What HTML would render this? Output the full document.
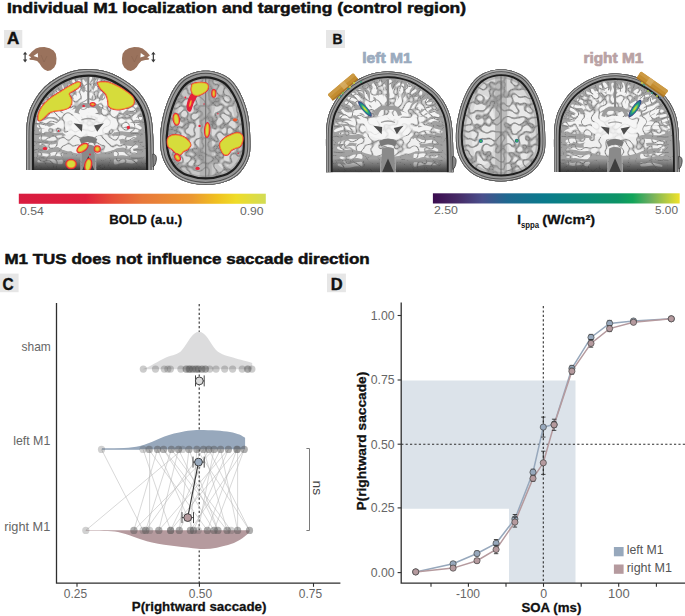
<!DOCTYPE html><html><head><meta charset="utf-8"><title>M1 TUS figure</title>
<style>html,body{margin:0;padding:0;background:#fff;}svg{display:block;}text{font-family:"Liberation Sans",sans-serif;}</style></head><body>
<svg width="685" height="616" viewBox="0 0 685 616">
<defs>
<linearGradient id="gBold" x1="0" x2="1" y1="0" y2="0">
<stop offset="0" stop-color="#d81c40"/><stop offset="0.27" stop-color="#e01f3c"/><stop offset="0.38" stop-color="#e6503a"/>
<stop offset="0.5" stop-color="#e8783a"/><stop offset="0.7" stop-color="#eb9832"/><stop offset="0.8" stop-color="#f0c020"/>
<stop offset="0.88" stop-color="#efdc28"/><stop offset="1" stop-color="#d2dc55"/></linearGradient>
<linearGradient id="gVir" x1="0" x2="1" y1="0" y2="0">
<stop offset="0" stop-color="#3b0c4f"/><stop offset="0.1" stop-color="#462a66"/><stop offset="0.2" stop-color="#4a4f8c"/>
<stop offset="0.3" stop-color="#1f6890"/><stop offset="0.45" stop-color="#0a7a8c"/><stop offset="0.6" stop-color="#0a877a"/>
<stop offset="0.75" stop-color="#0d9466"/><stop offset="0.81" stop-color="#12a45a"/><stop offset="0.88" stop-color="#6aae60"/>
<stop offset="1" stop-color="#f0e22a"/></linearGradient>
<radialGradient id="gHot" cx="0.5" cy="0.5" r="0.5">
<stop offset="0" stop-color="#e8e030"/><stop offset="0.3" stop-color="#8cc84a"/><stop offset="0.55" stop-color="#1fa080"/>
<stop offset="0.8" stop-color="#2a6a8e"/><stop offset="1" stop-color="#3a2a70"/></radialGradient>
<filter id="warp" x="-15%" y="-15%" width="130%" height="130%"><feTurbulence type="fractalNoise" baseFrequency="0.13" numOctaves="2" seed="4"/><feDisplacementMap in="SourceGraphic" scale="6" xChannelSelector="R" yChannelSelector="G"/></filter>
<filter id="soft" x="-5%" y="-5%" width="110%" height="110%"><feGaussianBlur stdDeviation="0.45"/></filter>
<filter id="cAt" x="0" y="0" width="100%" height="100%" color-interpolation-filters="sRGB"><feTurbulence type="turbulence" baseFrequency="0.13" numOctaves="1" seed="7" result="n"/><feColorMatrix in="n" type="matrix" values="0 0 0 0 0.62  0 0 0 0 0.62  0 0 0 0 0.62  0 0 0 -7 1.1" result="g"/><feColorMatrix in="n" type="matrix" values="0 0 0 0 0.45  0 0 0 0 0.45  0 0 0 0 0.45  0 0 0 -22 0.6" result="d"/><feMerge><feMergeNode in="g"/><feMergeNode in="d"/></feMerge><feComposite in2="SourceGraphic" operator="in"/></filter>
<filter id="aAt" x="0" y="0" width="100%" height="100%" color-interpolation-filters="sRGB"><feTurbulence type="turbulence" baseFrequency="0.14" numOctaves="1" seed="11" result="n"/><feColorMatrix in="n" type="matrix" values="0 0 0 0 0.6  0 0 0 0 0.6  0 0 0 0 0.6  0 0 0 -7 1.5" result="g"/><feColorMatrix in="n" type="matrix" values="0 0 0 0 0.45  0 0 0 0 0.45  0 0 0 0 0.45  0 0 0 -22 0.8" result="d"/><feMerge><feMergeNode in="g"/><feMergeNode in="d"/></feMerge><feComposite in2="SourceGraphic" operator="in"/></filter>
<filter id="cB1t" x="0" y="0" width="100%" height="100%" color-interpolation-filters="sRGB"><feTurbulence type="turbulence" baseFrequency="0.13" numOctaves="1" seed="8" result="n"/><feColorMatrix in="n" type="matrix" values="0 0 0 0 0.62  0 0 0 0 0.62  0 0 0 0 0.62  0 0 0 -7 1.1" result="g"/><feColorMatrix in="n" type="matrix" values="0 0 0 0 0.45  0 0 0 0 0.45  0 0 0 0 0.45  0 0 0 -22 0.6" result="d"/><feMerge><feMergeNode in="g"/><feMergeNode in="d"/></feMerge><feComposite in2="SourceGraphic" operator="in"/></filter>
<filter id="aBt" x="0" y="0" width="100%" height="100%" color-interpolation-filters="sRGB"><feTurbulence type="turbulence" baseFrequency="0.14" numOctaves="1" seed="12" result="n"/><feColorMatrix in="n" type="matrix" values="0 0 0 0 0.6  0 0 0 0 0.6  0 0 0 0 0.6  0 0 0 -7 1.5" result="g"/><feColorMatrix in="n" type="matrix" values="0 0 0 0 0.45  0 0 0 0 0.45  0 0 0 0 0.45  0 0 0 -22 0.8" result="d"/><feMerge><feMergeNode in="g"/><feMergeNode in="d"/></feMerge><feComposite in2="SourceGraphic" operator="in"/></filter>
<filter id="cB2t" x="0" y="0" width="100%" height="100%" color-interpolation-filters="sRGB"><feTurbulence type="turbulence" baseFrequency="0.13" numOctaves="1" seed="9" result="n"/><feColorMatrix in="n" type="matrix" values="0 0 0 0 0.62  0 0 0 0 0.62  0 0 0 0 0.62  0 0 0 -7 1.1" result="g"/><feColorMatrix in="n" type="matrix" values="0 0 0 0 0.45  0 0 0 0 0.45  0 0 0 0 0.45  0 0 0 -22 0.6" result="d"/><feMerge><feMergeNode in="g"/><feMergeNode in="d"/></feMerge><feComposite in2="SourceGraphic" operator="in"/></filter>
<clipPath id="cAclip"><path transform="translate(26.3,69)" d="M0.00,101.00 C0.00,97.50 0.00,86.00 0.00,80.00 C0.00,74.00 -0.08,69.32 0.00,65.00 C0.08,60.68 0.03,57.82 0.50,54.10 C0.97,50.38 1.75,46.12 2.80,42.70 C3.85,39.28 5.18,36.63 6.80,33.60 C8.42,30.57 10.23,27.43 12.50,24.50 C14.77,21.57 17.18,18.73 20.40,16.00 C23.62,13.27 28.00,10.27 31.80,8.10 C35.60,5.93 39.80,4.23 43.20,3.00 C46.60,1.77 48.78,1.20 52.20,0.70 C55.62,0.20 59.88,-0.10 63.70,0.00 C67.52,0.10 71.32,0.52 75.10,1.30 C78.88,2.08 82.62,3.10 86.40,4.70 C90.18,6.30 94.00,8.45 97.80,10.90 C101.60,13.35 105.98,16.37 109.20,19.40 C112.42,22.43 114.83,25.58 117.10,29.10 C119.37,32.62 121.38,36.72 122.80,40.50 C124.22,44.28 124.93,47.72 125.60,51.80 C126.27,55.88 126.52,60.30 126.80,65.00 C127.08,69.70 127.18,74.00 127.30,80.00 C127.42,86.00 127.47,97.50 127.50,101.00 Z"/></clipPath>
</defs>
<text x="7" y="12.8" font-size="15.5" font-weight="bold" fill="#111" stroke="#111" stroke-width="0.5" textLength="459" lengthAdjust="spacingAndGlyphs">Individual M1 localization and targeting (control region)</text>
<rect x="4" y="30" width="18.3" height="18" fill="#e6e6e6"/>
<text x="7" y="43.8" font-size="16" font-weight="bold" fill="#111" stroke="#111" stroke-width="0.4" textLength="12.3" lengthAdjust="spacingAndGlyphs">A</text>
<rect x="326" y="30" width="19" height="18" fill="#e6e6e6"/>
<text x="332.4" y="43.6" font-size="15" font-weight="bold" fill="#111" stroke="#111" stroke-width="0.4" textLength="10" lengthAdjust="spacingAndGlyphs">B</text>
<g transform="translate(26.3,69)"><clipPath id="cAc"><path d="M0.00,101.00 C0.00,97.50 0.00,86.00 0.00,80.00 C0.00,74.00 -0.08,69.32 0.00,65.00 C0.08,60.68 0.03,57.82 0.50,54.10 C0.97,50.38 1.75,46.12 2.80,42.70 C3.85,39.28 5.18,36.63 6.80,33.60 C8.42,30.57 10.23,27.43 12.50,24.50 C14.77,21.57 17.18,18.73 20.40,16.00 C23.62,13.27 28.00,10.27 31.80,8.10 C35.60,5.93 39.80,4.23 43.20,3.00 C46.60,1.77 48.78,1.20 52.20,0.70 C55.62,0.20 59.88,-0.10 63.70,0.00 C67.52,0.10 71.32,0.52 75.10,1.30 C78.88,2.08 82.62,3.10 86.40,4.70 C90.18,6.30 94.00,8.45 97.80,10.90 C101.60,13.35 105.98,16.37 109.20,19.40 C112.42,22.43 114.83,25.58 117.10,29.10 C119.37,32.62 121.38,36.72 122.80,40.50 C124.22,44.28 124.93,47.72 125.60,51.80 C126.27,55.88 126.52,60.30 126.80,65.00 C127.08,69.70 127.18,74.00 127.30,80.00 C127.42,86.00 127.47,97.50 127.50,101.00 Z"/></clipPath>
<g clip-path="url(#cAc)"><g filter="url(#soft)">
<rect x="-3" y="-3" width="134" height="108" fill="#a2a2a2"/>
<g>
<ellipse cx="62" cy="55" rx="30" ry="17" fill="#f4f4f4"/>
<ellipse cx="62" cy="74" rx="32" ry="11" fill="#efefef"/>
<path d="M37.14,54.43 C36.27,53.58 33.78,54.30 32.11,54.54 C30.44,54.78 28.78,55.34 27.13,55.88 C25.47,56.42 23.85,57.81 22.16,57.77 C20.48,57.73 18.73,56.02 17.04,55.65 C15.34,55.29 13.06,55.31 11.99,55.56 C10.92,55.82 10.57,56.67 10.59,57.19 C10.62,57.71 11.02,58.36 12.12,58.69 C13.22,59.03 15.48,58.70 17.18,59.21 C18.89,59.71 20.64,61.56 22.33,61.74 C24.02,61.92 25.65,60.67 27.31,60.27 C28.97,59.87 30.64,59.45 32.31,59.35 C33.99,59.24 36.56,60.47 37.36,59.65 C38.17,58.83 38.02,55.28 37.14,54.43 Z" fill="#f4f4f4"/><path d="M20.02,56.60 C19.41,56.70 19.83,58.71 19.29,59.42 C18.75,60.14 17.42,60.26 16.77,60.90 C16.13,61.54 15.60,62.61 15.42,63.25 C15.23,63.89 15.38,64.51 15.67,64.73 C15.96,64.95 16.62,64.94 17.16,64.58 C17.70,64.21 18.14,63.06 18.91,62.52 C19.69,61.98 21.14,61.96 21.81,61.34 C22.48,60.72 23.23,59.60 22.93,58.81 C22.63,58.02 20.62,56.49 20.02,56.60 Z" fill="#f4f4f4"/>
<path d="M37.81,51.38 C37.01,50.73 34.26,52.72 32.55,52.51 C30.85,52.30 29.28,50.62 27.60,50.13 C25.92,49.65 24.22,49.37 22.48,49.61 C20.74,49.86 18.90,51.31 17.15,51.60 C15.41,51.89 13.12,51.17 12.01,51.36 C10.90,51.55 10.51,52.25 10.47,52.75 C10.43,53.26 10.69,54.01 11.75,54.39 C12.82,54.76 15.12,55.19 16.86,55.03 C18.59,54.87 20.42,53.55 22.15,53.44 C23.88,53.33 25.57,53.75 27.23,54.37 C28.90,54.99 30.46,56.81 32.16,57.15 C33.85,57.49 36.44,57.38 37.38,56.42 C38.32,55.46 38.62,52.03 37.81,51.38 Z" fill="#f4f4f4"/>
<path d="M39.22,47.47 C38.59,46.49 35.81,47.05 34.20,46.48 C32.58,45.92 31.22,44.40 29.55,44.05 C27.88,43.71 25.95,44.37 24.18,44.40 C22.42,44.44 20.64,44.50 18.94,44.27 C17.24,44.04 15.11,43.05 13.99,43.03 C12.87,43.01 12.37,43.65 12.24,44.14 C12.11,44.63 12.25,45.38 13.23,45.96 C14.20,46.54 16.41,47.24 18.08,47.60 C19.74,47.95 21.48,48.02 23.22,48.11 C24.95,48.21 26.85,47.68 28.48,48.16 C30.12,48.63 31.45,50.28 33.03,50.98 C34.60,51.68 36.91,52.94 37.95,52.35 C38.98,51.77 39.84,48.45 39.22,47.47 Z" fill="#f4f4f4"/><path d="M24.08,44.86 C24.51,44.18 24.10,43.10 23.57,42.54 C23.04,41.98 21.56,41.96 20.90,41.47 C20.23,40.98 20.03,39.98 19.57,39.62 C19.11,39.26 18.46,39.12 18.16,39.30 C17.85,39.47 17.65,40.11 17.73,40.68 C17.82,41.26 18.12,42.20 18.65,42.77 C19.19,43.33 20.52,43.43 20.92,44.07 C21.31,44.72 20.50,46.50 21.03,46.63 C21.55,46.76 23.66,45.54 24.08,44.86 Z" fill="#f4f4f4"/>
<path d="M40.57,45.08 C40.05,44.04 37.07,44.66 35.53,43.89 C33.99,43.11 32.92,41.10 31.34,40.44 C29.76,39.77 27.86,39.96 26.04,39.92 C24.23,39.88 22.03,40.86 20.45,40.20 C18.87,39.55 17.52,36.54 16.54,36.00 C15.56,35.46 14.75,36.48 14.56,36.99 C14.37,37.49 14.63,37.92 15.40,39.03 C16.17,40.14 17.63,42.85 19.16,43.64 C20.69,44.43 22.84,43.58 24.60,43.76 C26.37,43.93 28.21,43.88 29.75,44.68 C31.28,45.48 32.30,47.63 33.79,48.54 C35.27,49.44 37.54,50.71 38.68,50.13 C39.81,49.56 41.09,46.12 40.57,45.08 Z" fill="#f4f4f4"/>
<path d="M42.70,42.33 C42.34,41.28 39.73,40.77 38.36,39.79 C36.98,38.81 35.97,37.21 34.47,36.46 C32.97,35.71 31.05,35.68 29.34,35.28 C27.64,34.88 25.75,34.79 24.24,34.05 C22.73,33.32 21.22,31.31 20.27,30.86 C19.33,30.41 18.79,31.00 18.57,31.38 C18.35,31.76 18.27,32.24 18.97,33.12 C19.67,33.99 21.31,35.77 22.76,36.61 C24.21,37.45 26.04,37.63 27.69,38.13 C29.34,38.63 31.20,38.76 32.64,39.62 C34.09,40.47 35.04,42.17 36.36,43.25 C37.67,44.32 39.47,46.24 40.52,46.09 C41.58,45.94 43.06,43.38 42.70,42.33 Z" fill="#f4f4f4"/><path d="M29.36,35.78 C28.95,35.46 28.10,36.81 27.39,36.87 C26.67,36.94 25.77,35.90 25.09,36.15 C24.41,36.41 23.72,37.85 23.31,38.40 C22.90,38.95 22.58,39.15 22.63,39.45 C22.69,39.75 23.15,40.38 23.63,40.20 C24.10,40.01 24.77,38.47 25.47,38.35 C26.18,38.22 27.10,39.40 27.84,39.47 C28.58,39.54 29.63,39.39 29.89,38.77 C30.14,38.16 29.78,36.10 29.36,35.78 Z" fill="#f4f4f4"/>
<path d="M44.95,39.97 C44.74,38.96 42.31,38.28 40.99,37.43 C39.67,36.58 38.15,36.00 37.03,34.89 C35.92,33.78 35.47,31.81 34.29,30.78 C33.11,29.75 31.55,29.22 29.96,28.73 C28.36,28.24 25.88,27.95 24.71,27.86 C23.53,27.76 23.18,27.80 22.90,28.15 C22.63,28.50 22.20,29.47 23.07,29.97 C23.94,30.47 26.57,30.55 28.10,31.13 C29.62,31.71 31.11,32.34 32.22,33.46 C33.33,34.58 33.70,36.65 34.74,37.85 C35.78,39.05 37.23,39.73 38.48,40.67 C39.73,41.61 41.14,43.61 42.22,43.49 C43.30,43.37 45.15,40.98 44.95,39.97 Z" fill="#f4f4f4"/><path d="M30.62,30.16 C30.19,29.73 28.99,30.47 28.18,30.69 C27.37,30.91 26.57,31.51 25.76,31.47 C24.94,31.43 23.82,30.45 23.26,30.43 C22.71,30.42 22.41,31.09 22.42,31.40 C22.44,31.71 22.76,31.91 23.33,32.30 C23.90,32.70 25.01,33.57 25.83,33.76 C26.66,33.94 27.46,33.47 28.28,33.39 C29.09,33.31 30.34,33.82 30.73,33.28 C31.12,32.74 31.04,30.60 30.62,30.16 Z" fill="#f4f4f4"/>
<path d="M48.15,37.50 C48.16,36.41 45.49,35.66 44.43,34.48 C43.36,33.31 42.64,31.81 41.78,30.45 C40.92,29.08 40.34,27.46 39.27,26.29 C38.20,25.12 36.77,24.30 35.37,23.43 C33.97,22.57 31.99,21.51 30.89,21.13 C29.79,20.74 29.14,20.78 28.77,21.13 C28.39,21.49 27.96,22.47 28.63,23.25 C29.30,24.04 31.51,24.89 32.81,25.85 C34.10,26.80 35.44,27.72 36.40,28.98 C37.37,30.25 37.86,31.96 38.62,33.43 C39.37,34.89 40.00,36.47 40.96,37.74 C41.92,39.01 43.18,41.09 44.38,41.05 C45.58,41.01 48.14,38.59 48.15,37.50 Z" fill="#f4f4f4"/><path d="M35.46,25.57 C35.07,25.08 33.23,26.31 32.25,26.12 C31.27,25.93 30.50,24.87 29.59,24.42 C28.67,23.98 27.43,23.47 26.75,23.44 C26.07,23.41 25.59,23.90 25.51,24.25 C25.42,24.60 25.66,25.09 26.24,25.55 C26.81,26.01 28.08,26.40 28.96,27.01 C29.84,27.61 30.56,28.82 31.51,29.17 C32.45,29.52 33.94,29.69 34.60,29.09 C35.26,28.49 35.85,26.07 35.46,25.57 Z" fill="#f4f4f4"/>
<path d="M50.99,36.04 C51.25,34.90 50.09,32.83 49.00,31.67 C47.90,30.50 45.64,30.13 44.40,29.07 C43.15,28.01 42.26,26.71 41.53,25.30 C40.80,23.88 40.57,22.13 40.00,20.60 C39.43,19.08 38.72,16.94 38.11,16.16 C37.51,15.37 36.71,15.64 36.35,15.89 C35.99,16.13 35.76,16.57 35.96,17.63 C36.16,18.70 37.08,20.69 37.56,22.28 C38.03,23.86 38.16,25.69 38.80,27.17 C39.44,28.64 40.23,30.01 41.38,31.14 C42.53,32.27 44.69,32.70 45.69,33.93 C46.69,35.16 46.51,38.15 47.39,38.50 C48.27,38.86 50.72,37.18 50.99,36.04 Z" fill="#f4f4f4"/>
<path d="M53.37,35.02 C53.71,34.00 52.00,32.36 51.47,30.95 C50.94,29.54 51.18,27.72 50.19,26.55 C49.20,25.38 46.60,25.07 45.53,23.94 C44.46,22.82 44.17,21.27 43.75,19.80 C43.32,18.34 43.40,15.99 42.98,15.13 C42.56,14.27 41.61,14.44 41.21,14.65 C40.82,14.86 40.64,15.29 40.62,16.39 C40.59,17.48 40.75,19.71 41.07,21.23 C41.39,22.76 41.56,24.36 42.53,25.54 C43.50,26.72 45.99,27.09 46.87,28.31 C47.76,29.54 47.42,31.41 47.84,32.88 C48.27,34.35 48.51,36.76 49.43,37.12 C50.35,37.48 53.03,36.05 53.37,35.02 Z" fill="#f4f4f4"/>
<path d="M57.08,33.92 C57.40,32.97 55.07,31.24 54.57,29.72 C54.07,28.21 54.34,26.44 54.10,24.84 C53.85,23.24 53.60,21.65 53.12,20.13 C52.64,18.61 52.00,17.14 51.23,15.72 C50.46,14.30 49.24,12.41 48.50,11.59 C47.75,10.77 47.19,10.64 46.74,10.79 C46.30,10.94 45.58,11.50 45.82,12.49 C46.07,13.48 47.55,15.27 48.20,16.73 C48.85,18.20 49.38,19.70 49.73,21.26 C50.09,22.82 50.23,24.45 50.36,26.09 C50.48,27.73 50.10,29.54 50.47,31.10 C50.85,32.65 51.52,34.94 52.62,35.42 C53.72,35.89 56.75,34.87 57.08,33.92 Z" fill="#f4f4f4"/><path d="M50.28,17.52 C50.08,16.82 48.60,16.70 47.74,16.35 C46.87,16.00 46.05,15.55 45.08,15.43 C44.11,15.31 42.65,15.53 41.92,15.65 C41.18,15.77 40.81,15.87 40.67,16.17 C40.54,16.47 40.53,17.20 41.10,17.45 C41.67,17.69 43.18,17.38 44.09,17.63 C45.00,17.88 45.76,18.47 46.56,18.95 C47.37,19.43 48.30,20.75 48.92,20.51 C49.54,20.27 50.48,18.21 50.28,17.52 Z" fill="#f4f4f4"/>
<path d="M59.62,33.47 C60.53,32.51 60.09,30.34 59.91,28.87 C59.74,27.39 59.46,25.94 58.59,24.63 C57.71,23.31 55.49,22.30 54.64,20.97 C53.79,19.65 53.53,18.20 53.49,16.69 C53.44,15.19 54.55,12.92 54.39,11.95 C54.22,10.98 53.03,10.74 52.51,10.85 C52.00,10.97 51.71,11.54 51.29,12.65 C50.87,13.75 50.07,15.95 49.98,17.49 C49.88,19.02 50.01,20.51 50.72,21.86 C51.43,23.21 53.51,24.26 54.25,25.60 C54.99,26.95 55.13,28.43 55.17,29.94 C55.20,31.45 53.72,34.05 54.46,34.64 C55.21,35.23 58.71,34.44 59.62,33.47 Z" fill="#f4f4f4"/><path d="M55.43,20.46 C55.54,19.67 54.41,19.17 53.80,18.65 C53.19,18.14 52.59,17.61 51.79,17.35 C50.98,17.08 49.68,17.09 48.96,17.08 C48.24,17.08 47.69,17.04 47.46,17.33 C47.24,17.62 47.16,18.48 47.61,18.84 C48.05,19.20 49.42,19.10 50.13,19.50 C50.83,19.89 51.34,20.55 51.84,21.20 C52.35,21.85 52.57,23.52 53.17,23.40 C53.77,23.27 55.33,21.25 55.43,20.46 Z" fill="#f4f4f4"/>
<path d="M63.12,33.45 C63.80,32.68 62.15,30.62 61.81,29.19 C61.46,27.76 60.77,26.35 61.07,24.88 C61.38,23.40 63.56,21.80 63.62,20.34 C63.69,18.88 62.32,17.53 61.46,16.13 C60.61,14.74 59.28,12.91 58.49,11.98 C57.71,11.06 57.30,10.54 56.76,10.58 C56.22,10.62 55.07,11.25 55.24,12.22 C55.41,13.18 57.07,14.99 57.78,16.40 C58.49,17.80 59.71,19.16 59.50,20.63 C59.29,22.10 56.97,23.72 56.52,25.20 C56.07,26.69 56.62,28.10 56.82,29.54 C57.02,30.98 56.65,33.19 57.70,33.84 C58.75,34.49 62.44,34.23 63.12,33.45 Z" fill="#f4f4f4"/><path d="M60.96,23.12 C61.66,23.37 62.10,22.57 62.37,22.02 C62.65,21.48 62.33,20.37 62.62,19.84 C62.92,19.32 63.92,19.29 64.16,18.86 C64.40,18.44 64.33,17.57 64.05,17.31 C63.77,17.05 63.07,17.20 62.49,17.31 C61.91,17.41 61.01,17.53 60.59,17.94 C60.17,18.35 60.37,19.34 59.96,19.77 C59.56,20.20 58.01,19.96 58.18,20.52 C58.35,21.08 60.26,22.87 60.96,23.12 Z" fill="#f4f4f4"/>
<path d="M65.52,33.71 C66.33,32.93 64.88,30.42 65.16,28.79 C65.44,27.17 67.11,25.60 67.18,23.97 C67.25,22.34 66.18,20.66 65.57,19.00 C64.97,17.34 63.51,15.64 63.57,14.01 C63.62,12.38 65.77,10.25 65.90,9.20 C66.04,8.14 64.92,7.69 64.40,7.67 C63.88,7.65 63.50,8.04 62.77,9.07 C62.04,10.10 60.21,12.24 60.02,13.86 C59.82,15.49 61.14,17.18 61.61,18.84 C62.07,20.49 63.00,22.16 62.79,23.79 C62.58,25.42 60.77,26.98 60.36,28.60 C59.94,30.22 59.44,32.65 60.30,33.50 C61.16,34.36 64.71,34.50 65.52,33.71 Z" fill="#f4f4f4"/><path d="M64.91,18.31 C65.65,18.35 66.08,16.77 66.70,16.03 C67.32,15.29 67.99,14.60 68.63,13.88 C69.26,13.16 70.21,12.30 70.51,11.69 C70.81,11.07 70.69,10.44 70.42,10.19 C70.16,9.94 69.54,9.87 68.92,10.18 C68.30,10.49 67.43,11.42 66.68,12.04 C65.93,12.65 65.14,13.23 64.40,13.85 C63.66,14.48 62.17,15.05 62.25,15.80 C62.34,16.54 64.16,18.27 64.91,18.31 Z" fill="#f4f4f4"/>
<path d="M69.26,34.60 C70.29,34.00 70.98,31.67 71.12,30.03 C71.25,28.40 70.06,26.46 70.09,24.80 C70.12,23.15 70.72,21.62 71.30,20.09 C71.89,18.56 73.03,17.17 73.59,15.63 C74.15,14.10 74.65,11.93 74.66,10.89 C74.67,9.85 74.08,9.48 73.65,9.38 C73.21,9.27 72.56,9.36 72.06,10.29 C71.57,11.21 71.32,13.44 70.65,14.95 C69.97,16.46 68.71,17.83 68.01,19.33 C67.31,20.83 66.60,22.33 66.45,23.96 C66.30,25.59 67.39,27.50 67.13,29.11 C66.88,30.71 64.58,32.67 64.93,33.59 C65.29,34.50 68.23,35.19 69.26,34.60 Z" fill="#f4f4f4"/>
<path d="M71.72,35.44 C72.68,35.01 72.15,32.55 72.46,31.14 C72.78,29.72 72.93,28.25 73.59,26.96 C74.25,25.66 75.99,24.73 76.41,23.35 C76.82,21.97 76.22,20.25 76.09,18.68 C75.97,17.12 75.90,15.08 75.66,13.98 C75.42,12.88 75.13,12.24 74.63,12.07 C74.13,11.91 72.98,12.06 72.66,12.97 C72.34,13.88 72.71,16.02 72.70,17.54 C72.69,19.05 73.16,20.73 72.61,22.07 C72.06,23.40 70.18,24.29 69.39,25.54 C68.60,26.79 68.31,28.21 67.87,29.58 C67.42,30.95 66.08,32.78 66.73,33.76 C67.37,34.73 70.77,35.88 71.72,35.44 Z" fill="#f4f4f4"/><path d="M74.47,23.56 C74.80,23.03 73.23,22.39 73.01,21.66 C72.79,20.93 73.53,19.84 73.14,19.17 C72.75,18.50 71.31,18.00 70.66,17.64 C70.02,17.29 69.61,16.93 69.27,17.05 C68.92,17.18 68.36,17.90 68.58,18.41 C68.81,18.91 70.36,19.38 70.60,20.10 C70.84,20.83 69.94,21.97 70.01,22.76 C70.07,23.55 70.26,24.70 71.00,24.83 C71.75,24.97 74.13,24.09 74.47,23.56 Z" fill="#f4f4f4"/>
<path d="M75.63,37.52 C76.99,37.37 77.98,35.15 78.96,33.86 C79.94,32.57 81.12,31.39 81.52,29.77 C81.92,28.15 81.20,25.89 81.37,24.14 C81.54,22.38 81.76,20.66 82.53,19.25 C83.31,17.84 85.56,16.64 86.02,15.68 C86.49,14.72 85.82,13.78 85.34,13.50 C84.85,13.23 84.13,13.39 83.12,14.04 C82.10,14.69 80.14,16.05 79.24,17.39 C78.33,18.73 77.98,20.38 77.68,22.06 C77.39,23.74 77.98,25.92 77.45,27.47 C76.92,29.02 75.61,30.12 74.50,31.34 C73.39,32.56 70.60,33.76 70.78,34.79 C70.97,35.82 74.27,37.68 75.63,37.52 Z" fill="#f4f4f4"/><path d="M81.94,24.00 C82.46,23.60 81.26,22.60 81.17,21.89 C81.07,21.17 81.51,20.42 81.37,19.71 C81.23,18.99 80.71,18.13 80.33,17.61 C79.95,17.10 79.48,16.58 79.09,16.61 C78.70,16.64 78.10,17.23 78.00,17.78 C77.91,18.33 78.55,19.18 78.52,19.91 C78.49,20.63 77.88,21.40 77.80,22.12 C77.72,22.85 77.36,23.96 78.05,24.27 C78.74,24.58 81.42,24.39 81.94,24.00 Z" fill="#f4f4f4"/>
<path d="M77.24,38.69 C78.50,38.61 79.82,36.66 80.40,35.16 C80.97,33.65 79.94,31.04 80.70,29.65 C81.46,28.27 83.55,27.82 84.93,26.87 C86.32,25.92 88.35,25.42 89.00,23.97 C89.65,22.51 88.95,19.47 88.84,18.15 C88.74,16.82 88.81,16.30 88.37,15.99 C87.93,15.69 86.59,15.33 86.19,16.31 C85.79,17.30 86.76,20.52 86.00,21.89 C85.23,23.26 83.08,23.68 81.58,24.55 C80.08,25.41 77.86,25.79 76.99,27.09 C76.12,28.39 77.03,30.92 76.33,32.35 C75.64,33.77 72.67,34.58 72.82,35.63 C72.97,36.69 75.98,38.77 77.24,38.69 Z" fill="#f4f4f4"/><path d="M84.99,25.09 C85.45,24.71 84.08,24.08 84.02,23.49 C83.96,22.91 84.89,22.15 84.65,21.60 C84.40,21.05 83.11,20.58 82.55,20.21 C81.98,19.84 81.62,19.31 81.25,19.38 C80.88,19.45 80.22,20.17 80.33,20.62 C80.45,21.08 81.86,21.53 81.94,22.10 C82.02,22.68 80.93,23.48 80.82,24.09 C80.71,24.70 80.60,25.61 81.30,25.78 C81.99,25.94 84.54,25.47 84.99,25.09 Z" fill="#f4f4f4"/>
<path d="M79.67,40.68 C80.91,40.65 81.79,37.97 83.12,36.85 C84.44,35.73 86.57,35.35 87.62,33.98 C88.67,32.60 88.74,30.35 89.39,28.61 C90.05,26.88 90.55,25.01 91.53,23.58 C92.50,22.14 94.66,20.96 95.25,19.99 C95.84,19.02 95.47,18.13 95.07,17.77 C94.67,17.40 93.88,17.24 92.84,17.79 C91.79,18.34 89.88,19.74 88.80,21.08 C87.72,22.42 87.10,24.19 86.35,25.83 C85.59,27.46 85.40,29.63 84.25,30.90 C83.10,32.18 80.86,32.46 79.43,33.48 C78.00,34.50 75.62,35.82 75.66,37.02 C75.70,38.22 78.42,40.71 79.67,40.68 Z" fill="#f4f4f4"/>
<path d="M82.46,43.37 C83.57,43.50 85.15,41.55 86.42,40.56 C87.70,39.56 89.02,38.61 90.13,37.39 C91.24,36.17 91.92,34.39 93.08,33.23 C94.23,32.07 95.59,31.18 97.06,30.43 C98.52,29.67 101.03,29.31 101.86,28.72 C102.69,28.13 102.32,27.25 102.05,26.90 C101.78,26.54 101.38,26.40 100.25,26.58 C99.11,26.76 96.76,27.34 95.22,28.00 C93.69,28.65 92.26,29.45 91.03,30.51 C89.81,31.58 89.05,33.26 87.86,34.39 C86.68,35.52 85.30,36.37 83.95,37.27 C82.60,38.17 80.01,38.78 79.77,39.80 C79.52,40.82 81.35,43.25 82.46,43.37 Z" fill="#f4f4f4"/>
<path d="M84.24,45.85 C85.37,46.03 87.23,43.88 88.86,43.13 C90.49,42.38 92.41,42.14 94.03,41.37 C95.65,40.60 97.15,39.62 98.58,38.52 C100.01,37.41 101.35,36.15 102.62,34.77 C103.89,33.38 105.53,31.26 106.20,30.21 C106.86,29.16 106.83,28.84 106.61,28.46 C106.40,28.08 105.81,27.31 104.90,27.93 C103.99,28.55 102.47,30.90 101.15,32.18 C99.82,33.46 98.42,34.63 96.93,35.63 C95.45,36.63 93.89,37.51 92.21,38.18 C90.54,38.84 88.56,38.99 86.87,39.63 C85.18,40.28 82.51,41.01 82.07,42.05 C81.63,43.09 83.10,45.67 84.24,45.85 Z" fill="#f4f4f4"/><path d="M100.00,35.48 C100.52,35.01 100.06,33.22 100.11,32.10 C100.16,30.97 100.03,29.81 100.31,28.72 C100.58,27.64 101.63,26.27 101.75,25.58 C101.86,24.88 101.30,24.62 100.99,24.57 C100.69,24.51 100.42,24.62 99.94,25.25 C99.45,25.88 98.50,27.26 98.09,28.33 C97.69,29.39 97.68,30.52 97.49,31.63 C97.31,32.73 96.57,34.30 96.98,34.94 C97.40,35.58 99.48,35.96 100.00,35.48 Z" fill="#f4f4f4"/>
<path d="M85.74,48.77 C86.85,49.12 88.99,47.24 90.66,46.59 C92.34,45.95 94.20,45.77 95.77,44.87 C97.34,43.97 98.44,41.91 100.08,41.20 C101.73,40.49 103.92,41.11 105.66,40.62 C107.40,40.13 109.59,38.95 110.51,38.26 C111.43,37.57 111.37,36.90 111.19,36.47 C111.01,36.04 110.57,35.47 109.45,35.68 C108.33,35.88 106.25,37.31 104.46,37.69 C102.67,38.06 100.44,37.33 98.74,37.93 C97.04,38.52 95.90,40.47 94.29,41.25 C92.67,42.04 90.76,42.10 89.04,42.63 C87.32,43.17 84.52,43.44 83.97,44.46 C83.42,45.48 84.62,48.41 85.74,48.77 Z" fill="#f4f4f4"/><path d="M101.62,41.00 C101.85,41.67 103.27,41.82 104.18,42.01 C105.09,42.21 106.19,41.93 107.09,42.16 C107.98,42.39 108.95,43.28 109.56,43.39 C110.18,43.50 110.65,43.12 110.77,42.81 C110.89,42.51 110.75,42.05 110.28,41.57 C109.81,41.09 108.80,40.30 107.96,39.93 C107.11,39.57 106.07,39.71 105.21,39.38 C104.35,39.06 103.41,37.69 102.81,37.96 C102.21,38.23 101.39,40.32 101.62,41.00 Z" fill="#f4f4f4"/>
<path d="M87.03,52.58 C88.10,53.11 90.71,52.06 92.47,51.44 C94.23,50.81 95.80,49.36 97.58,48.82 C99.36,48.29 101.26,48.31 103.15,48.24 C105.03,48.17 107.14,49.07 108.89,48.41 C110.64,47.75 112.70,45.23 113.64,44.27 C114.59,43.32 114.66,43.13 114.56,42.69 C114.47,42.26 114.11,41.20 113.05,41.66 C111.99,42.12 109.99,44.90 108.21,45.45 C106.44,46.00 104.30,44.98 102.39,44.94 C100.48,44.89 98.55,44.76 96.74,45.17 C94.94,45.59 93.34,46.93 91.56,47.44 C89.77,47.95 86.79,47.37 86.04,48.23 C85.28,49.09 85.96,52.04 87.03,52.58 Z" fill="#f4f4f4"/>
<path d="M87.55,55.92 C88.54,56.54 91.01,54.10 92.83,53.97 C94.65,53.84 96.65,55.21 98.47,55.14 C100.30,55.07 102.05,54.28 103.80,53.57 C105.55,52.86 107.21,51.32 109.00,50.88 C110.78,50.45 113.36,51.26 114.51,50.96 C115.66,50.65 115.97,49.64 115.90,49.07 C115.84,48.50 115.34,47.89 114.12,47.55 C112.89,47.21 110.35,46.74 108.55,47.03 C106.75,47.31 105.07,48.70 103.30,49.26 C101.53,49.82 99.77,50.46 97.92,50.38 C96.08,50.29 94.07,48.77 92.23,48.75 C90.39,48.73 87.67,49.06 86.89,50.25 C86.11,51.45 86.56,55.30 87.55,55.92 Z" fill="#f4f4f4"/>
<path d="M87.65,59.32 C88.50,60.23 91.14,59.44 92.89,59.21 C94.64,58.97 96.41,58.17 98.16,57.90 C99.91,57.64 101.66,57.56 103.40,57.62 C105.15,57.68 106.89,57.81 108.63,58.29 C110.37,58.76 112.69,60.38 113.82,60.48 C114.95,60.57 115.41,59.39 115.42,58.84 C115.43,58.28 115.01,57.86 113.89,57.13 C112.77,56.41 110.44,55.12 108.71,54.50 C106.97,53.87 105.23,53.60 103.49,53.38 C101.75,53.17 100.00,53.11 98.26,53.22 C96.51,53.34 94.75,53.99 93.00,54.08 C91.25,54.17 88.66,52.88 87.77,53.75 C86.87,54.62 86.80,58.41 87.65,59.32 Z" fill="#f4f4f4"/><path d="M108.38,58.51 C109.07,58.88 109.79,58.20 110.20,57.63 C110.60,57.07 110.33,55.60 110.79,55.12 C111.25,54.63 112.58,55.06 112.97,54.73 C113.36,54.40 113.38,53.45 113.15,53.14 C112.91,52.82 112.25,52.90 111.57,52.85 C110.90,52.79 109.65,52.47 109.09,52.82 C108.52,53.16 108.68,54.49 108.18,54.92 C107.67,55.34 106.02,54.78 106.06,55.38 C106.09,55.97 107.69,58.13 108.38,58.51 Z" fill="#f4f4f4"/>
<path d="M35.91,58.69 C35.15,58.06 32.99,59.34 31.53,59.55 C30.07,59.77 28.61,60.00 27.14,60.00 C25.67,59.99 24.18,59.61 22.71,59.54 C21.23,59.48 19.76,59.53 18.30,59.61 C16.83,59.69 14.84,59.71 13.90,60.01 C12.96,60.32 12.64,60.99 12.66,61.45 C12.68,61.91 13.05,62.57 14.01,62.79 C14.97,63.01 16.95,62.71 18.42,62.76 C19.89,62.80 21.37,62.87 22.84,63.06 C24.32,63.24 25.81,63.76 27.29,63.88 C28.76,64.01 30.23,63.90 31.70,63.81 C33.16,63.72 35.39,64.17 36.09,63.31 C36.79,62.46 36.67,59.31 35.91,58.69 Z" fill="#f0f0f0"/>
<path d="M35.90,66.72 C35.13,65.93 32.93,66.37 31.47,66.55 C30.00,66.74 28.55,67.56 27.09,67.84 C25.62,68.11 24.15,68.24 22.67,68.20 C21.19,68.17 19.70,67.71 18.22,67.62 C16.73,67.54 14.73,67.44 13.79,67.69 C12.85,67.94 12.55,68.66 12.57,69.11 C12.59,69.57 12.94,70.16 13.90,70.43 C14.87,70.70 16.86,70.51 18.35,70.72 C19.83,70.93 21.33,71.51 22.82,71.67 C24.30,71.82 25.78,71.82 27.25,71.66 C28.72,71.51 30.17,70.81 31.64,70.75 C33.12,70.68 35.39,71.95 36.10,71.28 C36.81,70.61 36.68,67.51 35.90,66.72 Z" fill="#f0f0f0"/>
<path d="M36.09,75.11 C35.40,74.37 33.20,74.42 31.73,74.45 C30.27,74.47 28.77,75.08 27.30,75.28 C25.82,75.47 24.34,75.70 22.88,75.61 C21.42,75.53 19.98,75.04 18.53,74.75 C17.08,74.47 15.09,73.85 14.18,73.89 C13.27,73.92 13.09,74.59 13.07,74.97 C13.05,75.34 13.18,75.76 14.07,76.15 C14.96,76.54 16.96,76.93 18.41,77.32 C19.85,77.71 21.29,78.30 22.74,78.48 C24.20,78.67 25.67,78.54 27.14,78.45 C28.61,78.35 30.10,77.85 31.56,77.92 C33.02,77.99 35.15,79.36 35.91,78.89 C36.66,78.42 36.79,75.85 36.09,75.11 Z" fill="#f0f0f0"/><path d="M24.12,75.49 C23.57,75.44 23.12,76.58 22.62,77.10 C22.11,77.63 21.51,78.06 21.06,78.66 C20.62,79.26 20.14,80.18 19.95,80.70 C19.77,81.22 19.77,81.59 19.95,81.78 C20.13,81.98 20.63,82.14 21.04,81.86 C21.44,81.57 21.86,80.59 22.39,80.08 C22.91,79.57 23.59,79.23 24.18,78.78 C24.77,78.34 25.93,77.98 25.92,77.43 C25.91,76.88 24.67,75.54 24.12,75.49 Z" fill="#f0f0f0"/>
<path d="M35.92,83.02 C35.12,82.41 32.83,83.26 31.28,83.28 C29.74,83.30 28.17,82.91 26.63,83.14 C25.09,83.37 23.59,84.49 22.04,84.67 C20.50,84.85 18.93,84.33 17.38,84.20 C15.82,84.08 13.67,83.77 12.72,83.93 C11.77,84.09 11.64,84.77 11.66,85.16 C11.67,85.56 11.84,86.02 12.81,86.30 C13.78,86.59 15.92,86.66 17.48,86.89 C19.04,87.12 20.62,87.74 22.16,87.67 C23.71,87.60 25.22,86.59 26.76,86.46 C28.31,86.34 29.88,86.83 31.43,86.91 C32.98,87.00 35.33,87.62 36.08,86.98 C36.83,86.33 36.72,83.64 35.92,83.02 Z" fill="#f0f0f0"/>
<path d="M36.12,91.00 C35.36,90.39 32.91,91.44 31.33,91.33 C29.74,91.23 28.19,90.55 26.62,90.36 C25.04,90.17 23.45,90.13 21.86,90.20 C20.26,90.26 18.65,90.63 17.05,90.78 C15.45,90.92 13.26,90.81 12.26,91.05 C11.27,91.28 11.10,91.78 11.07,92.18 C11.05,92.58 11.15,93.23 12.12,93.44 C13.09,93.66 15.30,93.53 16.89,93.49 C18.48,93.46 20.09,93.20 21.68,93.23 C23.26,93.27 24.84,93.42 26.42,93.72 C27.99,94.02 29.53,94.80 31.11,95.01 C32.69,95.22 35.05,95.67 35.88,95.00 C36.72,94.33 36.88,91.61 36.12,91.00 Z" fill="#f0f0f0"/>
<path d="M87.99,63.11 C88.76,63.69 91.08,62.50 92.62,62.38 C94.16,62.26 95.71,62.29 97.25,62.39 C98.79,62.48 100.33,62.85 101.87,62.93 C103.41,63.02 104.95,62.91 106.50,62.90 C108.04,62.90 110.15,63.13 111.12,62.92 C112.09,62.71 112.30,62.08 112.31,61.66 C112.31,61.24 112.10,60.66 111.13,60.39 C110.16,60.12 108.05,60.15 106.50,60.04 C104.96,59.93 103.42,59.93 101.88,59.73 C100.34,59.53 98.80,59.05 97.26,58.85 C95.72,58.64 94.17,58.50 92.63,58.50 C91.09,58.51 88.78,58.13 88.01,58.89 C87.23,59.66 87.22,62.53 87.99,63.11 Z" fill="#f0f0f0"/>
<path d="M88.02,71.01 C88.73,71.64 90.83,71.02 92.24,70.80 C93.64,70.58 95.04,69.64 96.45,69.68 C97.85,69.72 99.27,70.87 100.68,71.05 C102.09,71.22 103.49,71.07 104.89,70.72 C106.30,70.38 108.21,69.47 109.10,68.97 C109.98,68.48 110.21,68.16 110.21,67.76 C110.21,67.35 109.96,66.52 109.07,66.56 C108.18,66.60 106.27,67.75 104.87,67.99 C103.46,68.23 102.06,68.27 100.65,67.99 C99.24,67.71 97.82,66.45 96.41,66.31 C95.01,66.16 93.61,66.99 92.20,67.10 C90.80,67.21 88.68,66.34 87.98,66.99 C87.28,67.64 87.31,70.37 88.02,71.01 Z" fill="#f0f0f0"/>
<path d="M87.85,79.22 C88.55,79.92 90.87,79.07 92.38,78.95 C93.90,78.82 95.44,78.28 96.93,78.49 C98.42,78.70 99.84,79.98 101.33,80.23 C102.81,80.48 104.34,80.20 105.86,79.99 C107.38,79.77 109.46,79.34 110.45,78.96 C111.43,78.58 111.75,78.15 111.78,77.71 C111.81,77.26 111.58,76.41 110.63,76.29 C109.68,76.17 107.58,76.87 106.07,76.97 C104.55,77.06 103.04,77.22 101.56,76.86 C100.08,76.49 98.67,75.09 97.19,74.76 C95.70,74.42 94.17,74.86 92.66,74.86 C91.16,74.86 88.96,74.05 88.15,74.78 C87.35,75.51 87.14,78.53 87.85,79.22 Z" fill="#f0f0f0"/><path d="M100.65,79.20 C100.67,79.77 101.98,79.70 102.57,80.04 C103.17,80.38 103.67,80.85 104.24,81.24 C104.81,81.62 105.48,82.19 105.98,82.33 C106.48,82.47 107.05,82.33 107.23,82.07 C107.41,81.82 107.34,81.25 107.06,80.80 C106.78,80.35 106.05,79.87 105.56,79.37 C105.08,78.88 104.66,78.29 104.14,77.84 C103.62,77.39 103.04,76.43 102.46,76.66 C101.88,76.89 100.63,78.64 100.65,79.20 Z" fill="#f0f0f0"/>
<path d="M88.09,86.91 C88.84,87.45 90.98,86.48 92.43,86.38 C93.88,86.28 95.33,86.23 96.79,86.31 C98.25,86.39 99.73,87.09 101.18,86.86 C102.62,86.63 104.02,85.37 105.46,84.95 C106.89,84.53 108.90,84.64 109.80,84.34 C110.69,84.04 110.83,83.53 110.81,83.15 C110.79,82.77 110.60,82.19 109.69,82.06 C108.78,81.92 106.78,82.04 105.34,82.36 C103.90,82.68 102.50,83.84 101.05,83.96 C99.60,84.09 98.11,83.29 96.64,83.11 C95.18,82.93 93.72,82.88 92.27,82.88 C90.81,82.87 88.61,82.42 87.91,83.09 C87.22,83.77 87.33,86.36 88.09,86.91 Z" fill="#f0f0f0"/>
<path d="M88.15,95.36 C88.93,96.03 91.08,94.96 92.54,94.69 C94.01,94.42 95.45,93.86 96.92,93.75 C98.39,93.63 99.89,93.86 101.37,93.97 C102.86,94.09 104.37,94.59 105.84,94.43 C107.31,94.27 109.26,93.49 110.18,93.01 C111.11,92.52 111.44,91.98 111.41,91.51 C111.38,91.04 110.97,90.23 110.01,90.18 C109.04,90.13 107.11,91.19 105.63,91.23 C104.16,91.26 102.64,90.63 101.14,90.39 C99.65,90.15 98.15,89.79 96.67,89.79 C95.19,89.78 93.74,90.21 92.27,90.35 C90.80,90.50 88.54,89.81 87.85,90.64 C87.16,91.48 87.37,94.68 88.15,95.36 Z" fill="#f0f0f0"/>
<path d="M8.44,54.82 C8.93,54.78 10.39,54.59 11.37,54.53 C12.34,54.47 13.32,54.28 14.29,54.45 C15.26,54.62 16.71,55.36 17.19,55.54" stroke="#767676" stroke-width="0.9" fill="none" stroke-linecap="round"/>
<path d="M9.88,47.05 C10.32,47.14 11.61,47.56 12.50,47.64 C13.40,47.72 14.37,47.33 15.25,47.53 C16.12,47.73 17.33,48.63 17.74,48.85" stroke="#767676" stroke-width="0.9" fill="none" stroke-linecap="round"/>
<path d="M12.29,40.26 C12.71,40.48 13.93,41.29 14.82,41.58 C15.71,41.87 16.69,41.87 17.63,42.01 C18.57,42.16 19.97,42.36 20.44,42.43" stroke="#767676" stroke-width="0.9" fill="none" stroke-linecap="round"/>
<path d="M15.66,34.09 C16.08,34.24 17.37,34.66 18.20,35.00 C19.03,35.34 19.87,35.66 20.65,36.13 C21.42,36.59 22.47,37.52 22.83,37.80" stroke="#767676" stroke-width="0.9" fill="none" stroke-linecap="round"/>
<path d="M20.05,27.80 C20.49,28.07 21.79,28.90 22.68,29.43 C23.56,29.96 24.51,30.40 25.35,30.99 C26.20,31.57 27.35,32.63 27.75,32.95" stroke="#767676" stroke-width="0.9" fill="none" stroke-linecap="round"/>
<path d="M25.09,22.46 C25.53,22.76 26.96,23.50 27.71,24.22 C28.46,24.94 28.82,26.09 29.59,26.78 C30.36,27.47 31.89,28.10 32.35,28.37" stroke="#767676" stroke-width="0.9" fill="none" stroke-linecap="round"/>
<path d="M31.28,17.81 C31.53,18.22 32.18,19.51 32.77,20.25 C33.35,21.00 34.14,21.57 34.79,22.27 C35.43,22.96 36.34,24.05 36.65,24.40" stroke="#767676" stroke-width="0.9" fill="none" stroke-linecap="round"/>
<path d="M36.84,14.45 C37.02,14.84 37.45,16.08 37.90,16.80 C38.35,17.52 39.09,18.07 39.56,18.78 C40.04,19.48 40.56,20.66 40.76,21.04" stroke="#767676" stroke-width="0.9" fill="none" stroke-linecap="round"/>
<path d="M42.93,11.66 C43.15,12.01 43.94,12.98 44.24,13.72 C44.55,14.46 44.48,15.36 44.77,16.11 C45.06,16.86 45.78,17.86 45.98,18.21" stroke="#767676" stroke-width="0.9" fill="none" stroke-linecap="round"/>
<path d="M48.99,9.51 C49.05,9.95 49.05,11.31 49.34,12.13 C49.63,12.95 50.36,13.65 50.75,14.45 C51.13,15.25 51.51,16.50 51.66,16.91" stroke="#767676" stroke-width="0.9" fill="none" stroke-linecap="round"/>
<path d="M54.97,8.40 C55.08,8.97 55.50,10.65 55.62,11.80 C55.73,12.94 55.49,14.14 55.69,15.28 C55.89,16.41 56.64,18.04 56.83,18.60" stroke="#767676" stroke-width="0.9" fill="none" stroke-linecap="round"/>
<path d="M61.27,7.99 C61.22,8.40 60.99,9.63 61.00,10.45 C61.02,11.26 61.30,12.08 61.35,12.89 C61.39,13.71 61.30,14.94 61.29,15.34" stroke="#767676" stroke-width="0.9" fill="none" stroke-linecap="round"/>
<path d="M68.45,8.34 C68.36,8.76 68.00,10.02 67.88,10.88 C67.76,11.74 67.86,12.63 67.72,13.48 C67.58,14.34 67.17,15.60 67.06,16.02" stroke="#767676" stroke-width="0.9" fill="none" stroke-linecap="round"/>
<path d="M75.22,9.51 C75.14,10.08 75.15,11.85 74.76,12.93 C74.37,14.00 73.26,14.87 72.90,15.95 C72.53,17.03 72.61,18.82 72.55,19.40" stroke="#767676" stroke-width="0.9" fill="none" stroke-linecap="round"/>
<path d="M81.87,11.49 C81.67,11.96 81.07,13.38 80.69,14.33 C80.30,15.28 80.05,16.30 79.57,17.20 C79.08,18.11 78.06,19.34 77.76,19.76" stroke="#767676" stroke-width="0.9" fill="none" stroke-linecap="round"/>
<path d="M88.07,14.39 C87.81,14.94 87.16,16.66 86.53,17.69 C85.90,18.71 85.06,19.60 84.31,20.56 C83.56,21.51 82.42,22.93 82.05,23.40" stroke="#767676" stroke-width="0.9" fill="none" stroke-linecap="round"/>
<path d="M92.90,17.21 C92.48,17.59 91.07,18.60 90.38,19.47 C89.69,20.35 89.30,21.46 88.75,22.44 C88.19,23.43 87.34,24.88 87.06,25.37" stroke="#767676" stroke-width="0.9" fill="none" stroke-linecap="round"/>
<path d="M99.66,21.72 C99.17,22.06 97.57,22.94 96.69,23.73 C95.81,24.52 95.20,25.61 94.39,26.48 C93.58,27.34 92.24,28.51 91.81,28.92" stroke="#767676" stroke-width="0.9" fill="none" stroke-linecap="round"/>
<path d="M105.77,27.20 C105.36,27.41 104.02,27.88 103.29,28.43 C102.55,28.98 102.06,29.89 101.36,30.50 C100.66,31.11 99.49,31.82 99.11,32.08" stroke="#767676" stroke-width="0.9" fill="none" stroke-linecap="round"/>
<path d="M109.92,32.63 C109.41,32.96 107.99,34.16 106.87,34.63 C105.76,35.10 104.38,35.03 103.24,35.45 C102.11,35.87 100.59,36.88 100.06,37.17" stroke="#767676" stroke-width="0.9" fill="none" stroke-linecap="round"/>
<path d="M113.80,39.58 C113.23,39.67 111.46,39.73 110.40,40.15 C109.34,40.58 108.52,41.75 107.45,42.11 C106.37,42.48 104.53,42.31 103.94,42.35" stroke="#767676" stroke-width="0.9" fill="none" stroke-linecap="round"/>
<path d="M116.42,46.68 C116.10,46.81 115.18,47.36 114.52,47.46 C113.86,47.56 113.11,47.14 112.45,47.27 C111.80,47.40 110.90,48.08 110.59,48.24" stroke="#767676" stroke-width="0.9" fill="none" stroke-linecap="round"/>
<path d="M117.79,53.37 C117.25,53.30 115.64,52.94 114.57,52.97 C113.51,52.99 112.46,53.38 111.40,53.52 C110.35,53.66 108.75,53.74 108.22,53.79" stroke="#767676" stroke-width="0.9" fill="none" stroke-linecap="round"/>
<path d="M18.62,65.00 C18.03,64.95 16.26,64.60 15.08,64.68 C13.90,64.76 12.72,65.39 11.54,65.48 C10.36,65.57 8.59,65.28 8.00,65.24" stroke="#767676" stroke-width="0.9" fill="none" stroke-linecap="round"/>
<path d="M21.66,73.00 C20.90,73.06 18.63,73.32 17.11,73.37 C15.59,73.42 14.07,73.41 12.55,73.29 C11.04,73.17 8.76,72.76 8.00,72.65" stroke="#767676" stroke-width="0.9" fill="none" stroke-linecap="round"/>
<path d="M16.01,81.00 C15.56,80.99 14.23,81.05 13.34,80.96 C12.45,80.86 11.56,80.35 10.67,80.40 C9.78,80.46 8.44,81.12 8.00,81.27" stroke="#767676" stroke-width="0.9" fill="none" stroke-linecap="round"/>
<path d="M17.90,89.00 C17.35,88.93 15.70,88.54 14.60,88.59 C13.50,88.64 12.40,89.25 11.30,89.31 C10.20,89.37 8.55,89.03 8.00,88.97" stroke="#767676" stroke-width="0.9" fill="none" stroke-linecap="round"/>
<path d="M104.72,65.00 C105.34,64.91 107.23,64.45 108.48,64.44 C109.73,64.42 110.99,64.77 112.24,64.89 C113.49,65.02 115.37,65.13 116.00,65.18" stroke="#767676" stroke-width="0.9" fill="none" stroke-linecap="round"/>
<path d="M107.67,73.00 C108.13,72.94 109.52,72.56 110.45,72.63 C111.37,72.71 112.30,73.37 113.22,73.46 C114.15,73.55 115.54,73.22 116.00,73.18" stroke="#767676" stroke-width="0.9" fill="none" stroke-linecap="round"/>
<path d="M107.51,81.00 C107.98,80.95 109.40,80.69 110.34,80.67 C111.29,80.66 112.23,80.88 113.17,80.91 C114.11,80.94 115.53,80.86 116.00,80.84" stroke="#767676" stroke-width="0.9" fill="none" stroke-linecap="round"/>
<path d="M105.04,89.00 C105.65,89.04 107.48,89.19 108.69,89.23 C109.91,89.28 111.13,89.33 112.35,89.26 C113.56,89.20 115.39,88.91 116.00,88.83" stroke="#767676" stroke-width="0.9" fill="none" stroke-linecap="round"/>
</g>
<rect x="-5" y="-5" width="140" height="112" fill="#000" filter="url(#cAt)"/>
<ellipse cx="62" cy="56" rx="24" ry="12" fill="#f6f6f6" opacity="0.8"/>
<path d="M62,8 L62,38" stroke="#999" stroke-width="2.2"/>
<path d="M62,8 L62,36" stroke="#707070" stroke-width="0.8"/>
<path d="M50,44 Q53,33 62,37 Q71,33 74,44" stroke="#9c9c9c" stroke-width="4" fill="none"/>
<path d="M50,48.5 Q62,41 74,48.5" stroke="#f4f4f4" stroke-width="2.6" fill="none"/>
<path d="M55,51 Q62,48 69,51" stroke="#9a9a9a" stroke-width="1.3" fill="none"/>
<path d="M47.3,54.3 L56.2,55.6 L55.6,62.8 Q51,58 47.3,54.3 Z" fill="#4e4e4e"/>
<path d="M77.5,54.3 L67.7,56.5 L70.9,62.8 Q74,58 77.5,54.3 Z" fill="#4e4e4e"/>
<path d="M53,70 Q62,64 71,70 L69,75 Q62,71 55,75 Z" fill="#7a7a7a"/>
<path d="M56,77 Q62,74 68,77 L69,101 L55,101 Z" fill="#8a8a8a"/>
<path d="M62,87 L56,101 L68,101 Z" fill="#3c3c3c"/>
<linearGradient id="cAbg" x1="0" y1="0" x2="0" y2="1"><stop offset="0" stop-color="#202020" stop-opacity="0"/><stop offset="1" stop-color="#202020" stop-opacity="0.8"/></linearGradient>
<rect x="0" y="87" width="54" height="14" fill="url(#cAbg)"/>
<rect x="70" y="87" width="57" height="14" fill="url(#cAbg)"/>
</g></g>
<g clip-path="url(#cAc)"><path d="M0.00,101.00 C0.00,97.50 0.00,86.00 0.00,80.00 C0.00,74.00 -0.08,69.32 0.00,65.00 C0.08,60.68 0.03,57.82 0.50,54.10 C0.97,50.38 1.75,46.12 2.80,42.70 C3.85,39.28 5.18,36.63 6.80,33.60 C8.42,30.57 10.23,27.43 12.50,24.50 C14.77,21.57 17.18,18.73 20.40,16.00 C23.62,13.27 28.00,10.27 31.80,8.10 C35.60,5.93 39.80,4.23 43.20,3.00 C46.60,1.77 48.78,1.20 52.20,0.70 C55.62,0.20 59.88,-0.10 63.70,0.00 C67.52,0.10 71.32,0.52 75.10,1.30 C78.88,2.08 82.62,3.10 86.40,4.70 C90.18,6.30 94.00,8.45 97.80,10.90 C101.60,13.35 105.98,16.37 109.20,19.40 C112.42,22.43 114.83,25.58 117.10,29.10 C119.37,32.62 121.38,36.72 122.80,40.50 C124.22,44.28 124.93,47.72 125.60,51.80 C126.27,55.88 126.52,60.30 126.80,65.00 C127.08,69.70 127.18,74.00 127.30,80.00 C127.42,86.00 127.47,97.50 127.50,101.00" fill="none" stroke="#1e1e1e" stroke-width="15.6"/>
<path d="M0.00,101.00 C0.00,97.50 0.00,86.00 0.00,80.00 C0.00,74.00 -0.08,69.32 0.00,65.00 C0.08,60.68 0.03,57.82 0.50,54.10 C0.97,50.38 1.75,46.12 2.80,42.70 C3.85,39.28 5.18,36.63 6.80,33.60 C8.42,30.57 10.23,27.43 12.50,24.50 C14.77,21.57 17.18,18.73 20.40,16.00 C23.62,13.27 28.00,10.27 31.80,8.10 C35.60,5.93 39.80,4.23 43.20,3.00 C46.60,1.77 48.78,1.20 52.20,0.70 C55.62,0.20 59.88,-0.10 63.70,0.00 C67.52,0.10 71.32,0.52 75.10,1.30 C78.88,2.08 82.62,3.10 86.40,4.70 C90.18,6.30 94.00,8.45 97.80,10.90 C101.60,13.35 105.98,16.37 109.20,19.40 C112.42,22.43 114.83,25.58 117.10,29.10 C119.37,32.62 121.38,36.72 122.80,40.50 C124.22,44.28 124.93,47.72 125.60,51.80 C126.27,55.88 126.52,60.30 126.80,65.00 C127.08,69.70 127.18,74.00 127.30,80.00 C127.42,86.00 127.47,97.50 127.50,101.00" fill="none" stroke="#959595" stroke-width="11.2"/>
<path d="M0.00,101.00 C0.00,97.50 0.00,86.00 0.00,80.00 C0.00,74.00 -0.08,69.32 0.00,65.00 C0.08,60.68 0.03,57.82 0.50,54.10 C0.97,50.38 1.75,46.12 2.80,42.70 C3.85,39.28 5.18,36.63 6.80,33.60 C8.42,30.57 10.23,27.43 12.50,24.50 C14.77,21.57 17.18,18.73 20.40,16.00 C23.62,13.27 28.00,10.27 31.80,8.10 C35.60,5.93 39.80,4.23 43.20,3.00 C46.60,1.77 48.78,1.20 52.20,0.70 C55.62,0.20 59.88,-0.10 63.70,0.00 C67.52,0.10 71.32,0.52 75.10,1.30 C78.88,2.08 82.62,3.10 86.40,4.70 C90.18,6.30 94.00,8.45 97.80,10.90 C101.60,13.35 105.98,16.37 109.20,19.40 C112.42,22.43 114.83,25.58 117.10,29.10 C119.37,32.62 121.38,36.72 122.80,40.50 C124.22,44.28 124.93,47.72 125.60,51.80 C126.27,55.88 126.52,60.30 126.80,65.00 C127.08,69.70 127.18,74.00 127.30,80.00 C127.42,86.00 127.47,97.50 127.50,101.00" fill="none" stroke="#505050" stroke-width="6.4"/>
<path d="M0.00,101.00 C0.00,97.50 0.00,86.00 0.00,80.00 C0.00,74.00 -0.08,69.32 0.00,65.00 C0.08,60.68 0.03,57.82 0.50,54.10 C0.97,50.38 1.75,46.12 2.80,42.70 C3.85,39.28 5.18,36.63 6.80,33.60 C8.42,30.57 10.23,27.43 12.50,24.50 C14.77,21.57 17.18,18.73 20.40,16.00 C23.62,13.27 28.00,10.27 31.80,8.10 C35.60,5.93 39.80,4.23 43.20,3.00 C46.60,1.77 48.78,1.20 52.20,0.70 C55.62,0.20 59.88,-0.10 63.70,0.00 C67.52,0.10 71.32,0.52 75.10,1.30 C78.88,2.08 82.62,3.10 86.40,4.70 C90.18,6.30 94.00,8.45 97.80,10.90 C101.60,13.35 105.98,16.37 109.20,19.40 C112.42,22.43 114.83,25.58 117.10,29.10 C119.37,32.62 121.38,36.72 122.80,40.50 C124.22,44.28 124.93,47.72 125.60,51.80 C126.27,55.88 126.52,60.30 126.80,65.00 C127.08,69.70 127.18,74.00 127.30,80.00 C127.42,86.00 127.47,97.50 127.50,101.00" fill="none" stroke="#acacac" stroke-width="4.4"/>
<path d="M0.00,101.00 C0.00,97.50 0.00,86.00 0.00,80.00 C0.00,74.00 -0.08,69.32 0.00,65.00 C0.08,60.68 0.03,57.82 0.50,54.10 C0.97,50.38 1.75,46.12 2.80,42.70 C3.85,39.28 5.18,36.63 6.80,33.60 C8.42,30.57 10.23,27.43 12.50,24.50 C14.77,21.57 17.18,18.73 20.40,16.00 C23.62,13.27 28.00,10.27 31.80,8.10 C35.60,5.93 39.80,4.23 43.20,3.00 C46.60,1.77 48.78,1.20 52.20,0.70 C55.62,0.20 59.88,-0.10 63.70,0.00 C67.52,0.10 71.32,0.52 75.10,1.30 C78.88,2.08 82.62,3.10 86.40,4.70 C90.18,6.30 94.00,8.45 97.80,10.90 C101.60,13.35 105.98,16.37 109.20,19.40 C112.42,22.43 114.83,25.58 117.10,29.10 C119.37,32.62 121.38,36.72 122.80,40.50 C124.22,44.28 124.93,47.72 125.60,51.80 C126.27,55.88 126.52,60.30 126.80,65.00 C127.08,69.70 127.18,74.00 127.30,80.00 C127.42,86.00 127.47,97.50 127.50,101.00" fill="none" stroke="#4a4a4a" stroke-width="1.5"/></g>
<path d="M126.5,85 C129.5,85 130.5,88 130,91 C129.6,94 128.5,97 126.8,98 Z" fill="#8a8a8a" stroke="#333" stroke-width="0.8"/></g>
<g clip-path="url(#cAclip)"><g filter="url(#soft)">
<path d="M38.40,119.30 C38.23,117.93 38.38,114.67 39.40,112.10 C40.42,109.53 42.28,106.45 44.50,103.90 C46.72,101.35 49.97,98.83 52.70,96.80 C55.43,94.77 58.18,93.40 60.90,91.70 C63.62,90.00 66.28,88.13 69.00,86.60 C71.72,85.07 75.32,83.02 77.20,82.50 C79.08,81.98 80.13,82.65 80.30,83.50 C80.47,84.35 79.40,86.40 78.20,87.60 C77.00,88.80 74.63,89.68 73.10,90.70 C71.57,91.72 69.33,92.35 69.00,93.70 C68.67,95.05 70.75,97.10 71.10,98.80 C71.45,100.50 71.62,102.37 71.10,103.90 C70.58,105.43 69.70,106.97 68.00,108.00 C66.30,109.03 63.28,109.58 60.90,110.10 C58.52,110.62 55.75,110.60 53.70,111.10 C51.65,111.60 50.13,112.08 48.60,113.10 C47.07,114.12 45.87,116.00 44.50,117.20 C43.13,118.40 41.42,119.95 40.40,120.30 C39.38,120.65 38.57,120.67 38.40,119.30 Z" fill="#e4203a" stroke="#e4203a" stroke-width="2.0" stroke-linejoin="round"/><path d="M38.40,119.30 C38.23,117.93 38.38,114.67 39.40,112.10 C40.42,109.53 42.28,106.45 44.50,103.90 C46.72,101.35 49.97,98.83 52.70,96.80 C55.43,94.77 58.18,93.40 60.90,91.70 C63.62,90.00 66.28,88.13 69.00,86.60 C71.72,85.07 75.32,83.02 77.20,82.50 C79.08,81.98 80.13,82.65 80.30,83.50 C80.47,84.35 79.40,86.40 78.20,87.60 C77.00,88.80 74.63,89.68 73.10,90.70 C71.57,91.72 69.33,92.35 69.00,93.70 C68.67,95.05 70.75,97.10 71.10,98.80 C71.45,100.50 71.62,102.37 71.10,103.90 C70.58,105.43 69.70,106.97 68.00,108.00 C66.30,109.03 63.28,109.58 60.90,110.10 C58.52,110.62 55.75,110.60 53.70,111.10 C51.65,111.60 50.13,112.08 48.60,113.10 C47.07,114.12 45.87,116.00 44.50,117.20 C43.13,118.40 41.42,119.95 40.40,120.30 C39.38,120.65 38.57,120.67 38.40,119.30 Z" fill="#d6dc3a" stroke="#f2902c" stroke-width="1.0" stroke-linejoin="round"/>
<path d="M98.70,82.50 C100.30,82.17 104.67,81.82 107.90,82.50 C111.13,83.18 115.03,85.07 118.10,86.60 C121.17,88.13 123.92,90.00 126.30,91.70 C128.68,93.40 131.12,95.10 132.40,96.80 C133.68,98.50 134.17,100.37 134.00,101.90 C133.83,103.43 133.37,104.82 131.40,106.00 C129.43,107.18 125.10,108.50 122.20,109.00 C119.30,109.50 116.22,109.50 114.00,109.00 C111.78,108.50 109.92,107.52 108.90,106.00 C107.88,104.48 108.42,101.95 107.90,99.90 C107.38,97.85 107.00,95.58 105.80,93.70 C104.60,91.82 101.95,90.13 100.70,88.60 C99.45,87.07 98.63,85.52 98.30,84.50 C97.97,83.48 97.10,82.83 98.70,82.50 Z" fill="#e4203a" stroke="#e4203a" stroke-width="2.0" stroke-linejoin="round"/><path d="M98.70,82.50 C100.30,82.17 104.67,81.82 107.90,82.50 C111.13,83.18 115.03,85.07 118.10,86.60 C121.17,88.13 123.92,90.00 126.30,91.70 C128.68,93.40 131.12,95.10 132.40,96.80 C133.68,98.50 134.17,100.37 134.00,101.90 C133.83,103.43 133.37,104.82 131.40,106.00 C129.43,107.18 125.10,108.50 122.20,109.00 C119.30,109.50 116.22,109.50 114.00,109.00 C111.78,108.50 109.92,107.52 108.90,106.00 C107.88,104.48 108.42,101.95 107.90,99.90 C107.38,97.85 107.00,95.58 105.80,93.70 C104.60,91.82 101.95,90.13 100.70,88.60 C99.45,87.07 98.63,85.52 98.30,84.50 C97.97,83.48 97.10,82.83 98.70,82.50 Z" fill="#d6dc3a" stroke="#f2902c" stroke-width="1.0" stroke-linejoin="round"/>
<g transform="rotate(0 92.7 104.3)"><ellipse cx="92.7" cy="104.3" rx="3.0" ry="2.4" fill="#e8263a"/><ellipse cx="92.7" cy="104.3" rx="2.0" ry="1.4" fill="#f08a2a"/><ellipse cx="92.7" cy="104.3" rx="1.0" ry="0.3999999999999999" fill="#d6dc3a"/></g>
<ellipse cx="83.6" cy="105.9" rx="1.3" ry="1.2" fill="#e8263a"/>
<ellipse cx="128.4" cy="127.5" rx="1.6" ry="1.8" fill="#e8263a"/>
<ellipse cx="58.6" cy="130.9" rx="0.9" ry="0.9" fill="#e8263a"/>
<ellipse cx="45" cy="148.6" rx="2.4" ry="1.5" fill="#e8263a"/>
<g transform="rotate(55 82.5 148)"><ellipse cx="82.5" cy="148" rx="4.0" ry="7.0" fill="#e8263a"/><ellipse cx="82.5" cy="148" rx="3.0" ry="6.0" fill="#f08a2a"/><ellipse cx="82.5" cy="148" rx="2.0" ry="5.0" fill="#d6dc3a"/></g>
<g transform="rotate(0 97.3 149)"><ellipse cx="97.3" cy="149" rx="3.6" ry="3.8" fill="#e8263a"/><ellipse cx="97.3" cy="149" rx="2.6" ry="2.8" fill="#f08a2a"/><ellipse cx="97.3" cy="149" rx="1.6" ry="1.7999999999999998" fill="#d6dc3a"/></g>
<g transform="rotate(0 71.1 164)"><ellipse cx="71.1" cy="164" rx="5.8" ry="5.2" fill="#e8263a"/><ellipse cx="71.1" cy="164" rx="4.8" ry="4.2" fill="#f08a2a"/><ellipse cx="71.1" cy="164" rx="3.8" ry="3.2" fill="#d6dc3a"/></g>
<g transform="rotate(10 88.2 165)"><ellipse cx="88.2" cy="165" rx="4.0" ry="7.0" fill="#e8263a"/><ellipse cx="88.2" cy="165" rx="3.0" ry="6.0" fill="#f08a2a"/><ellipse cx="88.2" cy="165" rx="2.0" ry="5.0" fill="#d6dc3a"/></g>
<ellipse cx="90" cy="154.5" rx="1.0" ry="1.0" fill="#e8263a"/>
</g></g>
<g transform="translate(159.7,70.6) scale(1.0,1.0)"><clipPath id="aAc"><path d="M46.00,0.00 C52.77,0.00 60.88,2.48 66.30,5.60 C71.72,8.72 74.95,12.78 78.50,18.70 C82.05,24.62 85.58,33.32 87.60,41.10 C89.62,48.88 90.27,57.97 90.60,65.40 C90.93,72.83 91.28,79.62 89.60,85.70 C87.92,91.78 84.38,97.68 80.50,101.90 C76.62,106.12 72.05,108.90 66.30,111.00 C60.55,113.10 52.77,114.50 46.00,114.50 C39.23,114.50 31.45,113.10 25.70,111.00 C19.95,108.90 15.38,106.12 11.50,101.90 C7.62,97.68 4.25,91.78 2.40,85.70 C0.55,79.62 0.07,72.83 0.40,65.40 C0.73,57.97 2.20,48.88 4.40,41.10 C6.60,33.32 10.05,24.62 13.60,18.70 C17.15,12.78 20.30,8.72 25.70,5.60 C31.10,2.48 39.23,0.00 46.00,0.00 Z"/></clipPath>
<g clip-path="url(#aAc)"><g filter="url(#soft)">
<rect x="-3" y="-3" width="98" height="122" fill="#c6c6c6"/>
<ellipse cx="28" cy="62" rx="12" ry="36" fill="#dcdcdc"/>
<ellipse cx="64" cy="62" rx="12" ry="36" fill="#dcdcdc"/>
<rect x="-5" y="-5" width="102" height="126" fill="#000" filter="url(#aAt)"/>
<rect x="40" y="6" width="12" height="104" fill="#9a9a9a" opacity="0.45"/>
<path d="M46.00,0.00 C52.77,0.00 60.88,2.48 66.30,5.60 C71.72,8.72 74.95,12.78 78.50,18.70 C82.05,24.62 85.58,33.32 87.60,41.10 C89.62,48.88 90.27,57.97 90.60,65.40 C90.93,72.83 91.28,79.62 89.60,85.70 C87.92,91.78 84.38,97.68 80.50,101.90 C76.62,106.12 72.05,108.90 66.30,111.00 C60.55,113.10 52.77,114.50 46.00,114.50 C39.23,114.50 31.45,113.10 25.70,111.00 C19.95,108.90 15.38,106.12 11.50,101.90 C7.62,97.68 4.25,91.78 2.40,85.70 C0.55,79.62 0.07,72.83 0.40,65.40 C0.73,57.97 2.20,48.88 4.40,41.10 C6.60,33.32 10.05,24.62 13.60,18.70 C17.15,12.78 20.30,8.72 25.70,5.60 C31.10,2.48 39.23,0.00 46.00,0.00 Z" fill="none" stroke="#8e8e8e" stroke-width="19" opacity="0.45"/>
<path d="M46,6 L46,110" stroke="#666" stroke-width="0.9"/>
</g></g>
<g clip-path="url(#aAc)"><path d="M46.00,0.00 C52.77,0.00 60.88,2.48 66.30,5.60 C71.72,8.72 74.95,12.78 78.50,18.70 C82.05,24.62 85.58,33.32 87.60,41.10 C89.62,48.88 90.27,57.97 90.60,65.40 C90.93,72.83 91.28,79.62 89.60,85.70 C87.92,91.78 84.38,97.68 80.50,101.90 C76.62,106.12 72.05,108.90 66.30,111.00 C60.55,113.10 52.77,114.50 46.00,114.50 C39.23,114.50 31.45,113.10 25.70,111.00 C19.95,108.90 15.38,106.12 11.50,101.90 C7.62,97.68 4.25,91.78 2.40,85.70 C0.55,79.62 0.07,72.83 0.40,65.40 C0.73,57.97 2.20,48.88 4.40,41.10 C6.60,33.32 10.05,24.62 13.60,18.70 C17.15,12.78 20.30,8.72 25.70,5.60 C31.10,2.48 39.23,0.00 46.00,0.00 Z" fill="none" stroke="#1e1e1e" stroke-width="15.6"/>
<path d="M46.00,0.00 C52.77,0.00 60.88,2.48 66.30,5.60 C71.72,8.72 74.95,12.78 78.50,18.70 C82.05,24.62 85.58,33.32 87.60,41.10 C89.62,48.88 90.27,57.97 90.60,65.40 C90.93,72.83 91.28,79.62 89.60,85.70 C87.92,91.78 84.38,97.68 80.50,101.90 C76.62,106.12 72.05,108.90 66.30,111.00 C60.55,113.10 52.77,114.50 46.00,114.50 C39.23,114.50 31.45,113.10 25.70,111.00 C19.95,108.90 15.38,106.12 11.50,101.90 C7.62,97.68 4.25,91.78 2.40,85.70 C0.55,79.62 0.07,72.83 0.40,65.40 C0.73,57.97 2.20,48.88 4.40,41.10 C6.60,33.32 10.05,24.62 13.60,18.70 C17.15,12.78 20.30,8.72 25.70,5.60 C31.10,2.48 39.23,0.00 46.00,0.00 Z" fill="none" stroke="#959595" stroke-width="11.2"/>
<path d="M46.00,0.00 C52.77,0.00 60.88,2.48 66.30,5.60 C71.72,8.72 74.95,12.78 78.50,18.70 C82.05,24.62 85.58,33.32 87.60,41.10 C89.62,48.88 90.27,57.97 90.60,65.40 C90.93,72.83 91.28,79.62 89.60,85.70 C87.92,91.78 84.38,97.68 80.50,101.90 C76.62,106.12 72.05,108.90 66.30,111.00 C60.55,113.10 52.77,114.50 46.00,114.50 C39.23,114.50 31.45,113.10 25.70,111.00 C19.95,108.90 15.38,106.12 11.50,101.90 C7.62,97.68 4.25,91.78 2.40,85.70 C0.55,79.62 0.07,72.83 0.40,65.40 C0.73,57.97 2.20,48.88 4.40,41.10 C6.60,33.32 10.05,24.62 13.60,18.70 C17.15,12.78 20.30,8.72 25.70,5.60 C31.10,2.48 39.23,0.00 46.00,0.00 Z" fill="none" stroke="#505050" stroke-width="6.4"/>
<path d="M46.00,0.00 C52.77,0.00 60.88,2.48 66.30,5.60 C71.72,8.72 74.95,12.78 78.50,18.70 C82.05,24.62 85.58,33.32 87.60,41.10 C89.62,48.88 90.27,57.97 90.60,65.40 C90.93,72.83 91.28,79.62 89.60,85.70 C87.92,91.78 84.38,97.68 80.50,101.90 C76.62,106.12 72.05,108.90 66.30,111.00 C60.55,113.10 52.77,114.50 46.00,114.50 C39.23,114.50 31.45,113.10 25.70,111.00 C19.95,108.90 15.38,106.12 11.50,101.90 C7.62,97.68 4.25,91.78 2.40,85.70 C0.55,79.62 0.07,72.83 0.40,65.40 C0.73,57.97 2.20,48.88 4.40,41.10 C6.60,33.32 10.05,24.62 13.60,18.70 C17.15,12.78 20.30,8.72 25.70,5.60 C31.10,2.48 39.23,0.00 46.00,0.00 Z" fill="none" stroke="#acacac" stroke-width="4.4"/>
<path d="M46.00,0.00 C52.77,0.00 60.88,2.48 66.30,5.60 C71.72,8.72 74.95,12.78 78.50,18.70 C82.05,24.62 85.58,33.32 87.60,41.10 C89.62,48.88 90.27,57.97 90.60,65.40 C90.93,72.83 91.28,79.62 89.60,85.70 C87.92,91.78 84.38,97.68 80.50,101.90 C76.62,106.12 72.05,108.90 66.30,111.00 C60.55,113.10 52.77,114.50 46.00,114.50 C39.23,114.50 31.45,113.10 25.70,111.00 C19.95,108.90 15.38,106.12 11.50,101.90 C7.62,97.68 4.25,91.78 2.40,85.70 C0.55,79.62 0.07,72.83 0.40,65.40 C0.73,57.97 2.20,48.88 4.40,41.10 C6.60,33.32 10.05,24.62 13.60,18.70 C17.15,12.78 20.30,8.72 25.70,5.60 C31.10,2.48 39.23,0.00 46.00,0.00 Z" fill="none" stroke="#4a4a4a" stroke-width="1.5"/></g></g>
<g filter="url(#soft)">
<path d="M192.50,93.40 C191.12,94.25 189.17,97.97 188.30,100.50 C187.43,103.03 186.97,106.88 187.30,108.60 C187.63,110.32 189.30,111.82 190.30,110.80 C191.30,109.78 192.25,105.07 193.30,102.50 C194.35,99.93 196.73,96.92 196.60,95.40 C196.47,93.88 193.88,92.55 192.50,93.40 Z" fill="#e4203a" stroke="#e4203a" stroke-width="1.2" stroke-linejoin="round"/>
<g transform="rotate(15 190.4 103.5)"><ellipse cx="190.4" cy="103.5" rx="2.0" ry="4.5" fill="#e8263a"/><ellipse cx="190.4" cy="103.5" rx="1.0" ry="3.5" fill="#f08a2a"/><ellipse cx="190.4" cy="103.5" rx="0.3" ry="2.5" fill="#d6dc3a"/></g>
<path d="M192.50,84.30 C193.62,83.72 196.40,82.97 198.60,82.80 C200.80,82.63 204.12,82.72 205.70,83.30 C207.28,83.88 207.93,85.12 208.10,86.30 C208.27,87.48 207.60,89.22 206.70,90.40 C205.80,91.58 204.22,92.57 202.70,93.40 C201.18,94.23 199.13,95.23 197.60,95.40 C196.07,95.57 194.52,95.23 193.50,94.40 C192.48,93.57 191.77,91.75 191.50,90.40 C191.23,89.05 191.73,87.32 191.90,86.30 C192.07,85.28 191.38,84.88 192.50,84.30 Z" fill="#e4203a" stroke="#e4203a" stroke-width="2.0" stroke-linejoin="round"/><path d="M192.50,84.30 C193.62,83.72 196.40,82.97 198.60,82.80 C200.80,82.63 204.12,82.72 205.70,83.30 C207.28,83.88 207.93,85.12 208.10,86.30 C208.27,87.48 207.60,89.22 206.70,90.40 C205.80,91.58 204.22,92.57 202.70,93.40 C201.18,94.23 199.13,95.23 197.60,95.40 C196.07,95.57 194.52,95.23 193.50,94.40 C192.48,93.57 191.77,91.75 191.50,90.40 C191.23,89.05 191.73,87.32 191.90,86.30 C192.07,85.28 191.38,84.88 192.50,84.30 Z" fill="#d6dc3a" stroke="#f2902c" stroke-width="1.0" stroke-linejoin="round"/>
<g transform="rotate(0 213.8 93.4)"><ellipse cx="213.8" cy="93.4" rx="2.6" ry="4.4" fill="#e8263a"/><ellipse cx="213.8" cy="93.4" rx="1.6" ry="3.4" fill="#f08a2a"/><ellipse cx="213.8" cy="93.4" rx="0.6000000000000001" ry="2.4" fill="#d6dc3a"/></g>
<g transform="rotate(-8 176.3 119.3)"><ellipse cx="176.3" cy="119.3" rx="3.8" ry="6.6" fill="#e8263a"/><ellipse cx="176.3" cy="119.3" rx="2.8" ry="5.6" fill="#f08a2a"/><ellipse cx="176.3" cy="119.3" rx="1.7999999999999998" ry="4.6" fill="#d6dc3a"/></g>
<g transform="rotate(3 207.2 130)"><ellipse cx="207.2" cy="130" rx="3.2" ry="8.0" fill="#e8263a"/><ellipse cx="207.2" cy="130" rx="2.2" ry="7.0" fill="#f08a2a"/><ellipse cx="207.2" cy="130" rx="1.2000000000000002" ry="6.0" fill="#d6dc3a"/></g>
<path d="M168.20,138.00 C169.38,136.15 172.77,135.17 175.30,135.00 C177.83,134.83 181.20,135.98 183.40,137.00 C185.60,138.02 187.32,139.75 188.50,141.10 C189.68,142.45 190.67,143.75 190.50,145.10 C190.33,146.45 188.68,148.18 187.50,149.20 C186.32,150.22 184.58,150.35 183.40,151.20 C182.22,152.05 181.58,153.97 180.40,154.30 C179.22,154.63 177.67,154.05 176.30,153.20 C174.93,152.35 173.55,150.38 172.20,149.20 C170.85,148.02 168.87,147.97 168.20,146.10 C167.53,144.23 167.02,139.85 168.20,138.00 Z" fill="#e4203a" stroke="#e4203a" stroke-width="2.0" stroke-linejoin="round"/><path d="M168.20,138.00 C169.38,136.15 172.77,135.17 175.30,135.00 C177.83,134.83 181.20,135.98 183.40,137.00 C185.60,138.02 187.32,139.75 188.50,141.10 C189.68,142.45 190.67,143.75 190.50,145.10 C190.33,146.45 188.68,148.18 187.50,149.20 C186.32,150.22 184.58,150.35 183.40,151.20 C182.22,152.05 181.58,153.97 180.40,154.30 C179.22,154.63 177.67,154.05 176.30,153.20 C174.93,152.35 173.55,150.38 172.20,149.20 C170.85,148.02 168.87,147.97 168.20,146.10 C167.53,144.23 167.02,139.85 168.20,138.00 Z" fill="#d6dc3a" stroke="#f2902c" stroke-width="1.0" stroke-linejoin="round"/>
<g transform="rotate(-30 177.5 157.5)"><ellipse cx="177.5" cy="157.5" rx="3.2" ry="4.2" fill="#e8263a"/><ellipse cx="177.5" cy="157.5" rx="2.2" ry="3.2" fill="#f08a2a"/><ellipse cx="177.5" cy="157.5" rx="1.2000000000000002" ry="2.2" fill="#d6dc3a"/></g>
<path d="M220.90,142.10 C221.75,140.92 223.30,139.18 225.00,138.00 C226.70,136.82 229.08,135.83 231.10,135.00 C233.12,134.17 235.32,133.00 237.10,133.00 C238.88,133.00 240.88,133.82 241.80,135.00 C242.72,136.18 242.87,138.25 242.60,140.10 C242.33,141.95 241.45,144.75 240.20,146.10 C238.95,147.45 236.62,147.52 235.10,148.20 C233.58,148.88 232.28,149.18 231.10,150.20 C229.92,151.22 229.18,153.62 228.00,154.30 C226.82,154.98 225.18,155.15 224.00,154.30 C222.82,153.45 221.58,150.73 220.90,149.20 C220.22,147.67 219.90,146.28 219.90,145.10 C219.90,143.92 220.05,143.28 220.90,142.10 Z" fill="#e4203a" stroke="#e4203a" stroke-width="2.0" stroke-linejoin="round"/><path d="M220.90,142.10 C221.75,140.92 223.30,139.18 225.00,138.00 C226.70,136.82 229.08,135.83 231.10,135.00 C233.12,134.17 235.32,133.00 237.10,133.00 C238.88,133.00 240.88,133.82 241.80,135.00 C242.72,136.18 242.87,138.25 242.60,140.10 C242.33,141.95 241.45,144.75 240.20,146.10 C238.95,147.45 236.62,147.52 235.10,148.20 C233.58,148.88 232.28,149.18 231.10,150.20 C229.92,151.22 229.18,153.62 228.00,154.30 C226.82,154.98 225.18,155.15 224.00,154.30 C222.82,153.45 221.58,150.73 220.90,149.20 C220.22,147.67 219.90,146.28 219.90,145.10 C219.90,143.92 220.05,143.28 220.90,142.10 Z" fill="#d6dc3a" stroke="#f2902c" stroke-width="1.0" stroke-linejoin="round"/>
<ellipse cx="235.1" cy="119.8" rx="2.2" ry="1.6" fill="#ee5a30"/>
<ellipse cx="197.6" cy="168.4" rx="2.2" ry="1.6" fill="#e8263a"/>
<ellipse cx="199.6" cy="125.9" rx="1.2" ry="1.2" fill="#e8263a"/>
<ellipse cx="185.4" cy="97.5" rx="0.9" ry="0.9" fill="#e8263a"/>
<ellipse cx="217.9" cy="113.7" rx="0.7" ry="0.7" fill="#e8263a"/>
<ellipse cx="238.2" cy="153.2" rx="0.8" ry="0.8" fill="#e8263a"/>
<ellipse cx="204" cy="104" rx="0.7" ry="0.7" fill="#e8263a"/>
</g>
<g><path d="M28.5,55.4 L31.8,51.8 L35.8,48.5 L39.7,47.2 L44.3,46.9 L49.6,48.2 L53.5,50.5 L55.8,53.8 L56.5,58.4 L56.1,63.7 L54.2,67.6 L50.9,70.2 L47.6,70.9 L44.3,69.6 L41.7,66.9 L39.7,63.7 L37.1,61.0 L33.1,60.0 L29.9,59.7 L29.2,58.4 L31.2,57.4 L30.0,56.4 Z" fill="#9a725c"/><path d="M33.5,56.1 L37.7,53.1 L38.1,57.4 Z" fill="#fff"/><path d="M41,55 L44,62 L47,56" stroke="#8a6450" stroke-width="0.6" fill="none"/><path d="M25.1,53 L25.1,61" stroke="#3a3a3a" stroke-width="1.2"/><path d="M22.9,54.6 L25.1,51.8 L27.3,54.6 Z M22.9,59.6 L25.1,62.4 L27.3,59.6 Z" fill="#3a3a3a"/></g>
<g transform="translate(178.45,0) scale(-1,1)"><path d="M28.5,55.4 L31.8,51.8 L35.8,48.5 L39.7,47.2 L44.3,46.9 L49.6,48.2 L53.5,50.5 L55.8,53.8 L56.5,58.4 L56.1,63.7 L54.2,67.6 L50.9,70.2 L47.6,70.9 L44.3,69.6 L41.7,66.9 L39.7,63.7 L37.1,61.0 L33.1,60.0 L29.9,59.7 L29.2,58.4 L31.2,57.4 L30.0,56.4 Z" fill="#9a725c"/><path d="M33.5,56.1 L37.7,53.1 L38.1,57.4 Z" fill="#fff"/><path d="M41,55 L44,62 L47,56" stroke="#8a6450" stroke-width="0.6" fill="none"/><path d="M25.1,53 L25.1,61" stroke="#3a3a3a" stroke-width="1.2"/><path d="M22.9,54.6 L25.1,51.8 L27.3,54.6 Z M22.9,59.6 L25.1,62.4 L27.3,59.6 Z" fill="#3a3a3a"/></g>
<rect x="18.8" y="193.7" width="247" height="10.1" fill="url(#gBold)"/>
<text x="20" y="215.2" font-size="11.6" fill="#666" textLength="23.9" lengthAdjust="spacingAndGlyphs">0.54</text>
<text x="240" y="215.2" font-size="11.6" fill="#666" textLength="23.6" lengthAdjust="spacingAndGlyphs">0.90</text>
<text x="109.3" y="224.3" font-size="13.4" font-weight="bold" fill="#111" stroke="#111" stroke-width="0.3" textLength="72.8" lengthAdjust="spacingAndGlyphs">BOLD (a.u.)</text>
<g transform="translate(326,71.5)"><clipPath id="cB1c"><path d="M0.00,101.00 C0.00,97.50 0.00,86.00 0.00,80.00 C0.00,74.00 -0.08,69.32 0.00,65.00 C0.08,60.68 0.03,57.82 0.50,54.10 C0.97,50.38 1.75,46.12 2.80,42.70 C3.85,39.28 5.18,36.63 6.80,33.60 C8.42,30.57 10.23,27.43 12.50,24.50 C14.77,21.57 17.18,18.73 20.40,16.00 C23.62,13.27 28.00,10.27 31.80,8.10 C35.60,5.93 39.80,4.23 43.20,3.00 C46.60,1.77 48.78,1.20 52.20,0.70 C55.62,0.20 59.88,-0.10 63.70,0.00 C67.52,0.10 71.32,0.52 75.10,1.30 C78.88,2.08 82.62,3.10 86.40,4.70 C90.18,6.30 94.00,8.45 97.80,10.90 C101.60,13.35 105.98,16.37 109.20,19.40 C112.42,22.43 114.83,25.58 117.10,29.10 C119.37,32.62 121.38,36.72 122.80,40.50 C124.22,44.28 124.93,47.72 125.60,51.80 C126.27,55.88 126.52,60.30 126.80,65.00 C127.08,69.70 127.18,74.00 127.30,80.00 C127.42,86.00 127.47,97.50 127.50,101.00 Z"/></clipPath>
<g clip-path="url(#cB1c)"><g filter="url(#soft)">
<rect x="-3" y="-3" width="134" height="108" fill="#a2a2a2"/>
<g>
<ellipse cx="62" cy="55" rx="30" ry="17" fill="#f4f4f4"/>
<ellipse cx="62" cy="74" rx="32" ry="11" fill="#efefef"/>
<path d="M37.14,54.97 C36.18,54.31 33.42,55.31 31.55,55.44 C29.69,55.57 27.83,55.87 25.95,55.72 C24.07,55.57 22.15,54.52 20.28,54.54 C18.41,54.56 16.57,55.28 14.73,55.85 C12.88,56.42 10.33,57.37 9.22,57.95 C8.10,58.54 8.02,58.90 8.04,59.34 C8.06,59.79 8.20,60.69 9.34,60.61 C10.48,60.54 13.02,59.32 14.87,58.87 C16.72,58.42 18.57,57.82 20.44,57.91 C22.32,58.01 24.24,59.18 26.13,59.45 C28.01,59.71 29.88,59.53 31.75,59.52 C33.62,59.51 36.46,60.16 37.35,59.40 C38.25,58.64 38.11,55.63 37.14,54.97 Z" fill="#f4f4f4"/><path d="M22.36,56.56 C22.30,55.81 21.36,55.03 20.55,54.84 C19.74,54.64 18.34,55.58 17.52,55.40 C16.71,55.23 16.17,54.00 15.65,53.80 C15.14,53.60 14.59,53.94 14.45,54.21 C14.30,54.49 14.44,54.91 14.78,55.44 C15.11,55.98 15.70,57.12 16.46,57.42 C17.21,57.71 18.55,56.90 19.29,57.21 C20.03,57.53 20.39,59.41 20.90,59.30 C21.41,59.19 22.42,57.30 22.36,56.56 Z" fill="#f4f4f4"/>
<path d="M37.83,51.55 C36.96,50.94 34.03,52.48 32.20,52.22 C30.37,51.97 28.65,50.58 26.85,50.03 C25.04,49.49 23.24,48.97 21.38,48.96 C19.53,48.96 17.61,49.68 15.73,50.00 C13.84,50.32 11.24,50.55 10.08,50.89 C8.92,51.24 8.79,51.64 8.75,52.08 C8.71,52.51 8.72,53.34 9.84,53.49 C10.95,53.63 13.58,53.14 15.45,52.94 C17.32,52.73 19.23,52.13 21.08,52.25 C22.92,52.37 24.71,53.01 26.51,53.67 C28.30,54.33 30.01,55.83 31.83,56.20 C33.65,56.57 36.42,56.65 37.42,55.88 C38.42,55.10 38.70,52.16 37.83,51.55 Z" fill="#f4f4f4"/>
<path d="M38.99,47.81 C38.38,46.87 35.68,47.84 34.07,47.69 C32.45,47.55 30.81,47.53 29.29,46.94 C27.78,46.35 26.48,44.81 24.98,44.17 C23.48,43.53 21.89,43.25 20.28,43.08 C18.67,42.91 16.47,42.92 15.32,43.15 C14.17,43.37 13.52,43.90 13.39,44.45 C13.26,45.00 13.55,46.06 14.56,46.46 C15.56,46.86 17.84,46.52 19.42,46.84 C21.00,47.16 22.55,47.58 24.02,48.37 C25.48,49.16 26.75,50.85 28.23,51.58 C29.71,52.32 31.32,52.49 32.90,52.78 C34.48,53.07 36.71,54.16 37.72,53.33 C38.74,52.50 39.60,48.75 38.99,47.81 Z" fill="#f4f4f4"/>
<path d="M40.47,45.43 C39.92,44.43 37.17,44.35 35.62,43.54 C34.08,42.73 32.88,41.02 31.20,40.56 C29.52,40.10 27.40,40.78 25.55,40.78 C23.69,40.78 21.65,41.27 20.06,40.56 C18.48,39.84 17.00,37.02 16.06,36.47 C15.12,35.93 14.59,36.86 14.44,37.27 C14.28,37.68 14.36,37.92 15.12,38.94 C15.88,39.95 17.46,42.52 19.00,43.35 C20.54,44.18 22.54,43.79 24.35,43.90 C26.17,44.01 28.24,43.44 29.88,44.01 C31.52,44.58 32.68,46.40 34.18,47.32 C35.69,48.24 37.85,49.85 38.90,49.54 C39.95,49.22 41.02,46.43 40.47,45.43 Z" fill="#f4f4f4"/><path d="M26.60,41.17 C26.00,40.96 24.78,42.48 23.80,42.90 C22.82,43.31 21.80,43.56 20.73,43.65 C19.65,43.74 18.03,43.28 17.38,43.43 C16.72,43.58 16.71,44.25 16.80,44.55 C16.88,44.85 17.12,44.99 17.87,45.21 C18.63,45.42 20.23,45.78 21.33,45.82 C22.44,45.87 23.50,45.75 24.52,45.47 C25.54,45.18 27.09,44.85 27.43,44.13 C27.78,43.41 27.21,41.37 26.60,41.17 Z" fill="#f4f4f4"/>
<path d="M42.67,42.36 C42.42,41.10 40.53,39.34 38.99,38.66 C37.45,37.97 35.20,38.53 33.43,38.25 C31.66,37.97 29.66,38.08 28.35,36.99 C27.05,35.90 26.86,32.86 25.59,31.70 C24.32,30.54 21.85,30.21 20.76,30.02 C19.66,29.83 19.24,30.18 19.02,30.56 C18.80,30.94 18.59,31.70 19.44,32.33 C20.28,32.95 22.89,33.05 24.09,34.31 C25.30,35.58 25.43,38.71 26.68,39.91 C27.93,41.10 29.87,41.09 31.58,41.47 C33.29,41.85 35.48,41.40 36.97,42.19 C38.45,42.98 39.51,46.17 40.46,46.19 C41.41,46.22 42.91,43.61 42.67,42.36 Z" fill="#f4f4f4"/>
<path d="M45.13,39.81 C44.75,38.91 41.42,39.00 40.08,37.93 C38.75,36.87 38.26,34.75 37.14,33.41 C36.02,32.08 34.74,30.95 33.38,29.92 C32.02,28.89 30.58,27.95 28.99,27.22 C27.39,26.49 24.96,25.77 23.80,25.53 C22.63,25.29 22.27,25.45 21.99,25.80 C21.71,26.15 21.29,27.00 22.14,27.63 C22.99,28.26 25.58,28.77 27.10,29.60 C28.63,30.42 29.99,31.45 31.27,32.58 C32.56,33.70 33.77,34.92 34.81,36.35 C35.86,37.78 36.28,39.99 37.54,41.15 C38.80,42.31 41.10,43.53 42.36,43.30 C43.63,43.08 45.51,40.70 45.13,39.81 Z" fill="#f4f4f4"/><path d="M34.34,32.70 C34.86,32.10 34.63,30.51 34.36,29.46 C34.10,28.42 33.09,27.46 32.72,26.42 C32.36,25.39 32.44,23.90 32.18,23.25 C31.91,22.60 31.45,22.46 31.14,22.49 C30.83,22.53 30.43,22.77 30.32,23.47 C30.20,24.17 30.23,25.64 30.45,26.69 C30.68,27.74 31.55,28.72 31.68,29.78 C31.81,30.85 30.79,32.58 31.24,33.07 C31.68,33.56 33.81,33.30 34.34,32.70 Z" fill="#f4f4f4"/>
<path d="M47.41,38.07 C47.26,37.04 44.40,36.28 43.43,34.86 C42.47,33.44 42.65,30.89 41.61,29.54 C40.57,28.18 38.73,27.62 37.20,26.75 C35.67,25.88 33.96,25.18 32.43,24.31 C30.90,23.43 29.05,21.97 28.02,21.51 C27.00,21.06 26.58,21.26 26.28,21.56 C25.97,21.85 25.52,22.50 26.20,23.30 C26.88,24.10 28.92,25.38 30.36,26.33 C31.81,27.28 33.44,28.06 34.89,29.01 C36.34,29.96 38.10,30.60 39.06,32.04 C40.02,33.47 39.75,36.10 40.64,37.60 C41.52,39.10 43.25,40.97 44.37,41.05 C45.50,41.13 47.57,39.10 47.41,38.07 Z" fill="#f4f4f4"/><path d="M33.29,24.88 C33.52,24.46 31.93,23.73 31.79,23.03 C31.64,22.34 32.60,21.39 32.42,20.70 C32.24,20.01 31.18,19.30 30.72,18.90 C30.26,18.50 29.95,18.22 29.66,18.29 C29.37,18.36 28.87,18.82 28.97,19.30 C29.08,19.79 30.24,20.47 30.29,21.19 C30.34,21.91 29.26,22.89 29.27,23.61 C29.29,24.34 29.72,25.34 30.38,25.55 C31.05,25.76 33.05,25.30 33.29,24.88 Z" fill="#f4f4f4"/>
<path d="M50.88,36.03 C51.21,34.82 49.93,32.77 48.72,31.66 C47.52,30.54 44.85,30.48 43.67,29.34 C42.50,28.21 42.33,26.35 41.68,24.85 C41.03,23.34 40.92,21.45 39.76,20.30 C38.60,19.15 35.92,18.40 34.74,17.96 C33.56,17.52 33.11,17.40 32.70,17.69 C32.29,17.98 31.57,18.94 32.28,19.71 C33.00,20.47 35.93,21.05 36.98,22.28 C38.02,23.51 38.03,25.47 38.57,27.06 C39.11,28.64 39.17,30.57 40.23,31.79 C41.30,33.00 43.87,33.14 44.96,34.34 C46.05,35.53 45.80,38.66 46.79,38.94 C47.78,39.23 50.56,37.25 50.88,36.03 Z" fill="#f4f4f4"/><path d="M42.17,25.92 C41.82,25.24 40.36,25.36 39.41,25.29 C38.46,25.21 37.42,25.63 36.49,25.50 C35.55,25.36 34.45,24.49 33.80,24.46 C33.16,24.43 32.70,24.96 32.64,25.31 C32.57,25.65 32.84,26.08 33.40,26.53 C33.96,26.98 35.09,27.74 36.00,28.03 C36.90,28.32 37.92,28.05 38.84,28.28 C39.75,28.50 40.95,29.77 41.51,29.37 C42.06,28.98 42.52,26.60 42.17,25.92 Z" fill="#f4f4f4"/>
<path d="M53.56,34.93 C53.72,34.00 51.20,32.79 50.23,31.61 C49.25,30.42 48.20,29.29 47.71,27.85 C47.23,26.41 47.54,24.54 47.31,22.97 C47.07,21.40 47.13,19.67 46.29,18.42 C45.45,17.17 43.26,16.04 42.27,15.46 C41.29,14.88 40.79,14.72 40.36,14.94 C39.94,15.17 39.21,15.98 39.72,16.82 C40.22,17.65 42.67,18.65 43.39,19.96 C44.12,21.27 43.94,23.06 44.07,24.69 C44.19,26.32 43.76,28.25 44.13,29.75 C44.51,31.25 45.45,32.44 46.31,33.69 C47.17,34.93 48.09,36.98 49.30,37.19 C50.50,37.40 53.40,35.86 53.56,34.93 Z" fill="#f4f4f4"/>
<path d="M56.29,34.08 C56.85,33.05 55.02,31.33 54.65,29.84 C54.29,28.36 54.98,26.46 54.10,25.18 C53.22,23.90 50.31,23.41 49.39,22.15 C48.48,20.88 48.75,19.15 48.61,17.57 C48.48,16.00 48.94,13.65 48.60,12.70 C48.25,11.75 47.05,11.69 46.55,11.89 C46.05,12.09 45.82,12.71 45.60,13.88 C45.38,15.05 45.22,17.28 45.22,18.90 C45.22,20.53 44.81,22.32 45.59,23.64 C46.37,24.96 49.16,25.49 49.90,26.82 C50.65,28.16 49.82,30.11 50.05,31.64 C50.29,33.18 50.25,35.63 51.29,36.04 C52.33,36.44 55.73,35.11 56.29,34.08 Z" fill="#f4f4f4"/><path d="M50.08,22.32 C50.75,22.18 50.41,20.45 50.79,19.64 C51.17,18.82 51.81,18.15 52.37,17.44 C52.94,16.73 53.97,15.96 54.19,15.37 C54.42,14.78 54.05,14.09 53.72,13.90 C53.39,13.72 52.85,13.91 52.22,14.27 C51.60,14.64 50.68,15.47 49.97,16.09 C49.26,16.72 48.47,17.31 47.95,18.05 C47.42,18.78 46.45,19.78 46.80,20.49 C47.16,21.20 49.42,22.47 50.08,22.32 Z" fill="#f4f4f4"/>
<path d="M60.17,33.45 C60.74,32.52 59.11,30.38 58.56,28.86 C58.01,27.33 57.16,25.86 56.89,24.27 C56.62,22.69 56.96,20.98 56.92,19.36 C56.88,17.73 56.99,16.07 56.63,14.50 C56.26,12.94 55.35,10.91 54.74,9.96 C54.13,9.02 53.45,8.75 52.94,8.85 C52.44,8.95 51.66,9.51 51.70,10.57 C51.74,11.62 52.96,13.59 53.19,15.18 C53.41,16.78 53.17,18.46 53.08,20.12 C52.98,21.77 52.50,23.50 52.64,25.11 C52.78,26.72 53.49,28.22 53.91,29.78 C54.32,31.33 54.06,33.84 55.11,34.45 C56.15,35.06 59.59,34.38 60.17,33.45 Z" fill="#f4f4f4"/><path d="M55.77,17.69 C55.77,16.89 54.51,16.21 53.67,15.78 C52.82,15.34 51.54,15.50 50.69,15.08 C49.83,14.65 49.14,13.48 48.54,13.22 C47.94,12.96 47.29,13.22 47.08,13.51 C46.87,13.80 46.93,14.36 47.27,14.98 C47.61,15.60 48.37,16.67 49.14,17.22 C49.90,17.78 51.08,17.75 51.83,18.31 C52.59,18.88 53.00,20.72 53.65,20.62 C54.31,20.52 55.77,18.50 55.77,17.69 Z" fill="#f4f4f4"/>
<path d="M62.40,33.47 C62.98,32.69 61.51,30.60 61.29,29.15 C61.06,27.70 60.93,26.24 61.03,24.76 C61.12,23.28 61.91,21.75 61.87,20.28 C61.83,18.81 61.47,17.37 60.78,15.96 C60.09,14.55 58.47,12.69 57.71,11.81 C56.95,10.92 56.68,10.60 56.22,10.64 C55.76,10.68 54.71,11.11 54.95,12.04 C55.19,12.97 57.08,14.80 57.65,16.23 C58.22,17.65 58.45,19.10 58.37,20.58 C58.29,22.05 57.38,23.60 57.16,25.09 C56.94,26.58 56.94,28.05 57.05,29.51 C57.15,30.98 56.90,33.20 57.79,33.86 C58.69,34.52 61.82,34.26 62.40,33.47 Z" fill="#f4f4f4"/><path d="M60.13,20.90 C60.14,20.14 58.99,19.36 58.17,18.90 C57.35,18.44 56.02,18.63 55.23,18.13 C54.45,17.63 53.97,16.24 53.46,15.90 C52.94,15.56 52.34,15.84 52.14,16.10 C51.94,16.35 51.98,16.77 52.24,17.42 C52.51,18.07 53.06,19.37 53.75,19.98 C54.45,20.59 55.69,20.52 56.42,21.09 C57.15,21.66 57.49,23.46 58.11,23.43 C58.73,23.39 60.12,21.65 60.13,20.90 Z" fill="#f4f4f4"/>
<path d="M66.31,33.82 C67.43,33.09 67.11,30.65 67.44,29.06 C67.77,27.47 68.38,25.89 68.28,24.27 C68.19,22.65 67.43,20.98 66.89,19.33 C66.34,17.68 65.18,15.99 65.01,14.36 C64.83,12.74 65.95,10.65 65.83,9.57 C65.71,8.50 64.82,7.93 64.26,7.89 C63.70,7.86 62.98,8.31 62.47,9.35 C61.96,10.38 61.17,12.49 61.20,14.11 C61.23,15.72 62.24,17.40 62.63,19.05 C63.03,20.69 63.64,22.34 63.58,23.95 C63.53,25.56 62.77,27.13 62.29,28.71 C61.81,30.29 60.04,32.59 60.71,33.45 C61.38,34.30 65.19,34.56 66.31,33.82 Z" fill="#f4f4f4"/>
<path d="M69.55,34.64 C70.62,34.11 70.18,31.71 70.59,30.26 C70.99,28.81 72.00,27.50 71.98,25.96 C71.95,24.42 70.50,22.56 70.44,21.00 C70.37,19.45 70.87,18.03 71.60,16.65 C72.33,15.28 74.51,13.72 74.84,12.76 C75.17,11.80 74.10,11.02 73.56,10.90 C73.03,10.78 72.56,11.22 71.62,12.04 C70.69,12.87 68.83,14.50 67.95,15.84 C67.08,17.19 66.44,18.58 66.36,20.10 C66.28,21.62 67.59,23.45 67.48,24.96 C67.36,26.47 66.20,27.75 65.65,29.17 C65.10,30.58 63.54,32.54 64.19,33.45 C64.84,34.37 68.48,35.17 69.55,34.64 Z" fill="#f4f4f4"/><path d="M71.57,19.80 C72.23,20.13 72.72,19.27 73.14,18.82 C73.56,18.37 73.84,17.73 74.10,17.09 C74.37,16.44 74.62,15.57 74.74,14.95 C74.87,14.33 75.10,13.68 74.86,13.38 C74.62,13.08 73.72,12.90 73.30,13.16 C72.88,13.41 72.71,14.38 72.33,14.89 C71.96,15.40 71.58,15.91 71.05,16.23 C70.52,16.55 69.07,16.21 69.15,16.81 C69.24,17.40 70.90,19.46 71.57,19.80 Z" fill="#f4f4f4"/>
<path d="M72.39,35.75 C73.37,35.33 73.40,32.91 74.07,31.55 C74.75,30.19 75.86,29.00 76.42,27.60 C76.98,26.20 77.34,24.72 77.45,23.14 C77.55,21.56 76.95,19.70 77.05,18.12 C77.15,16.54 78.03,14.68 78.06,13.65 C78.09,12.63 77.68,12.13 77.25,11.97 C76.83,11.80 76.03,11.82 75.52,12.66 C75.00,13.49 74.39,15.45 74.17,16.99 C73.96,18.53 74.45,20.34 74.23,21.88 C74.01,23.41 73.54,24.85 72.86,26.21 C72.19,27.56 70.96,28.71 70.18,30.02 C69.39,31.33 67.78,33.13 68.15,34.09 C68.52,35.04 71.40,36.17 72.39,35.75 Z" fill="#f4f4f4"/><path d="M76.06,22.88 C76.23,22.24 74.95,21.37 74.35,20.65 C73.75,19.92 72.89,19.35 72.46,18.53 C72.02,17.71 72.06,16.25 71.72,15.73 C71.39,15.22 70.72,15.28 70.45,15.44 C70.17,15.60 70.07,15.98 70.07,16.69 C70.07,17.40 70.12,18.81 70.44,19.70 C70.75,20.59 71.49,21.23 71.96,22.03 C72.44,22.83 72.62,24.33 73.30,24.48 C73.98,24.62 75.88,23.52 76.06,22.88 Z" fill="#f4f4f4"/>
<path d="M75.40,37.39 C76.44,37.07 76.31,34.27 77.15,32.93 C77.99,31.59 79.44,30.58 80.44,29.34 C81.45,28.09 82.71,26.98 83.19,25.43 C83.68,23.89 82.92,21.66 83.35,20.08 C83.78,18.51 85.47,17.01 85.76,16.00 C86.06,14.98 85.57,14.23 85.12,13.97 C84.67,13.72 83.86,13.75 83.06,14.48 C82.25,15.21 80.83,16.86 80.28,18.36 C79.73,19.87 80.37,22.04 79.76,23.51 C79.16,24.99 77.78,26.03 76.66,27.21 C75.53,28.39 73.96,29.33 73.00,30.61 C72.04,31.88 70.49,33.73 70.89,34.86 C71.28,35.99 74.35,37.71 75.40,37.39 Z" fill="#f4f4f4"/><path d="M83.68,20.33 C84.06,19.85 82.43,18.73 82.36,17.86 C82.30,17.00 83.23,16.02 83.28,15.14 C83.33,14.26 82.96,13.16 82.66,12.59 C82.35,12.02 81.82,11.67 81.46,11.71 C81.10,11.75 80.64,12.21 80.50,12.84 C80.36,13.46 80.85,14.54 80.65,15.44 C80.44,16.33 79.34,17.33 79.25,18.21 C79.15,19.10 79.34,20.38 80.08,20.74 C80.82,21.09 83.30,20.81 83.68,20.33 Z" fill="#f4f4f4"/>
<path d="M77.79,39.13 C78.74,38.89 78.94,36.15 79.88,34.94 C80.81,33.72 82.29,32.92 83.40,31.84 C84.51,30.75 85.96,29.94 86.54,28.45 C87.12,26.96 86.21,24.34 86.86,22.90 C87.51,21.47 89.89,20.66 90.43,19.84 C90.98,19.02 90.49,18.27 90.12,17.99 C89.76,17.71 89.21,17.67 88.25,18.17 C87.30,18.68 85.14,19.65 84.39,21.01 C83.64,22.37 84.45,24.92 83.78,26.33 C83.10,27.75 81.55,28.49 80.35,29.50 C79.14,30.51 77.57,31.24 76.54,32.38 C75.50,33.52 73.95,35.22 74.16,36.35 C74.36,37.47 76.84,39.37 77.79,39.13 Z" fill="#f4f4f4"/>
<path d="M79.87,40.86 C81.06,40.83 82.28,38.57 83.21,37.16 C84.13,35.76 84.45,33.78 85.42,32.41 C86.38,31.04 87.47,29.79 88.99,28.94 C90.50,28.09 93.32,28.47 94.52,27.32 C95.71,26.17 95.93,23.28 96.18,22.05 C96.44,20.82 96.43,20.28 96.05,19.93 C95.67,19.57 94.61,19.09 93.92,19.91 C93.24,20.74 93.25,23.84 91.95,24.90 C90.65,25.95 87.74,25.48 86.12,26.23 C84.51,26.99 83.32,28.14 82.25,29.42 C81.19,30.69 80.77,32.58 79.74,33.89 C78.72,35.20 76.09,36.14 76.11,37.30 C76.13,38.46 78.69,40.88 79.87,40.86 Z" fill="#f4f4f4"/>
<path d="M82.98,44.05 C84.31,44.52 86.43,43.37 87.59,42.27 C88.75,41.17 88.97,38.79 89.95,37.45 C90.94,36.11 92.13,35.05 93.51,34.24 C94.89,33.44 96.78,33.31 98.24,32.62 C99.70,31.93 101.57,30.89 102.29,30.08 C103.01,29.27 102.90,28.20 102.56,27.74 C102.22,27.27 101.35,27.02 100.24,27.31 C99.13,27.60 97.47,28.91 95.91,29.48 C94.36,30.05 92.38,30.05 90.91,30.73 C89.44,31.41 88.16,32.35 87.08,33.57 C86.00,34.78 85.70,37.04 84.44,38.02 C83.19,38.99 79.80,38.42 79.56,39.43 C79.31,40.43 81.64,43.57 82.98,44.05 Z" fill="#f4f4f4"/><path d="M92.01,35.65 C92.43,36.43 93.91,36.34 94.89,36.35 C95.87,36.37 96.90,35.88 97.90,35.73 C98.89,35.58 100.17,35.68 100.87,35.45 C101.57,35.22 102.06,34.76 102.10,34.36 C102.14,33.96 101.75,33.31 101.09,33.05 C100.44,32.79 99.15,32.82 98.17,32.79 C97.19,32.77 96.18,33.07 95.22,32.88 C94.25,32.69 92.92,31.18 92.39,31.64 C91.85,32.10 91.59,34.86 92.01,35.65 Z" fill="#f4f4f4"/>
<path d="M84.25,45.87 C85.43,46.17 87.67,44.79 89.17,43.89 C90.68,43.00 92.04,41.83 93.30,40.51 C94.57,39.19 95.37,37.05 96.77,35.96 C98.17,34.87 99.98,34.51 101.70,33.99 C103.42,33.46 106.11,33.29 107.08,32.81 C108.04,32.32 107.71,31.45 107.49,31.08 C107.28,30.70 107.00,30.48 105.79,30.54 C104.58,30.60 102.02,31.00 100.24,31.42 C98.47,31.85 96.60,32.10 95.14,33.09 C93.68,34.08 92.83,36.12 91.51,37.34 C90.18,38.56 88.77,39.63 87.20,40.42 C85.64,41.21 82.60,41.19 82.11,42.10 C81.61,43.00 83.07,45.57 84.25,45.87 Z" fill="#f4f4f4"/><path d="M96.34,37.87 C96.68,38.23 98.10,36.82 98.86,37.05 C99.61,37.28 100.10,39.10 100.87,39.25 C101.63,39.39 102.87,38.28 103.46,37.93 C104.06,37.58 104.40,37.47 104.45,37.17 C104.50,36.87 104.30,36.15 103.76,36.13 C103.23,36.11 101.98,37.33 101.23,37.05 C100.49,36.77 100.02,34.82 99.29,34.45 C98.56,34.09 97.33,34.30 96.84,34.87 C96.35,35.44 96.01,37.51 96.34,37.87 Z" fill="#f4f4f4"/>
<path d="M85.50,48.23 C86.64,48.51 88.79,46.46 90.55,45.85 C92.31,45.25 94.41,45.41 96.08,44.60 C97.75,43.79 99.08,42.18 100.59,40.97 C102.09,39.77 103.37,38.04 105.12,37.40 C106.86,36.76 109.98,37.47 111.08,37.14 C112.17,36.81 111.86,35.84 111.69,35.43 C111.51,35.03 111.32,34.84 110.03,34.71 C108.73,34.58 105.72,34.11 103.92,34.64 C102.13,35.18 100.81,36.80 99.26,37.90 C97.70,38.99 96.33,40.49 94.61,41.20 C92.89,41.90 90.75,41.63 88.94,42.13 C87.13,42.63 84.32,43.17 83.75,44.18 C83.18,45.20 84.37,47.96 85.50,48.23 Z" fill="#f4f4f4"/><path d="M97.41,42.08 C97.85,42.47 99.60,41.19 100.57,41.38 C101.55,41.57 102.30,43.06 103.28,43.23 C104.26,43.40 105.76,42.68 106.46,42.42 C107.16,42.15 107.43,41.96 107.48,41.66 C107.53,41.35 107.43,40.70 106.79,40.59 C106.16,40.48 104.64,41.31 103.68,41.00 C102.72,40.69 102.00,39.07 101.05,38.74 C100.10,38.42 98.57,38.48 97.96,39.04 C97.35,39.59 96.97,41.69 97.41,42.08 Z" fill="#f4f4f4"/>
<path d="M86.93,52.21 C88.02,52.90 90.29,51.25 91.99,50.87 C93.70,50.49 95.52,50.53 97.16,49.92 C98.80,49.30 100.28,48.10 101.84,47.17 C103.40,46.25 104.76,44.60 106.51,44.37 C108.25,44.14 111.17,45.90 112.32,45.79 C113.47,45.68 113.56,44.27 113.41,43.72 C113.26,43.17 112.74,43.00 111.42,42.48 C110.10,41.96 107.28,40.54 105.49,40.62 C103.71,40.70 102.30,42.20 100.71,42.98 C99.11,43.76 97.59,44.81 95.90,45.28 C94.22,45.75 92.36,45.56 90.62,45.80 C88.87,46.03 86.05,45.62 85.44,46.69 C84.82,47.76 85.84,51.51 86.93,52.21 Z" fill="#f4f4f4"/><path d="M107.52,45.04 C108.21,44.85 107.61,42.95 108.09,42.12 C108.56,41.28 109.94,40.90 110.37,40.04 C110.80,39.19 110.72,37.75 110.67,36.99 C110.63,36.22 110.45,35.63 110.09,35.45 C109.73,35.28 108.91,35.38 108.52,35.93 C108.13,36.47 108.33,37.97 107.74,38.74 C107.15,39.52 105.61,39.83 104.98,40.58 C104.34,41.34 103.51,42.53 103.93,43.27 C104.36,44.01 106.83,45.23 107.52,45.04 Z" fill="#f4f4f4"/>
<path d="M87.43,54.84 C88.42,55.40 90.96,53.82 92.81,53.88 C94.65,53.94 96.70,55.51 98.49,55.19 C100.29,54.88 101.87,52.99 103.58,51.99 C105.28,50.99 106.90,49.36 108.72,49.20 C110.53,49.04 113.34,50.99 114.47,51.05 C115.61,51.12 115.57,50.03 115.51,49.60 C115.46,49.16 115.33,49.02 114.13,48.46 C112.93,47.90 110.16,46.22 108.33,46.26 C106.50,46.30 104.86,47.82 103.14,48.71 C101.42,49.59 99.82,51.36 98.01,51.56 C96.20,51.76 94.14,50.07 92.28,49.90 C90.42,49.73 87.66,49.70 86.86,50.52 C86.05,51.34 86.43,54.29 87.43,54.84 Z" fill="#f4f4f4"/>
<path d="M87.63,60.27 C88.48,61.26 91.22,61.05 93.06,60.80 C94.89,60.55 96.80,59.05 98.64,58.79 C100.48,58.52 102.28,58.85 104.07,59.22 C105.87,59.59 107.63,60.58 109.43,61.01 C111.22,61.45 113.67,61.95 114.84,61.83 C116.01,61.71 116.41,60.84 116.45,60.30 C116.48,59.77 116.17,59.09 115.03,58.59 C113.90,58.10 111.43,57.92 109.65,57.34 C107.86,56.77 106.11,55.64 104.32,55.12 C102.53,54.60 100.74,54.13 98.92,54.25 C97.09,54.37 95.18,55.73 93.36,55.84 C91.53,55.94 88.91,54.14 87.96,54.87 C87.00,55.61 86.78,59.28 87.63,60.27 Z" fill="#f4f4f4"/>
<path d="M35.93,59.02 C35.17,58.32 32.99,58.59 31.54,58.76 C30.08,58.93 28.65,59.79 27.20,60.06 C25.75,60.32 24.29,60.50 22.83,60.37 C21.36,60.24 19.86,59.18 18.40,59.27 C16.95,59.36 14.98,60.43 14.08,60.90 C13.18,61.38 13.00,61.73 13.01,62.13 C13.03,62.52 13.25,63.30 14.16,63.28 C15.08,63.25 17.04,61.95 18.50,61.96 C19.96,61.98 21.46,63.15 22.93,63.38 C24.40,63.62 25.86,63.54 27.32,63.38 C28.77,63.22 30.21,62.47 31.67,62.40 C33.13,62.34 35.36,63.54 36.07,62.98 C36.78,62.42 36.69,59.72 35.93,59.02 Z" fill="#f0f0f0"/>
<path d="M35.84,66.72 C35.04,66.11 32.85,67.45 31.34,67.61 C29.83,67.76 28.31,67.65 26.79,67.66 C25.27,67.66 23.73,67.43 22.22,67.65 C20.72,67.86 19.24,68.52 17.75,68.96 C16.26,69.39 14.23,69.80 13.28,70.26 C12.34,70.72 12.07,71.26 12.10,71.72 C12.13,72.17 12.49,72.94 13.47,73.00 C14.45,73.05 16.47,72.37 17.97,72.06 C19.47,71.75 20.95,71.21 22.46,71.12 C23.98,71.02 25.52,71.38 27.05,71.49 C28.58,71.61 30.12,71.84 31.63,71.81 C33.15,71.77 35.46,72.13 36.16,71.28 C36.86,70.43 36.64,67.33 35.84,66.72 Z" fill="#f0f0f0"/><path d="M21.22,68.82 C20.58,68.84 20.27,70.52 19.64,71.21 C19.00,71.90 18.01,72.23 17.40,72.95 C16.79,73.66 16.20,74.84 15.97,75.49 C15.74,76.13 15.79,76.57 16.02,76.80 C16.25,77.02 16.83,77.20 17.33,76.84 C17.84,76.47 18.36,75.21 19.07,74.60 C19.78,73.98 20.87,73.75 21.61,73.16 C22.35,72.57 23.56,71.79 23.50,71.07 C23.43,70.35 21.86,68.80 21.22,68.82 Z" fill="#f0f0f0"/>
<path d="M36.06,74.84 C35.29,74.21 32.87,75.47 31.29,75.37 C29.70,75.27 28.14,74.31 26.56,74.25 C24.98,74.18 23.37,74.68 21.78,74.95 C20.18,75.23 18.58,75.87 16.99,75.89 C15.40,75.90 13.25,74.99 12.25,75.06 C11.26,75.14 11.02,75.89 11.00,76.32 C10.99,76.76 11.19,77.24 12.18,77.66 C13.16,78.07 15.32,78.73 16.90,78.82 C18.49,78.92 20.09,78.40 21.68,78.24 C23.27,78.08 24.87,77.69 26.45,77.87 C28.03,78.06 29.59,79.13 31.17,79.34 C32.75,79.56 35.12,79.91 35.94,79.16 C36.75,78.41 36.84,75.47 36.06,74.84 Z" fill="#f0f0f0"/>
<path d="M35.86,82.92 C35.10,82.19 33.00,82.62 31.58,82.67 C30.16,82.73 28.75,82.84 27.35,83.26 C25.96,83.69 24.62,84.85 23.22,85.24 C21.83,85.64 20.41,85.73 18.99,85.64 C17.56,85.54 15.56,84.61 14.66,84.67 C13.75,84.73 13.55,85.58 13.58,85.99 C13.61,86.41 13.89,86.75 14.82,87.16 C15.76,87.57 17.74,88.25 19.18,88.46 C20.61,88.67 22.03,88.68 23.44,88.40 C24.84,88.11 26.19,87.07 27.59,86.75 C28.99,86.43 30.41,86.44 31.84,86.49 C33.26,86.55 35.47,87.67 36.14,87.08 C36.81,86.48 36.62,83.66 35.86,82.92 Z" fill="#f0f0f0"/>
<path d="M35.92,90.69 C35.12,89.90 32.83,90.47 31.30,90.61 C29.77,90.75 28.24,91.20 26.72,91.55 C25.19,91.90 23.68,92.51 22.15,92.73 C20.62,92.95 19.08,93.01 17.54,92.88 C15.99,92.75 13.87,91.87 12.89,91.95 C11.91,92.04 11.63,92.92 11.64,93.38 C11.66,93.85 11.99,94.29 12.99,94.73 C13.99,95.17 16.10,95.77 17.65,96.02 C19.20,96.27 20.74,96.34 22.27,96.24 C23.81,96.15 25.33,95.66 26.86,95.43 C28.39,95.20 29.91,94.88 31.45,94.86 C32.99,94.84 35.34,96.01 36.08,95.31 C36.83,94.62 36.71,91.47 35.92,90.69 Z" fill="#f0f0f0"/><path d="M23.30,92.41 C23.44,91.73 22.35,91.07 21.74,90.53 C21.12,90.00 20.22,89.71 19.61,89.18 C18.99,88.64 18.52,87.62 18.04,87.31 C17.56,87.00 16.95,87.07 16.71,87.29 C16.47,87.51 16.41,88.04 16.60,88.62 C16.79,89.20 17.34,90.14 17.85,90.77 C18.36,91.41 19.15,91.78 19.66,92.42 C20.16,93.05 20.29,94.59 20.90,94.58 C21.50,94.58 23.16,93.08 23.30,92.41 Z" fill="#f0f0f0"/>
<path d="M87.97,63.00 C88.67,63.66 90.84,62.91 92.27,62.95 C93.70,63.00 95.13,63.44 96.56,63.29 C98.00,63.13 99.45,62.02 100.88,62.02 C102.31,62.01 103.73,63.08 105.16,63.26 C106.59,63.43 108.55,63.30 109.46,63.07 C110.37,62.84 110.59,62.29 110.60,61.89 C110.61,61.49 110.40,60.89 109.50,60.67 C108.60,60.45 106.63,60.82 105.20,60.54 C103.77,60.26 102.36,59.08 100.93,58.98 C99.50,58.88 98.05,59.88 96.61,59.93 C95.18,59.98 93.76,59.43 92.33,59.28 C90.90,59.12 88.76,58.38 88.03,59.00 C87.31,59.62 87.26,62.34 87.97,63.00 Z" fill="#f0f0f0"/>
<path d="M87.81,71.15 C88.49,71.84 90.80,70.81 92.26,70.99 C93.72,71.16 95.12,72.04 96.58,72.20 C98.05,72.35 99.55,72.09 101.04,71.92 C102.53,71.75 104.07,71.10 105.54,71.16 C107.01,71.22 108.93,72.28 109.88,72.27 C110.82,72.26 111.16,71.52 111.20,71.09 C111.23,70.65 111.00,70.16 110.10,69.69 C109.20,69.21 107.26,68.40 105.80,68.23 C104.34,68.05 102.81,68.59 101.33,68.65 C99.85,68.70 98.36,68.85 96.90,68.58 C95.45,68.31 94.06,67.31 92.61,67.02 C91.15,66.74 88.99,66.16 88.19,66.85 C87.39,67.53 87.13,70.46 87.81,71.15 Z" fill="#f0f0f0"/>
<path d="M87.90,79.32 C88.64,80.16 90.97,79.60 92.51,79.72 C94.05,79.84 95.58,80.24 97.13,80.03 C98.68,79.83 100.27,78.73 101.83,78.49 C103.38,78.24 104.92,78.32 106.45,78.56 C107.98,78.80 110.04,79.91 111.02,79.92 C112.01,79.92 112.36,79.05 112.38,78.58 C112.40,78.12 112.11,77.67 111.14,77.14 C110.18,76.61 108.12,75.77 106.59,75.41 C105.06,75.05 103.53,74.85 101.98,74.97 C100.43,75.09 98.84,76.06 97.30,76.14 C95.75,76.23 94.23,75.70 92.70,75.46 C91.16,75.22 88.90,74.04 88.10,74.68 C87.30,75.33 87.16,78.48 87.90,79.32 Z" fill="#f0f0f0"/>
<path d="M88.09,87.34 C88.87,88.04 91.10,87.11 92.59,86.83 C94.09,86.54 95.57,85.74 97.07,85.62 C98.57,85.51 100.10,85.98 101.61,86.14 C103.13,86.30 104.65,86.62 106.16,86.61 C107.66,86.59 109.70,86.38 110.66,86.05 C111.62,85.71 111.93,85.06 111.92,84.59 C111.90,84.12 111.53,83.43 110.55,83.23 C109.57,83.04 107.55,83.53 106.03,83.42 C104.52,83.31 103.00,82.86 101.48,82.58 C99.96,82.29 98.43,81.69 96.92,81.68 C95.41,81.67 93.93,82.35 92.43,82.51 C90.93,82.67 88.63,81.85 87.91,82.66 C87.19,83.46 87.31,86.65 88.09,87.34 Z" fill="#f0f0f0"/>
<path d="M88.09,94.97 C88.89,95.56 91.16,94.81 92.69,94.57 C94.21,94.32 95.73,93.69 97.26,93.51 C98.79,93.32 100.33,93.39 101.87,93.44 C103.41,93.49 104.96,93.78 106.50,93.79 C108.04,93.81 110.16,93.76 111.10,93.51 C112.05,93.26 112.17,92.67 112.15,92.28 C112.13,91.89 111.96,91.34 111.00,91.15 C110.03,90.95 107.92,91.23 106.38,91.12 C104.83,91.00 103.28,90.60 101.73,90.45 C100.19,90.29 98.64,90.12 97.10,90.20 C95.57,90.28 94.05,90.80 92.52,90.94 C90.99,91.08 88.65,90.36 87.91,91.03 C87.17,91.70 87.29,94.38 88.09,94.97 Z" fill="#f0f0f0"/>
<path d="M8.44,54.78 C8.84,54.87 10.05,55.38 10.86,55.32 C11.66,55.26 12.49,54.40 13.30,54.42 C14.11,54.43 15.30,55.23 15.70,55.39" stroke="#767676" stroke-width="0.9" fill="none" stroke-linecap="round"/>
<path d="M9.75,47.59 C10.20,47.65 11.55,47.78 12.43,47.96 C13.32,48.14 14.16,48.60 15.06,48.68 C15.96,48.76 17.38,48.48 17.84,48.44" stroke="#767676" stroke-width="0.9" fill="none" stroke-linecap="round"/>
<path d="M12.03,40.81 C12.45,40.91 13.75,41.11 14.55,41.43 C15.35,41.76 16.04,42.46 16.85,42.77 C17.66,43.07 18.98,43.18 19.40,43.26" stroke="#767676" stroke-width="0.9" fill="none" stroke-linecap="round"/>
<path d="M15.69,34.04 C16.22,34.28 17.81,35.03 18.90,35.46 C20.00,35.90 21.18,36.14 22.25,36.63 C23.31,37.13 24.78,38.13 25.29,38.43" stroke="#767676" stroke-width="0.9" fill="none" stroke-linecap="round"/>
<path d="M20.16,27.67 C20.64,28.03 22.09,29.09 23.04,29.82 C23.99,30.54 24.90,31.33 25.88,32.03 C26.85,32.72 28.39,33.66 28.89,33.99" stroke="#767676" stroke-width="0.9" fill="none" stroke-linecap="round"/>
<path d="M24.90,22.64 C25.34,22.95 26.66,23.87 27.49,24.54 C28.33,25.21 29.16,25.88 29.90,26.65 C30.64,27.42 31.61,28.73 31.95,29.15" stroke="#767676" stroke-width="0.9" fill="none" stroke-linecap="round"/>
<path d="M30.50,18.34 C30.81,18.82 31.70,20.28 32.37,21.20 C33.03,22.13 33.65,23.08 34.48,23.87 C35.30,24.66 36.83,25.59 37.30,25.93" stroke="#767676" stroke-width="0.9" fill="none" stroke-linecap="round"/>
<path d="M36.48,14.64 C36.68,15.08 37.14,16.49 37.67,17.28 C38.20,18.08 39.18,18.60 39.67,19.42 C40.15,20.25 40.42,21.77 40.57,22.23" stroke="#767676" stroke-width="0.9" fill="none" stroke-linecap="round"/>
<path d="M41.84,12.11 C42.05,12.40 42.77,13.25 43.10,13.89 C43.43,14.52 43.65,15.21 43.83,15.91 C44.01,16.62 44.11,17.75 44.17,18.12" stroke="#767676" stroke-width="0.9" fill="none" stroke-linecap="round"/>
<path d="M48.46,9.67 C48.54,10.11 48.63,11.49 48.95,12.33 C49.28,13.17 50.07,13.88 50.39,14.72 C50.71,15.56 50.79,16.94 50.87,17.39" stroke="#767676" stroke-width="0.9" fill="none" stroke-linecap="round"/>
<path d="M55.28,8.37 C55.41,8.69 55.87,9.65 56.03,10.31 C56.19,10.96 56.15,11.65 56.26,12.32 C56.36,12.98 56.58,13.97 56.65,14.30" stroke="#767676" stroke-width="0.9" fill="none" stroke-linecap="round"/>
<path d="M61.58,7.99 C61.55,8.54 61.42,10.18 61.43,11.27 C61.45,12.36 61.68,13.45 61.64,14.55 C61.61,15.64 61.29,17.28 61.22,17.83" stroke="#767676" stroke-width="0.9" fill="none" stroke-linecap="round"/>
<path d="M68.85,8.38 C68.86,8.87 69.10,10.38 68.92,11.33 C68.74,12.28 68.08,13.17 67.77,14.10 C67.46,15.03 67.18,16.46 67.06,16.93" stroke="#767676" stroke-width="0.9" fill="none" stroke-linecap="round"/>
<path d="M76.11,9.72 C75.90,10.12 75.10,11.25 74.86,12.10 C74.61,12.95 74.82,13.93 74.65,14.80 C74.47,15.66 73.96,16.89 73.82,17.31" stroke="#767676" stroke-width="0.9" fill="none" stroke-linecap="round"/>
<path d="M82.89,11.90 C82.65,12.22 81.69,13.09 81.43,13.85 C81.17,14.61 81.68,15.73 81.34,16.45 C80.99,17.17 79.69,17.88 79.37,18.16" stroke="#767676" stroke-width="0.9" fill="none" stroke-linecap="round"/>
<path d="M89.04,14.92 C88.83,15.41 88.44,17.02 87.79,17.85 C87.15,18.67 85.81,19.04 85.18,19.88 C84.55,20.71 84.21,22.36 84.01,22.85" stroke="#767676" stroke-width="0.9" fill="none" stroke-linecap="round"/>
<path d="M94.28,18.08 C94.01,18.54 93.31,20.04 92.66,20.87 C92.02,21.71 91.21,22.41 90.38,23.10 C89.56,23.78 88.14,24.66 87.70,24.98" stroke="#767676" stroke-width="0.9" fill="none" stroke-linecap="round"/>
<path d="M100.20,22.12 C99.85,22.39 98.73,23.10 98.12,23.72 C97.51,24.35 97.12,25.22 96.54,25.89 C95.97,26.55 94.98,27.42 94.67,27.72" stroke="#767676" stroke-width="0.9" fill="none" stroke-linecap="round"/>
<path d="M105.95,27.41 C105.51,27.59 104.08,27.97 103.30,28.48 C102.51,28.99 101.93,29.81 101.24,30.47 C100.55,31.13 99.52,32.13 99.18,32.46" stroke="#767676" stroke-width="0.9" fill="none" stroke-linecap="round"/>
<path d="M109.66,32.25 C109.16,32.54 107.66,33.44 106.64,34.00 C105.63,34.56 104.66,35.23 103.56,35.63 C102.47,36.02 100.64,36.26 100.05,36.39" stroke="#767676" stroke-width="0.9" fill="none" stroke-linecap="round"/>
<path d="M113.10,38.13 C112.57,38.34 111.01,39.04 109.94,39.42 C108.87,39.79 107.75,40.03 106.66,40.37 C105.58,40.71 103.97,41.28 103.43,41.46" stroke="#767676" stroke-width="0.9" fill="none" stroke-linecap="round"/>
<path d="M115.99,45.18 C115.44,45.34 113.84,46.00 112.72,46.15 C111.59,46.30 110.36,45.93 109.24,46.08 C108.11,46.22 106.51,46.86 105.96,47.01" stroke="#767676" stroke-width="0.9" fill="none" stroke-linecap="round"/>
<path d="M117.89,54.03 C117.50,54.10 116.35,54.32 115.58,54.43 C114.82,54.54 114.05,54.79 113.28,54.68 C112.50,54.57 111.32,53.92 110.93,53.77" stroke="#767676" stroke-width="0.9" fill="none" stroke-linecap="round"/>
<path d="M16.18,65.00 C15.73,65.10 14.36,65.63 13.45,65.57 C12.54,65.52 11.64,64.74 10.73,64.68 C9.82,64.63 8.45,65.13 8.00,65.22" stroke="#767676" stroke-width="0.9" fill="none" stroke-linecap="round"/>
<path d="M19.00,73.00 C18.39,73.05 16.56,73.24 15.33,73.33 C14.11,73.42 12.89,73.55 11.67,73.53 C10.44,73.51 8.61,73.26 8.00,73.21" stroke="#767676" stroke-width="0.9" fill="none" stroke-linecap="round"/>
<path d="M18.14,81.00 C17.57,81.02 15.88,81.15 14.76,81.14 C13.63,81.14 12.50,81.06 11.38,80.97 C10.25,80.87 8.56,80.64 8.00,80.57" stroke="#767676" stroke-width="0.9" fill="none" stroke-linecap="round"/>
<path d="M17.93,89.00 C17.37,88.92 15.72,88.55 14.62,88.50 C13.51,88.45 12.41,88.63 11.31,88.69 C10.21,88.75 8.55,88.81 8.00,88.84" stroke="#767676" stroke-width="0.9" fill="none" stroke-linecap="round"/>
<path d="M103.81,65.00 C104.49,64.93 106.52,64.55 107.87,64.59 C109.23,64.63 110.58,65.12 111.94,65.23 C113.29,65.35 115.32,65.27 116.00,65.28" stroke="#767676" stroke-width="0.9" fill="none" stroke-linecap="round"/>
<path d="M107.90,73.00 C108.35,72.91 109.70,72.43 110.60,72.45 C111.50,72.47 112.40,72.94 113.30,73.13 C114.20,73.32 115.55,73.51 116.00,73.58" stroke="#767676" stroke-width="0.9" fill="none" stroke-linecap="round"/>
<path d="M104.68,81.00 C105.31,80.96 107.20,80.75 108.45,80.76 C109.71,80.77 110.97,81.07 112.23,81.05 C113.48,81.03 115.37,80.72 116.00,80.65" stroke="#767676" stroke-width="0.9" fill="none" stroke-linecap="round"/>
<path d="M107.16,89.00 C107.65,88.91 109.13,88.45 110.11,88.45 C111.09,88.45 112.07,88.91 113.05,89.02 C114.04,89.13 115.51,89.11 116.00,89.13" stroke="#767676" stroke-width="0.9" fill="none" stroke-linecap="round"/>
</g>
<rect x="-5" y="-5" width="140" height="112" fill="#000" filter="url(#cB1t)"/>
<ellipse cx="62" cy="56" rx="24" ry="12" fill="#f6f6f6" opacity="0.8"/>
<path d="M62,8 L62,38" stroke="#999" stroke-width="2.2"/>
<path d="M62,8 L62,36" stroke="#707070" stroke-width="0.8"/>
<path d="M50,44 Q53,33 62,37 Q71,33 74,44" stroke="#9c9c9c" stroke-width="4" fill="none"/>
<path d="M50,48.5 Q62,41 74,48.5" stroke="#f4f4f4" stroke-width="2.6" fill="none"/>
<path d="M55,51 Q62,48 69,51" stroke="#9a9a9a" stroke-width="1.3" fill="none"/>
<path d="M47.3,54.3 L56.2,55.6 L55.6,62.8 Q51,58 47.3,54.3 Z" fill="#4e4e4e"/>
<path d="M77.5,54.3 L67.7,56.5 L70.9,62.8 Q74,58 77.5,54.3 Z" fill="#4e4e4e"/>
<path d="M53,70 Q62,64 71,70 L69,75 Q62,71 55,75 Z" fill="#7a7a7a"/>
<path d="M56,77 Q62,74 68,77 L69,101 L55,101 Z" fill="#8a8a8a"/>
<path d="M62,87 L56,101 L68,101 Z" fill="#3c3c3c"/>
<linearGradient id="cB1bg" x1="0" y1="0" x2="0" y2="1"><stop offset="0" stop-color="#202020" stop-opacity="0"/><stop offset="1" stop-color="#202020" stop-opacity="0.8"/></linearGradient>
<rect x="0" y="87" width="54" height="14" fill="url(#cB1bg)"/>
<rect x="70" y="87" width="57" height="14" fill="url(#cB1bg)"/>
</g></g>
<g clip-path="url(#cB1c)"><path d="M0.00,101.00 C0.00,97.50 0.00,86.00 0.00,80.00 C0.00,74.00 -0.08,69.32 0.00,65.00 C0.08,60.68 0.03,57.82 0.50,54.10 C0.97,50.38 1.75,46.12 2.80,42.70 C3.85,39.28 5.18,36.63 6.80,33.60 C8.42,30.57 10.23,27.43 12.50,24.50 C14.77,21.57 17.18,18.73 20.40,16.00 C23.62,13.27 28.00,10.27 31.80,8.10 C35.60,5.93 39.80,4.23 43.20,3.00 C46.60,1.77 48.78,1.20 52.20,0.70 C55.62,0.20 59.88,-0.10 63.70,0.00 C67.52,0.10 71.32,0.52 75.10,1.30 C78.88,2.08 82.62,3.10 86.40,4.70 C90.18,6.30 94.00,8.45 97.80,10.90 C101.60,13.35 105.98,16.37 109.20,19.40 C112.42,22.43 114.83,25.58 117.10,29.10 C119.37,32.62 121.38,36.72 122.80,40.50 C124.22,44.28 124.93,47.72 125.60,51.80 C126.27,55.88 126.52,60.30 126.80,65.00 C127.08,69.70 127.18,74.00 127.30,80.00 C127.42,86.00 127.47,97.50 127.50,101.00" fill="none" stroke="#1e1e1e" stroke-width="13.26"/>
<path d="M0.00,101.00 C0.00,97.50 0.00,86.00 0.00,80.00 C0.00,74.00 -0.08,69.32 0.00,65.00 C0.08,60.68 0.03,57.82 0.50,54.10 C0.97,50.38 1.75,46.12 2.80,42.70 C3.85,39.28 5.18,36.63 6.80,33.60 C8.42,30.57 10.23,27.43 12.50,24.50 C14.77,21.57 17.18,18.73 20.40,16.00 C23.62,13.27 28.00,10.27 31.80,8.10 C35.60,5.93 39.80,4.23 43.20,3.00 C46.60,1.77 48.78,1.20 52.20,0.70 C55.62,0.20 59.88,-0.10 63.70,0.00 C67.52,0.10 71.32,0.52 75.10,1.30 C78.88,2.08 82.62,3.10 86.40,4.70 C90.18,6.30 94.00,8.45 97.80,10.90 C101.60,13.35 105.98,16.37 109.20,19.40 C112.42,22.43 114.83,25.58 117.10,29.10 C119.37,32.62 121.38,36.72 122.80,40.50 C124.22,44.28 124.93,47.72 125.60,51.80 C126.27,55.88 126.52,60.30 126.80,65.00 C127.08,69.70 127.18,74.00 127.30,80.00 C127.42,86.00 127.47,97.50 127.50,101.00" fill="none" stroke="#959595" stroke-width="9.52"/>
<path d="M0.00,101.00 C0.00,97.50 0.00,86.00 0.00,80.00 C0.00,74.00 -0.08,69.32 0.00,65.00 C0.08,60.68 0.03,57.82 0.50,54.10 C0.97,50.38 1.75,46.12 2.80,42.70 C3.85,39.28 5.18,36.63 6.80,33.60 C8.42,30.57 10.23,27.43 12.50,24.50 C14.77,21.57 17.18,18.73 20.40,16.00 C23.62,13.27 28.00,10.27 31.80,8.10 C35.60,5.93 39.80,4.23 43.20,3.00 C46.60,1.77 48.78,1.20 52.20,0.70 C55.62,0.20 59.88,-0.10 63.70,0.00 C67.52,0.10 71.32,0.52 75.10,1.30 C78.88,2.08 82.62,3.10 86.40,4.70 C90.18,6.30 94.00,8.45 97.80,10.90 C101.60,13.35 105.98,16.37 109.20,19.40 C112.42,22.43 114.83,25.58 117.10,29.10 C119.37,32.62 121.38,36.72 122.80,40.50 C124.22,44.28 124.93,47.72 125.60,51.80 C126.27,55.88 126.52,60.30 126.80,65.00 C127.08,69.70 127.18,74.00 127.30,80.00 C127.42,86.00 127.47,97.50 127.50,101.00" fill="none" stroke="#505050" stroke-width="5.44"/>
<path d="M0.00,101.00 C0.00,97.50 0.00,86.00 0.00,80.00 C0.00,74.00 -0.08,69.32 0.00,65.00 C0.08,60.68 0.03,57.82 0.50,54.10 C0.97,50.38 1.75,46.12 2.80,42.70 C3.85,39.28 5.18,36.63 6.80,33.60 C8.42,30.57 10.23,27.43 12.50,24.50 C14.77,21.57 17.18,18.73 20.40,16.00 C23.62,13.27 28.00,10.27 31.80,8.10 C35.60,5.93 39.80,4.23 43.20,3.00 C46.60,1.77 48.78,1.20 52.20,0.70 C55.62,0.20 59.88,-0.10 63.70,0.00 C67.52,0.10 71.32,0.52 75.10,1.30 C78.88,2.08 82.62,3.10 86.40,4.70 C90.18,6.30 94.00,8.45 97.80,10.90 C101.60,13.35 105.98,16.37 109.20,19.40 C112.42,22.43 114.83,25.58 117.10,29.10 C119.37,32.62 121.38,36.72 122.80,40.50 C124.22,44.28 124.93,47.72 125.60,51.80 C126.27,55.88 126.52,60.30 126.80,65.00 C127.08,69.70 127.18,74.00 127.30,80.00 C127.42,86.00 127.47,97.50 127.50,101.00" fill="none" stroke="#acacac" stroke-width="3.74"/>
<path d="M0.00,101.00 C0.00,97.50 0.00,86.00 0.00,80.00 C0.00,74.00 -0.08,69.32 0.00,65.00 C0.08,60.68 0.03,57.82 0.50,54.10 C0.97,50.38 1.75,46.12 2.80,42.70 C3.85,39.28 5.18,36.63 6.80,33.60 C8.42,30.57 10.23,27.43 12.50,24.50 C14.77,21.57 17.18,18.73 20.40,16.00 C23.62,13.27 28.00,10.27 31.80,8.10 C35.60,5.93 39.80,4.23 43.20,3.00 C46.60,1.77 48.78,1.20 52.20,0.70 C55.62,0.20 59.88,-0.10 63.70,0.00 C67.52,0.10 71.32,0.52 75.10,1.30 C78.88,2.08 82.62,3.10 86.40,4.70 C90.18,6.30 94.00,8.45 97.80,10.90 C101.60,13.35 105.98,16.37 109.20,19.40 C112.42,22.43 114.83,25.58 117.10,29.10 C119.37,32.62 121.38,36.72 122.80,40.50 C124.22,44.28 124.93,47.72 125.60,51.80 C126.27,55.88 126.52,60.30 126.80,65.00 C127.08,69.70 127.18,74.00 127.30,80.00 C127.42,86.00 127.47,97.50 127.50,101.00" fill="none" stroke="#4a4a4a" stroke-width="1.275"/></g>
<path d="M126.5,85 C129.5,85 130.5,88 130,91 C129.6,94 128.5,97 126.8,98 Z" fill="#8a8a8a" stroke="#333" stroke-width="0.8"/></g>
<g transform="translate(455.5,69.2) scale(0.99,0.98)"><clipPath id="aBc"><path d="M46.00,0.00 C52.77,0.00 60.88,2.48 66.30,5.60 C71.72,8.72 74.95,12.78 78.50,18.70 C82.05,24.62 85.58,33.32 87.60,41.10 C89.62,48.88 90.27,57.97 90.60,65.40 C90.93,72.83 91.28,79.62 89.60,85.70 C87.92,91.78 84.38,97.68 80.50,101.90 C76.62,106.12 72.05,108.90 66.30,111.00 C60.55,113.10 52.77,114.50 46.00,114.50 C39.23,114.50 31.45,113.10 25.70,111.00 C19.95,108.90 15.38,106.12 11.50,101.90 C7.62,97.68 4.25,91.78 2.40,85.70 C0.55,79.62 0.07,72.83 0.40,65.40 C0.73,57.97 2.20,48.88 4.40,41.10 C6.60,33.32 10.05,24.62 13.60,18.70 C17.15,12.78 20.30,8.72 25.70,5.60 C31.10,2.48 39.23,0.00 46.00,0.00 Z"/></clipPath>
<g clip-path="url(#aBc)"><g filter="url(#soft)">
<rect x="-3" y="-3" width="98" height="122" fill="#d8d8d8"/>
<ellipse cx="28" cy="62" rx="12" ry="36" fill="#e8e8e8"/>
<ellipse cx="64" cy="62" rx="12" ry="36" fill="#e8e8e8"/>
<rect x="-5" y="-5" width="102" height="126" fill="#000" filter="url(#aBt)"/>
<rect x="40" y="6" width="12" height="104" fill="#9a9a9a" opacity="0.45"/>
<path d="M46.00,0.00 C52.77,0.00 60.88,2.48 66.30,5.60 C71.72,8.72 74.95,12.78 78.50,18.70 C82.05,24.62 85.58,33.32 87.60,41.10 C89.62,48.88 90.27,57.97 90.60,65.40 C90.93,72.83 91.28,79.62 89.60,85.70 C87.92,91.78 84.38,97.68 80.50,101.90 C76.62,106.12 72.05,108.90 66.30,111.00 C60.55,113.10 52.77,114.50 46.00,114.50 C39.23,114.50 31.45,113.10 25.70,111.00 C19.95,108.90 15.38,106.12 11.50,101.90 C7.62,97.68 4.25,91.78 2.40,85.70 C0.55,79.62 0.07,72.83 0.40,65.40 C0.73,57.97 2.20,48.88 4.40,41.10 C6.60,33.32 10.05,24.62 13.60,18.70 C17.15,12.78 20.30,8.72 25.70,5.60 C31.10,2.48 39.23,0.00 46.00,0.00 Z" fill="none" stroke="#8e8e8e" stroke-width="19" opacity="0.45"/>
<path d="M46,6 L46,110" stroke="#666" stroke-width="0.9"/>
</g></g>
<g clip-path="url(#aBc)"><path d="M46.00,0.00 C52.77,0.00 60.88,2.48 66.30,5.60 C71.72,8.72 74.95,12.78 78.50,18.70 C82.05,24.62 85.58,33.32 87.60,41.10 C89.62,48.88 90.27,57.97 90.60,65.40 C90.93,72.83 91.28,79.62 89.60,85.70 C87.92,91.78 84.38,97.68 80.50,101.90 C76.62,106.12 72.05,108.90 66.30,111.00 C60.55,113.10 52.77,114.50 46.00,114.50 C39.23,114.50 31.45,113.10 25.70,111.00 C19.95,108.90 15.38,106.12 11.50,101.90 C7.62,97.68 4.25,91.78 2.40,85.70 C0.55,79.62 0.07,72.83 0.40,65.40 C0.73,57.97 2.20,48.88 4.40,41.10 C6.60,33.32 10.05,24.62 13.60,18.70 C17.15,12.78 20.30,8.72 25.70,5.60 C31.10,2.48 39.23,0.00 46.00,0.00 Z" fill="none" stroke="#1e1e1e" stroke-width="14.04"/>
<path d="M46.00,0.00 C52.77,0.00 60.88,2.48 66.30,5.60 C71.72,8.72 74.95,12.78 78.50,18.70 C82.05,24.62 85.58,33.32 87.60,41.10 C89.62,48.88 90.27,57.97 90.60,65.40 C90.93,72.83 91.28,79.62 89.60,85.70 C87.92,91.78 84.38,97.68 80.50,101.90 C76.62,106.12 72.05,108.90 66.30,111.00 C60.55,113.10 52.77,114.50 46.00,114.50 C39.23,114.50 31.45,113.10 25.70,111.00 C19.95,108.90 15.38,106.12 11.50,101.90 C7.62,97.68 4.25,91.78 2.40,85.70 C0.55,79.62 0.07,72.83 0.40,65.40 C0.73,57.97 2.20,48.88 4.40,41.10 C6.60,33.32 10.05,24.62 13.60,18.70 C17.15,12.78 20.30,8.72 25.70,5.60 C31.10,2.48 39.23,0.00 46.00,0.00 Z" fill="none" stroke="#959595" stroke-width="10.08"/>
<path d="M46.00,0.00 C52.77,0.00 60.88,2.48 66.30,5.60 C71.72,8.72 74.95,12.78 78.50,18.70 C82.05,24.62 85.58,33.32 87.60,41.10 C89.62,48.88 90.27,57.97 90.60,65.40 C90.93,72.83 91.28,79.62 89.60,85.70 C87.92,91.78 84.38,97.68 80.50,101.90 C76.62,106.12 72.05,108.90 66.30,111.00 C60.55,113.10 52.77,114.50 46.00,114.50 C39.23,114.50 31.45,113.10 25.70,111.00 C19.95,108.90 15.38,106.12 11.50,101.90 C7.62,97.68 4.25,91.78 2.40,85.70 C0.55,79.62 0.07,72.83 0.40,65.40 C0.73,57.97 2.20,48.88 4.40,41.10 C6.60,33.32 10.05,24.62 13.60,18.70 C17.15,12.78 20.30,8.72 25.70,5.60 C31.10,2.48 39.23,0.00 46.00,0.00 Z" fill="none" stroke="#505050" stroke-width="5.760000000000001"/>
<path d="M46.00,0.00 C52.77,0.00 60.88,2.48 66.30,5.60 C71.72,8.72 74.95,12.78 78.50,18.70 C82.05,24.62 85.58,33.32 87.60,41.10 C89.62,48.88 90.27,57.97 90.60,65.40 C90.93,72.83 91.28,79.62 89.60,85.70 C87.92,91.78 84.38,97.68 80.50,101.90 C76.62,106.12 72.05,108.90 66.30,111.00 C60.55,113.10 52.77,114.50 46.00,114.50 C39.23,114.50 31.45,113.10 25.70,111.00 C19.95,108.90 15.38,106.12 11.50,101.90 C7.62,97.68 4.25,91.78 2.40,85.70 C0.55,79.62 0.07,72.83 0.40,65.40 C0.73,57.97 2.20,48.88 4.40,41.10 C6.60,33.32 10.05,24.62 13.60,18.70 C17.15,12.78 20.30,8.72 25.70,5.60 C31.10,2.48 39.23,0.00 46.00,0.00 Z" fill="none" stroke="#acacac" stroke-width="3.9600000000000004"/>
<path d="M46.00,0.00 C52.77,0.00 60.88,2.48 66.30,5.60 C71.72,8.72 74.95,12.78 78.50,18.70 C82.05,24.62 85.58,33.32 87.60,41.10 C89.62,48.88 90.27,57.97 90.60,65.40 C90.93,72.83 91.28,79.62 89.60,85.70 C87.92,91.78 84.38,97.68 80.50,101.90 C76.62,106.12 72.05,108.90 66.30,111.00 C60.55,113.10 52.77,114.50 46.00,114.50 C39.23,114.50 31.45,113.10 25.70,111.00 C19.95,108.90 15.38,106.12 11.50,101.90 C7.62,97.68 4.25,91.78 2.40,85.70 C0.55,79.62 0.07,72.83 0.40,65.40 C0.73,57.97 2.20,48.88 4.40,41.10 C6.60,33.32 10.05,24.62 13.60,18.70 C17.15,12.78 20.30,8.72 25.70,5.60 C31.10,2.48 39.23,0.00 46.00,0.00 Z" fill="none" stroke="#4a4a4a" stroke-width="1.35"/></g></g>
<g transform="translate(554,73.5) scale(0.985,0.975)"><clipPath id="cB2c"><path d="M0.00,101.00 C0.00,97.50 0.00,86.00 0.00,80.00 C0.00,74.00 -0.08,69.32 0.00,65.00 C0.08,60.68 0.03,57.82 0.50,54.10 C0.97,50.38 1.75,46.12 2.80,42.70 C3.85,39.28 5.18,36.63 6.80,33.60 C8.42,30.57 10.23,27.43 12.50,24.50 C14.77,21.57 17.18,18.73 20.40,16.00 C23.62,13.27 28.00,10.27 31.80,8.10 C35.60,5.93 39.80,4.23 43.20,3.00 C46.60,1.77 48.78,1.20 52.20,0.70 C55.62,0.20 59.88,-0.10 63.70,0.00 C67.52,0.10 71.32,0.52 75.10,1.30 C78.88,2.08 82.62,3.10 86.40,4.70 C90.18,6.30 94.00,8.45 97.80,10.90 C101.60,13.35 105.98,16.37 109.20,19.40 C112.42,22.43 114.83,25.58 117.10,29.10 C119.37,32.62 121.38,36.72 122.80,40.50 C124.22,44.28 124.93,47.72 125.60,51.80 C126.27,55.88 126.52,60.30 126.80,65.00 C127.08,69.70 127.18,74.00 127.30,80.00 C127.42,86.00 127.47,97.50 127.50,101.00 Z"/></clipPath>
<g clip-path="url(#cB2c)"><g filter="url(#soft)">
<rect x="-3" y="-3" width="134" height="108" fill="#a2a2a2"/>
<g>
<ellipse cx="62" cy="55" rx="30" ry="17" fill="#f4f4f4"/>
<ellipse cx="62" cy="74" rx="32" ry="11" fill="#efefef"/>
<path d="M37.19,54.60 C36.30,53.81 33.72,54.33 31.99,54.29 C30.26,54.25 28.53,54.37 26.80,54.37 C25.07,54.37 23.33,54.03 21.61,54.29 C19.89,54.56 18.18,55.29 16.48,55.97 C14.77,56.64 12.42,57.73 11.37,58.36 C10.31,58.99 10.15,59.29 10.16,59.74 C10.18,60.18 10.39,61.16 11.46,61.03 C12.53,60.91 14.87,59.55 16.58,59.00 C18.29,58.44 20.00,57.83 21.72,57.68 C23.45,57.53 25.19,57.99 26.93,58.11 C28.66,58.23 30.39,58.23 32.13,58.38 C33.86,58.54 36.49,59.69 37.34,59.06 C38.18,58.43 38.08,55.40 37.19,54.60 Z" fill="#f4f4f4"/><path d="M20.00,56.42 C20.15,55.73 19.23,54.89 18.57,54.37 C17.91,53.85 16.73,53.78 16.04,53.29 C15.35,52.79 14.90,51.72 14.42,51.40 C13.94,51.08 13.37,51.16 13.14,51.36 C12.91,51.57 12.82,52.07 13.02,52.64 C13.21,53.21 13.74,54.22 14.32,54.80 C14.91,55.39 15.99,55.55 16.54,56.16 C17.10,56.77 17.09,58.44 17.66,58.49 C18.24,58.53 19.85,57.11 20.00,56.42 Z" fill="#f4f4f4"/>
<path d="M38.07,50.32 C37.31,49.17 34.57,49.39 32.82,48.92 C31.07,48.45 29.37,47.53 27.57,47.49 C25.76,47.45 23.85,48.34 22.00,48.69 C20.15,49.04 18.29,49.48 16.47,49.60 C14.65,49.73 12.26,49.22 11.07,49.44 C9.88,49.65 9.39,50.36 9.32,50.91 C9.25,51.47 9.55,52.35 10.67,52.76 C11.79,53.17 14.22,53.35 16.02,53.37 C17.82,53.39 19.67,53.10 21.50,52.90 C23.33,52.69 25.22,51.96 27.01,52.15 C28.79,52.33 30.47,53.40 32.21,54.02 C33.94,54.64 36.43,56.48 37.41,55.86 C38.38,55.25 38.84,51.48 38.07,50.32 Z" fill="#f4f4f4"/><path d="M22.72,50.00 C22.16,49.88 22.49,51.79 21.93,52.19 C21.37,52.59 19.85,51.92 19.37,52.41 C18.89,52.90 19.12,54.42 19.07,55.14 C19.01,55.86 18.78,56.45 19.04,56.74 C19.30,57.03 20.26,57.25 20.63,56.88 C21.01,56.52 20.69,54.90 21.29,54.54 C21.88,54.18 23.52,54.98 24.20,54.71 C24.87,54.43 25.58,53.69 25.34,52.90 C25.09,52.12 23.29,50.12 22.72,50.00 Z" fill="#f4f4f4"/>
<path d="M39.21,47.46 C38.63,46.47 35.97,47.08 34.46,46.48 C32.95,45.88 31.73,44.15 30.13,43.86 C28.54,43.57 26.63,44.52 24.90,44.75 C23.17,44.98 21.38,45.44 19.77,45.25 C18.15,45.06 16.24,43.69 15.19,43.61 C14.13,43.52 13.54,44.24 13.41,44.74 C13.29,45.23 13.50,45.93 14.42,46.58 C15.33,47.23 17.31,48.30 18.89,48.62 C20.48,48.94 22.23,48.61 23.93,48.51 C25.62,48.41 27.50,47.60 29.06,48.03 C30.62,48.45 31.80,50.31 33.28,51.04 C34.76,51.77 36.94,53.01 37.93,52.42 C38.92,51.82 39.79,48.45 39.21,47.46 Z" fill="#f4f4f4"/>
<path d="M40.85,44.70 C40.45,43.48 38.11,42.69 36.54,42.20 C34.97,41.70 33.14,41.85 31.42,41.73 C29.69,41.62 27.66,42.26 26.20,41.50 C24.73,40.73 23.97,38.21 22.63,37.16 C21.28,36.11 19.18,35.37 18.10,35.20 C17.03,35.02 16.36,35.62 16.17,36.10 C15.97,36.59 16.08,37.37 16.94,38.09 C17.79,38.82 20.01,39.27 21.31,40.45 C22.60,41.63 23.31,44.28 24.72,45.17 C26.14,46.06 28.11,45.55 29.79,45.79 C31.46,46.04 33.24,46.02 34.76,46.64 C36.28,47.27 37.89,49.86 38.91,49.54 C39.92,49.21 41.24,45.93 40.85,44.70 Z" fill="#f4f4f4"/><path d="M26.30,39.99 C25.74,39.43 24.43,39.87 23.56,40.20 C22.69,40.53 21.95,41.62 21.08,41.96 C20.21,42.31 18.95,42.00 18.36,42.26 C17.77,42.51 17.47,43.14 17.53,43.50 C17.59,43.86 18.05,44.23 18.72,44.41 C19.39,44.60 20.63,44.78 21.53,44.60 C22.42,44.42 23.19,43.48 24.08,43.31 C24.98,43.14 26.53,44.14 26.90,43.59 C27.27,43.03 26.85,40.56 26.30,39.99 Z" fill="#f4f4f4"/>
<path d="M42.82,42.19 C42.37,41.27 39.46,41.17 37.91,40.46 C36.36,39.75 34.73,39.15 33.49,37.91 C32.25,36.66 31.94,33.84 30.47,32.97 C29.01,32.10 26.56,32.91 24.71,32.70 C22.86,32.49 20.54,31.80 19.37,31.72 C18.19,31.64 17.87,31.85 17.64,32.23 C17.42,32.61 17.11,33.48 18.04,33.99 C18.96,34.49 21.41,34.96 23.20,35.27 C24.99,35.58 27.38,34.87 28.79,35.84 C30.19,36.81 30.45,39.73 31.63,41.08 C32.81,42.43 34.37,43.12 35.87,43.93 C37.36,44.75 39.44,46.25 40.60,45.96 C41.75,45.67 43.26,43.10 42.82,42.19 Z" fill="#f4f4f4"/>
<path d="M44.91,39.99 C44.66,39.01 42.09,38.42 40.61,37.72 C39.13,37.02 37.18,36.94 36.05,35.78 C34.92,34.63 34.89,32.04 33.85,30.77 C32.82,29.50 31.21,28.97 29.83,28.15 C28.44,27.33 26.56,26.19 25.54,25.85 C24.52,25.52 23.97,25.80 23.69,26.16 C23.41,26.53 23.16,27.29 23.87,28.03 C24.58,28.77 26.62,29.69 27.93,30.61 C29.24,31.53 30.78,32.16 31.74,33.53 C32.70,34.90 32.66,37.57 33.71,38.83 C34.76,40.08 36.65,40.25 38.05,41.05 C39.45,41.85 40.98,43.79 42.13,43.62 C43.27,43.44 45.16,40.98 44.91,39.99 Z" fill="#f4f4f4"/>
<path d="M47.72,37.83 C47.73,36.69 45.48,35.46 44.47,34.17 C43.46,32.88 42.80,31.25 41.65,30.09 C40.50,28.93 39.01,28.10 37.57,27.23 C36.13,26.35 34.42,25.73 33.01,24.82 C31.61,23.90 30.11,22.25 29.15,21.74 C28.19,21.23 27.59,21.45 27.26,21.77 C26.92,22.09 26.57,22.79 27.16,23.66 C27.74,24.54 29.44,26.00 30.75,27.00 C32.06,28.00 33.69,28.70 35.04,29.66 C36.39,30.63 37.79,31.54 38.85,32.78 C39.92,34.02 40.48,35.74 41.41,37.12 C42.33,38.50 43.34,40.92 44.39,41.04 C45.44,41.16 47.71,38.98 47.72,37.83 Z" fill="#f4f4f4"/>
<path d="M50.14,36.44 C50.41,35.21 49.20,33.04 48.06,31.86 C46.91,30.67 44.45,30.48 43.25,29.32 C42.06,28.17 41.72,26.38 40.90,24.94 C40.09,23.50 39.66,21.77 38.38,20.69 C37.09,19.60 34.39,18.84 33.21,18.43 C32.03,18.02 31.69,17.95 31.32,18.23 C30.95,18.51 30.23,19.38 30.99,20.10 C31.75,20.83 34.68,21.43 35.86,22.59 C37.04,23.75 37.38,25.55 38.09,27.06 C38.80,28.58 39.05,30.44 40.14,31.67 C41.24,32.90 43.60,33.17 44.65,34.43 C45.70,35.69 45.52,38.90 46.44,39.24 C47.35,39.57 49.87,37.67 50.14,36.44 Z" fill="#f4f4f4"/><path d="M39.22,24.12 C38.86,23.69 37.68,24.74 36.92,24.80 C36.16,24.86 35.42,24.63 34.67,24.48 C33.92,24.33 32.95,23.82 32.42,23.88 C31.89,23.93 31.49,24.49 31.47,24.82 C31.46,25.14 31.83,25.48 32.35,25.82 C32.86,26.17 33.83,26.56 34.58,26.86 C35.32,27.16 36.06,27.52 36.82,27.61 C37.57,27.69 38.70,27.95 39.10,27.37 C39.50,26.78 39.58,24.55 39.22,24.12 Z" fill="#f4f4f4"/>
<path d="M53.21,35.02 C53.50,33.97 50.87,32.82 50.32,31.37 C49.77,29.92 50.49,27.76 49.90,26.33 C49.32,24.90 47.99,23.89 46.80,22.81 C45.60,21.72 43.88,20.94 42.74,19.82 C41.60,18.70 40.78,16.81 39.97,16.11 C39.15,15.40 38.31,15.33 37.85,15.59 C37.39,15.86 36.91,16.67 37.20,17.67 C37.49,18.67 38.58,20.41 39.60,21.59 C40.61,22.78 42.21,23.63 43.28,24.79 C44.35,25.94 45.56,27.02 46.02,28.52 C46.48,30.02 45.64,32.25 46.06,33.77 C46.49,35.29 47.40,37.42 48.59,37.62 C49.78,37.83 52.92,36.06 53.21,35.02 Z" fill="#f4f4f4"/><path d="M45.96,24.38 C45.82,23.77 44.16,24.29 43.39,23.98 C42.63,23.68 42.09,22.95 41.37,22.56 C40.65,22.17 39.69,21.71 39.07,21.64 C38.45,21.58 37.80,21.81 37.63,22.14 C37.45,22.47 37.61,23.14 38.02,23.61 C38.43,24.08 39.45,24.43 40.09,24.96 C40.73,25.50 41.19,26.37 41.88,26.83 C42.57,27.28 43.54,28.07 44.22,27.66 C44.90,27.26 46.10,25.00 45.96,24.38 Z" fill="#f4f4f4"/>
<path d="M56.52,34.07 C56.89,33.14 54.99,31.42 54.48,30.00 C53.98,28.58 53.76,27.06 53.48,25.56 C53.19,24.06 53.58,22.32 52.78,21.00 C51.99,19.69 49.43,19.00 48.71,17.66 C47.99,16.32 48.77,13.86 48.44,12.96 C48.12,12.05 47.17,12.07 46.74,12.23 C46.32,12.38 46.05,12.79 45.90,13.87 C45.74,14.95 45.21,17.32 45.82,18.70 C46.43,20.08 48.88,20.81 49.56,22.16 C50.24,23.52 49.74,25.30 49.91,26.84 C50.08,28.38 50.19,29.94 50.58,31.40 C50.97,32.86 51.29,35.15 52.28,35.59 C53.27,36.04 56.15,35.00 56.52,34.07 Z" fill="#f4f4f4"/><path d="M49.93,19.30 C49.78,18.61 48.65,18.27 47.87,18.11 C47.09,17.94 46.10,18.33 45.27,18.31 C44.43,18.30 43.46,17.97 42.86,18.01 C42.27,18.05 41.81,18.27 41.69,18.57 C41.58,18.86 41.71,19.46 42.17,19.77 C42.62,20.09 43.63,20.32 44.42,20.47 C45.20,20.61 46.14,20.36 46.87,20.65 C47.59,20.95 48.26,22.46 48.77,22.24 C49.28,22.01 50.08,19.99 49.93,19.30 Z" fill="#f4f4f4"/>
<path d="M59.35,33.49 C59.85,32.54 57.64,30.56 57.18,29.01 C56.71,27.45 56.56,25.81 56.58,24.14 C56.59,22.46 57.46,20.58 57.27,18.96 C57.07,17.34 56.17,15.88 55.39,14.40 C54.62,12.91 53.39,10.96 52.61,10.06 C51.83,9.15 51.22,8.85 50.70,8.97 C50.18,9.10 49.30,9.76 49.49,10.80 C49.69,11.85 51.22,13.73 51.86,15.25 C52.50,16.76 53.26,18.25 53.32,19.91 C53.38,21.56 52.37,23.48 52.21,25.18 C52.06,26.89 52.07,28.56 52.40,30.15 C52.72,31.74 53.00,34.18 54.16,34.74 C55.31,35.30 58.85,34.45 59.35,33.49 Z" fill="#f4f4f4"/><path d="M53.89,16.29 C53.78,15.66 51.97,15.96 51.16,15.58 C50.34,15.20 49.67,14.60 49.00,14.01 C48.33,13.41 47.68,12.30 47.11,12.03 C46.55,11.76 45.83,12.07 45.62,12.38 C45.41,12.69 45.56,13.24 45.87,13.89 C46.17,14.54 46.89,15.56 47.48,16.28 C48.06,17.01 48.63,17.75 49.36,18.27 C50.08,18.79 51.05,19.73 51.81,19.40 C52.57,19.07 54.00,16.93 53.89,16.29 Z" fill="#f4f4f4"/>
<path d="M62.76,33.46 C63.72,32.62 63.90,30.32 63.46,28.84 C63.02,27.35 60.62,26.01 60.13,24.53 C59.65,23.05 60.25,21.48 60.56,19.93 C60.87,18.38 61.91,16.78 62.00,15.25 C62.10,13.72 61.53,11.72 61.12,10.75 C60.70,9.79 60.00,9.42 59.49,9.46 C58.99,9.50 58.25,9.98 58.09,10.99 C57.94,12.00 58.80,13.98 58.58,15.52 C58.35,17.06 57.18,18.67 56.73,20.23 C56.29,21.79 55.55,23.37 55.90,24.86 C56.25,26.36 58.52,27.70 58.82,29.20 C59.13,30.70 57.07,33.14 57.73,33.85 C58.38,34.56 61.81,34.29 62.76,33.46 Z" fill="#f4f4f4"/>
<path d="M66.38,33.88 C67.13,33.23 66.40,31.00 66.13,29.54 C65.86,28.08 64.57,26.52 64.76,25.10 C64.96,23.68 66.61,22.39 67.30,21.01 C67.98,19.63 68.99,18.28 68.88,16.83 C68.78,15.39 67.24,13.31 66.65,12.32 C66.06,11.32 65.82,10.90 65.34,10.86 C64.87,10.81 63.75,11.11 63.80,12.06 C63.85,13.01 65.67,15.11 65.65,16.54 C65.63,17.98 64.50,19.32 63.68,20.69 C62.87,22.05 61.09,23.33 60.77,24.74 C60.45,26.15 61.61,27.70 61.75,29.15 C61.90,30.60 60.86,32.67 61.63,33.46 C62.40,34.24 65.63,34.53 66.38,33.88 Z" fill="#f4f4f4"/><path d="M66.51,19.44 C67.18,19.73 67.84,19.12 68.28,18.70 C68.72,18.29 68.97,17.67 69.15,16.97 C69.33,16.27 69.32,15.14 69.36,14.50 C69.41,13.86 69.62,13.38 69.39,13.13 C69.17,12.88 68.34,12.67 68.03,13.01 C67.71,13.34 67.79,14.56 67.51,15.14 C67.23,15.73 66.88,16.25 66.34,16.55 C65.81,16.85 64.25,16.47 64.28,16.95 C64.31,17.44 65.85,19.15 66.51,19.44 Z" fill="#f4f4f4"/>
<path d="M69.13,34.50 C70.01,33.88 68.69,31.24 68.83,29.68 C68.98,28.13 69.27,26.60 69.98,25.15 C70.70,23.71 72.67,22.51 73.12,21.01 C73.58,19.52 73.00,17.82 72.72,16.17 C72.44,14.53 71.90,12.32 71.46,11.17 C71.02,10.02 70.65,9.39 70.09,9.28 C69.53,9.17 68.30,9.48 68.11,10.51 C67.91,11.54 68.79,13.82 68.92,15.43 C69.05,17.04 69.48,18.71 68.88,20.18 C68.27,21.64 66.15,22.81 65.29,24.23 C64.43,25.65 63.99,27.15 63.70,28.67 C63.40,30.20 62.64,32.43 63.54,33.40 C64.45,34.37 68.25,35.12 69.13,34.50 Z" fill="#f4f4f4"/><path d="M70.17,20.96 C70.44,20.14 69.40,19.26 68.76,18.63 C68.11,18.00 67.01,17.75 66.28,17.19 C65.55,16.63 64.98,15.60 64.39,15.26 C63.80,14.93 63.06,14.92 62.76,15.17 C62.45,15.43 62.34,16.15 62.56,16.80 C62.77,17.45 63.45,18.39 64.04,19.06 C64.63,19.74 65.59,20.10 66.11,20.84 C66.62,21.58 66.44,23.49 67.11,23.51 C67.79,23.53 69.90,21.77 70.17,20.96 Z" fill="#f4f4f4"/>
<path d="M71.91,35.53 C72.77,35.04 71.95,32.39 72.20,30.91 C72.45,29.42 72.67,27.93 73.41,26.61 C74.15,25.30 75.84,24.32 76.63,23.02 C77.43,21.73 77.99,20.35 78.19,18.85 C78.39,17.34 78.04,15.12 77.82,14.00 C77.59,12.88 77.32,12.29 76.83,12.12 C76.35,11.95 75.22,12.05 74.90,12.97 C74.57,13.90 75.21,16.23 74.88,17.69 C74.55,19.15 73.86,20.48 72.93,21.72 C72.01,22.97 70.19,23.91 69.33,25.18 C68.46,26.45 68.10,27.90 67.72,29.34 C67.34,30.78 66.35,32.79 67.05,33.82 C67.75,34.85 71.06,36.01 71.91,35.53 Z" fill="#f4f4f4"/>
<path d="M74.74,36.98 C75.70,36.65 75.77,34.17 76.22,32.73 C76.67,31.29 76.86,29.70 77.44,28.33 C78.02,26.96 78.85,25.71 79.70,24.48 C80.56,23.25 81.55,22.10 82.57,20.95 C83.59,19.81 85.38,18.49 85.81,17.62 C86.24,16.75 85.58,15.96 85.15,15.74 C84.72,15.51 84.15,15.65 83.23,16.26 C82.31,16.88 80.78,18.33 79.65,19.42 C78.52,20.50 77.41,21.60 76.44,22.77 C75.47,23.93 74.53,25.12 73.83,26.43 C73.14,27.75 72.84,29.27 72.27,30.65 C71.71,32.03 70.03,33.67 70.44,34.73 C70.85,35.78 73.78,37.32 74.74,36.98 Z" fill="#f4f4f4"/><path d="M79.99,24.83 C80.53,25.04 81.02,23.56 81.63,23.08 C82.23,22.60 82.90,22.24 83.61,21.96 C84.32,21.68 85.47,21.73 85.91,21.41 C86.35,21.10 86.42,20.36 86.25,20.06 C86.09,19.76 85.57,19.67 84.93,19.63 C84.29,19.58 83.20,19.63 82.41,19.78 C81.62,19.92 80.89,20.16 80.21,20.50 C79.53,20.85 78.39,21.13 78.35,21.85 C78.31,22.58 79.44,24.63 79.99,24.83 Z" fill="#f4f4f4"/>
<path d="M77.61,38.99 C78.51,38.68 78.56,35.73 79.53,34.49 C80.51,33.24 82.18,32.51 83.47,31.50 C84.77,30.50 86.61,29.90 87.32,28.45 C88.03,27.00 87.36,24.51 87.74,22.81 C88.12,21.11 89.34,19.31 89.60,18.26 C89.86,17.20 89.64,16.74 89.29,16.48 C88.94,16.21 88.15,15.91 87.49,16.67 C86.84,17.42 85.82,19.38 85.35,21.00 C84.88,22.63 85.46,25.06 84.65,26.44 C83.85,27.82 81.92,28.34 80.53,29.28 C79.13,30.21 77.38,30.87 76.30,32.05 C75.23,33.22 73.88,35.18 74.10,36.34 C74.31,37.49 76.70,39.30 77.61,38.99 Z" fill="#f4f4f4"/><path d="M83.68,29.15 C84.15,29.71 85.30,29.80 86.01,29.47 C86.71,29.14 87.20,27.48 87.91,27.19 C88.62,26.90 89.76,27.82 90.27,27.73 C90.78,27.65 91.02,26.98 90.97,26.68 C90.92,26.38 90.54,26.20 89.97,25.91 C89.40,25.62 88.27,24.81 87.54,24.96 C86.80,25.12 86.30,26.64 85.57,26.84 C84.85,27.03 83.49,25.73 83.18,26.11 C82.86,26.50 83.21,28.59 83.68,29.15 Z" fill="#f4f4f4"/>
<path d="M79.61,40.61 C80.54,40.40 80.65,37.23 81.91,36.24 C83.16,35.25 86.06,35.81 87.16,34.66 C88.26,33.52 87.84,30.95 88.48,29.38 C89.12,27.80 89.70,26.17 91.00,25.23 C92.31,24.28 95.44,24.25 96.30,23.69 C97.17,23.12 96.51,22.15 96.18,21.84 C95.85,21.53 95.56,21.61 94.33,21.83 C93.09,22.04 90.16,22.25 88.77,23.12 C87.37,23.98 86.70,25.53 85.97,27.02 C85.25,28.51 85.58,31.00 84.39,32.06 C83.21,33.12 80.22,32.48 78.88,33.39 C77.53,34.30 76.19,36.30 76.31,37.51 C76.44,38.71 78.67,40.82 79.61,40.61 Z" fill="#f4f4f4"/>
<path d="M82.60,43.55 C83.77,43.67 85.63,41.80 86.87,40.55 C88.10,39.29 88.79,37.31 90.01,36.03 C91.23,34.76 92.66,33.78 94.19,32.92 C95.72,32.06 97.56,31.62 99.18,30.88 C100.80,30.15 103.10,29.23 103.93,28.52 C104.75,27.81 104.42,27.00 104.14,26.62 C103.86,26.25 103.40,26.00 102.26,26.28 C101.11,26.57 98.98,27.71 97.29,28.34 C95.59,28.98 93.68,29.32 92.07,30.08 C90.47,30.84 88.96,31.73 87.67,32.90 C86.38,34.07 85.61,35.96 84.31,37.11 C83.00,38.26 80.10,38.74 79.81,39.81 C79.53,40.88 81.42,43.42 82.60,43.55 Z" fill="#f4f4f4"/><path d="M99.08,29.86 C99.72,29.54 99.63,28.16 99.67,27.27 C99.72,26.37 99.24,25.37 99.36,24.49 C99.48,23.61 100.35,22.59 100.40,21.99 C100.44,21.39 99.94,20.96 99.62,20.90 C99.30,20.83 98.91,21.08 98.48,21.60 C98.05,22.12 97.28,23.17 97.02,24.02 C96.75,24.87 97.09,25.84 96.90,26.71 C96.72,27.58 95.52,28.69 95.89,29.22 C96.25,29.74 98.45,30.19 99.08,29.86 Z" fill="#f4f4f4"/>
<path d="M84.36,46.08 C85.42,46.18 86.53,42.99 87.92,41.96 C89.31,40.93 91.10,40.58 92.70,39.91 C94.30,39.25 95.92,38.61 97.54,37.97 C99.15,37.33 100.91,36.93 102.41,36.09 C103.90,35.25 105.75,33.81 106.52,32.92 C107.29,32.02 107.29,31.18 107.01,30.71 C106.74,30.23 105.93,29.71 104.85,30.06 C103.76,30.42 102.08,32.14 100.51,32.86 C98.94,33.57 97.11,33.85 95.42,34.36 C93.72,34.87 92.03,35.38 90.36,35.92 C88.68,36.46 86.82,36.69 85.36,37.59 C83.90,38.49 81.74,39.91 81.58,41.32 C81.41,42.74 83.31,45.97 84.36,46.08 Z" fill="#f4f4f4"/>
<path d="M86.11,49.69 C87.28,50.31 89.61,49.07 91.22,48.40 C92.84,47.73 94.33,46.75 95.78,45.64 C97.23,44.53 98.38,42.66 99.91,41.75 C101.43,40.85 103.17,40.51 104.93,40.21 C106.68,39.92 109.39,40.35 110.44,39.97 C111.50,39.60 111.46,38.44 111.27,37.94 C111.08,37.45 110.58,37.17 109.30,36.98 C108.03,36.79 105.44,36.65 103.64,36.82 C101.83,36.98 100.04,37.19 98.47,37.96 C96.89,38.73 95.69,40.48 94.19,41.45 C92.69,42.43 91.14,43.27 89.48,43.81 C87.82,44.35 84.77,43.72 84.21,44.70 C83.65,45.68 84.94,49.07 86.11,49.69 Z" fill="#f4f4f4"/><path d="M104.76,41.03 C105.53,40.82 105.72,39.47 105.85,38.57 C105.97,37.67 105.24,36.47 105.51,35.62 C105.79,34.77 107.28,34.06 107.49,33.48 C107.70,32.89 107.13,32.24 106.78,32.12 C106.42,32.00 106.01,32.31 105.37,32.74 C104.73,33.18 103.36,33.93 102.92,34.72 C102.49,35.52 103.07,36.66 102.79,37.51 C102.50,38.35 100.90,39.21 101.23,39.80 C101.56,40.39 103.99,41.23 104.76,41.03 Z" fill="#f4f4f4"/>
<path d="M86.79,51.69 C87.92,52.28 90.55,51.28 92.33,50.72 C94.11,50.15 95.79,49.24 97.47,48.31 C99.16,47.38 100.62,45.65 102.42,45.14 C104.21,44.64 106.36,45.44 108.26,45.29 C110.15,45.13 112.70,44.68 113.77,44.22 C114.84,43.76 114.79,42.98 114.66,42.53 C114.54,42.08 114.24,41.57 113.03,41.52 C111.83,41.47 109.35,42.18 107.42,42.22 C105.50,42.25 103.31,41.33 101.48,41.72 C99.66,42.10 98.16,43.71 96.45,44.52 C94.73,45.33 93.01,46.12 91.20,46.56 C89.39,47.01 86.30,46.32 85.56,47.18 C84.83,48.03 85.66,51.10 86.79,51.69 Z" fill="#f4f4f4"/><path d="M102.24,46.30 C103.10,46.20 104.21,44.98 104.62,43.96 C105.03,42.95 104.28,41.22 104.69,40.20 C105.10,39.18 106.74,38.47 107.08,37.86 C107.41,37.26 107.00,36.74 106.72,36.57 C106.44,36.40 106.08,36.44 105.40,36.84 C104.72,37.23 103.18,38.00 102.64,38.94 C102.11,39.88 102.74,41.54 102.20,42.48 C101.67,43.42 99.45,43.95 99.45,44.59 C99.46,45.23 101.38,46.41 102.24,46.30 Z" fill="#f4f4f4"/>
<path d="M87.42,54.77 C88.46,55.24 91.14,53.46 93.05,53.13 C94.96,52.79 96.90,52.69 98.86,52.75 C100.82,52.81 102.91,53.85 104.82,53.48 C106.72,53.12 108.45,51.46 110.28,50.58 C112.11,49.70 114.71,48.84 115.81,48.20 C116.91,47.55 116.93,47.14 116.87,46.70 C116.81,46.26 116.62,45.40 115.45,45.54 C114.28,45.69 111.72,46.81 109.87,47.58 C108.02,48.34 106.28,49.88 104.36,50.13 C102.44,50.37 100.33,49.21 98.35,49.04 C96.37,48.86 94.42,48.84 92.50,49.06 C90.57,49.28 87.66,49.40 86.81,50.36 C85.97,51.31 86.38,54.31 87.42,54.77 Z" fill="#f4f4f4"/><path d="M107.30,50.99 C107.46,51.87 108.81,53.16 109.95,53.66 C111.08,54.16 113.00,53.46 114.11,54.01 C115.22,54.55 115.97,56.48 116.59,56.92 C117.21,57.35 117.67,56.87 117.84,56.61 C118.01,56.35 118.03,56.10 117.62,55.35 C117.20,54.60 116.39,52.75 115.36,52.09 C114.33,51.43 112.48,52.01 111.43,51.40 C110.37,50.78 109.70,48.45 109.01,48.38 C108.32,48.31 107.14,50.11 107.30,50.99 Z" fill="#f4f4f4"/>
<path d="M87.66,58.66 C88.60,59.44 91.46,58.96 93.37,58.70 C95.28,58.43 97.20,57.29 99.11,57.06 C101.01,56.83 102.91,57.26 104.82,57.33 C106.72,57.39 108.63,57.15 110.53,57.46 C112.43,57.76 115.05,59.11 116.22,59.16 C117.39,59.22 117.53,58.25 117.53,57.79 C117.54,57.32 117.42,56.96 116.25,56.38 C115.09,55.80 112.47,54.74 110.57,54.31 C108.67,53.88 106.76,54.00 104.86,53.81 C102.96,53.62 101.06,53.07 99.16,53.17 C97.25,53.27 95.34,54.29 93.43,54.43 C91.52,54.58 88.68,53.32 87.72,54.03 C86.76,54.73 86.72,57.88 87.66,58.66 Z" fill="#f4f4f4"/><path d="M108.94,57.76 C109.69,57.93 110.65,57.19 111.11,56.51 C111.57,55.83 111.34,54.46 111.69,53.67 C112.04,52.89 112.97,52.32 113.21,51.78 C113.46,51.24 113.40,50.68 113.17,50.45 C112.94,50.22 112.37,50.15 111.84,50.40 C111.31,50.66 110.47,51.30 110.01,51.99 C109.56,52.68 109.69,53.94 109.13,54.52 C108.57,55.10 106.69,54.92 106.66,55.46 C106.62,56.00 108.20,57.58 108.94,57.76 Z" fill="#f4f4f4"/>
<path d="M36.17,58.78 C35.50,57.99 33.24,58.69 31.79,58.51 C30.34,58.34 28.92,57.72 27.45,57.75 C25.98,57.78 24.45,58.57 22.97,58.69 C21.49,58.81 20.03,58.73 18.58,58.46 C17.14,58.19 15.23,57.10 14.29,57.07 C13.35,57.04 12.98,57.86 12.94,58.31 C12.91,58.75 13.18,59.21 14.08,59.74 C14.98,60.26 16.91,61.09 18.35,61.48 C19.79,61.87 21.24,62.06 22.71,62.06 C24.18,62.06 25.70,61.39 27.16,61.48 C28.62,61.57 30.03,62.31 31.47,62.60 C32.92,62.89 35.04,63.86 35.83,63.22 C36.61,62.58 36.85,59.56 36.17,58.78 Z" fill="#f0f0f0"/>
<path d="M35.99,66.68 C35.23,65.88 32.93,66.31 31.40,66.51 C29.87,66.72 28.35,67.79 26.82,67.90 C25.29,68.01 23.75,67.38 22.22,67.18 C20.69,66.97 19.16,66.54 17.63,66.68 C16.10,66.83 14.02,67.57 13.04,68.03 C12.06,68.49 11.75,68.96 11.75,69.43 C11.75,69.89 12.07,70.75 13.05,70.82 C14.03,70.89 16.11,69.86 17.64,69.84 C19.17,69.82 20.70,70.38 22.23,70.71 C23.76,71.03 25.30,71.79 26.83,71.80 C28.36,71.81 29.88,70.87 31.41,70.79 C32.94,70.71 35.24,72.01 36.01,71.32 C36.77,70.64 36.76,67.48 35.99,66.68 Z" fill="#f0f0f0"/><path d="M17.45,67.77 C16.89,67.62 16.59,68.97 16.05,69.43 C15.52,69.90 14.75,70.07 14.24,70.57 C13.72,71.07 13.20,71.88 12.97,72.41 C12.75,72.94 12.66,73.48 12.86,73.74 C13.07,73.99 13.71,74.16 14.18,73.94 C14.66,73.73 15.11,72.82 15.71,72.44 C16.32,72.06 17.17,72.00 17.80,71.65 C18.42,71.29 19.52,70.97 19.47,70.32 C19.41,69.68 18.02,67.92 17.45,67.77 Z" fill="#f0f0f0"/>
<path d="M35.93,74.97 C35.12,74.45 32.80,75.70 31.22,75.91 C29.65,76.13 28.08,76.34 26.50,76.25 C24.92,76.16 23.32,75.52 21.73,75.36 C20.15,75.21 18.57,75.06 17.00,75.31 C15.43,75.56 13.28,76.40 12.32,76.87 C11.36,77.34 11.21,77.72 11.22,78.13 C11.24,78.54 11.43,79.32 12.41,79.31 C13.39,79.30 15.52,78.22 17.10,78.07 C18.67,77.93 20.26,78.19 21.85,78.46 C23.44,78.72 25.04,79.47 26.63,79.67 C28.21,79.87 29.79,79.76 31.36,79.66 C32.94,79.55 35.31,79.82 36.07,79.03 C36.84,78.25 36.73,75.49 35.93,74.97 Z" fill="#f0f0f0"/>
<path d="M35.92,82.87 C35.13,82.33 32.85,83.76 31.30,83.94 C29.75,84.12 28.20,84.04 26.64,83.95 C25.08,83.86 23.52,83.53 21.96,83.40 C20.40,83.27 18.84,83.12 17.29,83.18 C15.74,83.24 13.62,83.46 12.65,83.78 C11.69,84.10 11.49,84.67 11.50,85.10 C11.52,85.53 11.76,86.17 12.74,86.34 C13.73,86.50 15.84,86.03 17.40,86.08 C18.95,86.13 20.51,86.40 22.08,86.64 C23.64,86.88 25.21,87.33 26.77,87.53 C28.33,87.74 29.89,87.93 31.44,87.86 C32.99,87.80 35.33,87.97 36.08,87.13 C36.82,86.30 36.72,83.40 35.92,82.87 Z" fill="#f0f0f0"/><path d="M21.45,84.26 C21.33,83.57 20.08,83.11 19.28,82.74 C18.48,82.37 17.49,82.33 16.64,82.05 C15.79,81.77 14.78,81.16 14.18,81.05 C13.57,80.95 13.15,81.16 13.00,81.42 C12.85,81.67 12.86,82.19 13.28,82.61 C13.71,83.03 14.77,83.55 15.55,83.95 C16.34,84.34 17.26,84.50 17.99,84.99 C18.72,85.47 19.38,86.97 19.96,86.85 C20.53,86.73 21.56,84.94 21.45,84.26 Z" fill="#f0f0f0"/>
<path d="M36.07,90.79 C35.36,90.03 33.13,90.83 31.66,90.71 C30.19,90.59 28.74,90.01 27.26,90.06 C25.79,90.11 24.29,90.73 22.81,91.01 C21.33,91.29 19.84,91.73 18.37,91.73 C16.90,91.73 14.92,90.93 13.97,91.03 C13.03,91.13 12.70,91.87 12.69,92.32 C12.67,92.76 12.95,93.28 13.88,93.69 C14.81,94.09 16.80,94.63 18.27,94.74 C19.74,94.86 21.22,94.53 22.70,94.37 C24.18,94.21 25.67,93.71 27.14,93.78 C28.61,93.85 30.06,94.54 31.52,94.78 C32.99,95.02 35.17,95.88 35.93,95.21 C36.68,94.55 36.79,91.54 36.07,90.79 Z" fill="#f0f0f0"/>
<path d="M88.01,63.17 C88.80,63.80 91.18,62.77 92.76,62.63 C94.35,62.50 95.93,62.23 97.52,62.34 C99.10,62.45 100.69,63.13 102.28,63.28 C103.86,63.43 105.45,63.44 107.03,63.25 C108.61,63.06 110.79,62.54 111.78,62.14 C112.78,61.74 112.99,61.27 112.99,60.83 C112.99,60.40 112.77,59.63 111.77,59.54 C110.78,59.45 108.60,60.22 107.02,60.30 C105.43,60.37 103.85,60.25 102.26,59.98 C100.68,59.72 99.09,58.92 97.50,58.70 C95.92,58.47 94.33,58.62 92.75,58.64 C91.16,58.67 88.78,58.08 87.99,58.83 C87.20,59.59 87.21,62.53 88.01,63.17 Z" fill="#f0f0f0"/><path d="M106.03,61.94 C106.63,61.92 106.81,60.44 107.33,59.79 C107.84,59.15 108.59,58.72 109.12,58.09 C109.65,57.46 110.30,56.58 110.51,56.03 C110.73,55.48 110.62,54.99 110.39,54.79 C110.17,54.59 109.64,54.52 109.15,54.82 C108.66,55.13 108.09,56.08 107.45,56.61 C106.82,57.15 105.97,57.50 105.35,58.05 C104.74,58.60 103.64,59.28 103.76,59.93 C103.87,60.58 105.44,61.97 106.03,61.94 Z" fill="#f0f0f0"/>
<path d="M87.80,71.37 C88.45,72.16 90.66,71.43 92.10,71.39 C93.54,71.34 94.99,71.11 96.42,71.09 C97.86,71.07 99.29,71.08 100.71,71.26 C102.13,71.44 103.53,71.83 104.93,72.16 C106.34,72.48 108.20,73.25 109.14,73.21 C110.09,73.16 110.55,72.37 110.59,71.90 C110.63,71.43 110.28,70.86 109.39,70.37 C108.49,69.87 106.60,69.39 105.21,68.94 C103.81,68.49 102.42,67.97 101.01,67.67 C99.61,67.36 98.19,67.22 96.76,67.11 C95.34,67.01 93.89,67.11 92.47,67.03 C91.04,66.95 88.98,65.91 88.20,66.63 C87.42,67.36 87.15,70.57 87.80,71.37 Z" fill="#f0f0f0"/>
<path d="M88.15,79.15 C88.97,79.80 91.24,79.02 92.77,78.73 C94.30,78.44 95.81,77.75 97.33,77.42 C98.86,77.09 100.40,76.83 101.94,76.75 C103.49,76.66 105.05,76.84 106.61,76.92 C108.16,77.00 110.31,77.40 111.28,77.23 C112.24,77.05 112.42,76.28 112.39,75.85 C112.36,75.42 112.10,74.95 111.10,74.65 C110.10,74.34 107.96,74.19 106.40,74.00 C104.84,73.80 103.26,73.51 101.71,73.48 C100.16,73.44 98.62,73.59 97.08,73.81 C95.55,74.02 94.03,74.60 92.50,74.77 C90.96,74.94 88.57,74.12 87.85,74.85 C87.12,75.58 87.33,78.50 88.15,79.15 Z" fill="#f0f0f0"/><path d="M107.62,76.64 C108.25,76.55 108.48,74.95 109.04,74.21 C109.60,73.46 110.39,72.90 110.96,72.16 C111.53,71.42 112.23,70.38 112.45,69.78 C112.67,69.18 112.50,68.74 112.26,68.55 C112.03,68.37 111.54,68.28 111.03,68.66 C110.52,69.03 109.90,70.14 109.22,70.79 C108.55,71.45 107.65,71.92 106.99,72.59 C106.32,73.25 105.14,74.10 105.25,74.77 C105.35,75.45 106.98,76.74 107.62,76.64 Z" fill="#f0f0f0"/>
<path d="M88.17,87.24 C89.00,87.92 91.26,87.01 92.80,86.86 C94.34,86.70 95.88,86.59 97.41,86.30 C98.93,86.00 100.44,85.44 101.97,85.11 C103.49,84.77 105.01,84.38 106.56,84.30 C108.10,84.22 110.27,84.80 111.24,84.61 C112.21,84.43 112.42,83.62 112.38,83.18 C112.35,82.73 112.04,82.25 111.03,81.93 C110.02,81.61 107.88,81.30 106.32,81.26 C104.77,81.22 103.24,81.49 101.71,81.71 C100.17,81.92 98.65,82.37 97.12,82.54 C95.58,82.71 94.03,82.71 92.48,82.74 C90.93,82.78 88.55,82.02 87.83,82.76 C87.11,83.51 87.34,86.55 88.17,87.24 Z" fill="#f0f0f0"/><path d="M105.57,84.85 C106.15,84.88 106.29,83.32 106.85,82.77 C107.42,82.22 108.46,82.16 108.96,81.54 C109.46,80.93 109.73,79.72 109.88,79.10 C110.03,78.48 110.07,78.04 109.85,77.81 C109.63,77.59 108.98,77.41 108.56,77.75 C108.15,78.10 107.95,79.39 107.35,79.90 C106.75,80.41 105.61,80.38 104.95,80.83 C104.29,81.28 103.28,81.94 103.38,82.61 C103.48,83.28 105.00,84.82 105.57,84.85 Z" fill="#f0f0f0"/>
<path d="M87.92,94.97 C88.59,95.70 90.70,95.47 92.11,95.46 C93.51,95.45 94.93,95.08 96.35,94.92 C97.76,94.75 99.18,94.41 100.58,94.46 C101.98,94.51 103.37,94.97 104.76,95.21 C106.16,95.44 108.06,95.96 108.95,95.88 C109.84,95.80 110.08,95.14 110.10,94.75 C110.12,94.35 109.92,93.89 109.05,93.52 C108.18,93.15 106.27,92.88 104.88,92.54 C103.49,92.19 102.11,91.63 100.71,91.47 C99.31,91.32 97.90,91.55 96.49,91.61 C95.08,91.68 93.67,91.94 92.26,91.85 C90.86,91.75 88.81,90.52 88.08,91.03 C87.36,91.55 87.24,94.23 87.92,94.97 Z" fill="#f0f0f0"/>
<path d="M8.59,53.71 C8.96,53.70 10.08,53.52 10.82,53.61 C11.56,53.71 12.28,54.24 13.02,54.27 C13.76,54.31 14.89,53.90 15.26,53.83" stroke="#767676" stroke-width="0.9" fill="none" stroke-linecap="round"/>
<path d="M10.09,46.23 C10.69,46.25 12.50,46.25 13.68,46.39 C14.85,46.53 16.01,46.78 17.16,47.05 C18.32,47.32 20.02,47.87 20.59,48.04" stroke="#767676" stroke-width="0.9" fill="none" stroke-linecap="round"/>
<path d="M12.54,39.75 C12.99,39.87 14.33,40.23 15.22,40.47 C16.12,40.70 17.04,40.86 17.91,41.16 C18.79,41.47 20.04,42.10 20.46,42.29" stroke="#767676" stroke-width="0.9" fill="none" stroke-linecap="round"/>
<path d="M16.05,33.43 C16.53,33.77 17.92,34.91 18.95,35.44 C19.98,35.98 21.14,36.26 22.25,36.65 C23.35,37.04 25.02,37.60 25.58,37.79" stroke="#767676" stroke-width="0.9" fill="none" stroke-linecap="round"/>
<path d="M20.09,27.75 C20.54,27.97 21.92,28.59 22.79,29.07 C23.66,29.55 24.56,29.98 25.31,30.64 C26.06,31.30 26.96,32.63 27.29,33.03" stroke="#767676" stroke-width="0.9" fill="none" stroke-linecap="round"/>
<path d="M24.80,22.73 C25.15,22.95 26.33,23.47 26.89,24.06 C27.46,24.65 27.58,25.74 28.19,26.28 C28.80,26.82 30.17,27.12 30.57,27.28" stroke="#767676" stroke-width="0.9" fill="none" stroke-linecap="round"/>
<path d="M30.09,18.62 C30.40,18.88 31.51,19.51 31.96,20.17 C32.42,20.82 32.40,21.89 32.84,22.56 C33.28,23.24 34.30,23.95 34.59,24.22" stroke="#767676" stroke-width="0.9" fill="none" stroke-linecap="round"/>
<path d="M35.32,15.30 C35.60,15.57 36.66,16.25 37.01,16.94 C37.37,17.63 37.03,18.77 37.44,19.41 C37.85,20.06 39.14,20.59 39.48,20.83" stroke="#767676" stroke-width="0.9" fill="none" stroke-linecap="round"/>
<path d="M41.90,12.08 C42.09,12.58 42.59,14.11 43.02,15.08 C43.45,16.05 43.98,16.98 44.46,17.93 C44.94,18.88 45.67,20.30 45.91,20.78" stroke="#767676" stroke-width="0.9" fill="none" stroke-linecap="round"/>
<path d="M48.20,9.75 C48.37,10.17 48.99,11.39 49.22,12.26 C49.45,13.12 49.29,14.11 49.57,14.96 C49.85,15.81 50.68,16.97 50.91,17.37" stroke="#767676" stroke-width="0.9" fill="none" stroke-linecap="round"/>
<path d="M54.48,8.46 C54.60,8.92 55.03,10.26 55.20,11.18 C55.37,12.09 55.49,13.02 55.51,13.96 C55.53,14.90 55.36,16.34 55.33,16.82" stroke="#767676" stroke-width="0.9" fill="none" stroke-linecap="round"/>
<path d="M62.27,7.98 C62.24,8.47 62.11,9.94 62.08,10.93 C62.04,11.91 61.94,12.89 62.06,13.87 C62.18,14.85 62.69,16.33 62.82,16.82" stroke="#767676" stroke-width="0.9" fill="none" stroke-linecap="round"/>
<path d="M68.80,8.38 C68.65,8.91 68.10,10.50 67.89,11.59 C67.69,12.67 67.66,13.78 67.58,14.88 C67.49,15.98 67.41,17.64 67.37,18.19" stroke="#767676" stroke-width="0.9" fill="none" stroke-linecap="round"/>
<path d="M74.69,9.39 C74.45,9.91 73.53,11.43 73.28,12.54 C73.02,13.65 73.30,14.90 73.16,16.04 C73.01,17.18 72.52,18.81 72.39,19.36" stroke="#767676" stroke-width="0.9" fill="none" stroke-linecap="round"/>
<path d="M81.45,11.34 C81.37,11.77 81.25,13.11 80.96,13.92 C80.66,14.72 80.05,15.38 79.69,16.16 C79.34,16.94 78.98,18.18 78.84,18.58" stroke="#767676" stroke-width="0.9" fill="none" stroke-linecap="round"/>
<path d="M88.32,14.53 C88.16,14.82 87.62,15.67 87.34,16.29 C87.07,16.91 87.04,17.69 86.66,18.24 C86.29,18.80 85.36,19.41 85.10,19.64" stroke="#767676" stroke-width="0.9" fill="none" stroke-linecap="round"/>
<path d="M94.11,17.97 C93.71,18.38 92.38,19.49 91.71,20.42 C91.04,21.35 90.85,22.67 90.11,23.54 C89.37,24.41 87.76,25.28 87.29,25.63" stroke="#767676" stroke-width="0.9" fill="none" stroke-linecap="round"/>
<path d="M100.10,22.04 C99.77,22.26 98.72,22.82 98.12,23.31 C97.53,23.80 97.06,24.45 96.52,25.00 C95.98,25.55 95.15,26.36 94.87,26.63" stroke="#767676" stroke-width="0.9" fill="none" stroke-linecap="round"/>
<path d="M105.64,27.06 C105.21,27.23 103.77,27.53 103.05,28.09 C102.32,28.64 102.03,29.85 101.29,30.36 C100.54,30.88 99.01,31.05 98.56,31.18" stroke="#767676" stroke-width="0.9" fill="none" stroke-linecap="round"/>
<path d="M110.12,32.94 C109.81,33.18 108.90,34.00 108.22,34.39 C107.54,34.78 106.75,34.92 106.05,35.27 C105.35,35.62 104.36,36.27 104.03,36.47" stroke="#767676" stroke-width="0.9" fill="none" stroke-linecap="round"/>
<path d="M113.63,39.22 C113.11,39.45 111.60,40.29 110.53,40.62 C109.45,40.96 108.24,40.90 107.16,41.23 C106.09,41.56 104.57,42.38 104.06,42.61" stroke="#767676" stroke-width="0.9" fill="none" stroke-linecap="round"/>
<path d="M115.94,45.03 C115.51,45.06 114.18,45.05 113.33,45.21 C112.48,45.38 111.67,45.74 110.84,46.01 C110.01,46.28 108.78,46.72 108.36,46.86" stroke="#767676" stroke-width="0.9" fill="none" stroke-linecap="round"/>
<path d="M117.66,52.58 C117.12,52.69 115.52,53.05 114.45,53.21 C113.38,53.37 112.31,53.57 111.22,53.53 C110.14,53.49 108.49,53.04 107.94,52.95" stroke="#767676" stroke-width="0.9" fill="none" stroke-linecap="round"/>
<path d="M21.11,65.00 C20.39,64.95 18.20,64.72 16.74,64.68 C15.29,64.64 13.83,64.80 12.37,64.76 C10.91,64.73 8.73,64.53 8.00,64.48" stroke="#767676" stroke-width="0.9" fill="none" stroke-linecap="round"/>
<path d="M21.56,73.00 C20.80,72.99 18.54,72.85 17.04,72.92 C15.53,72.98 14.03,73.39 12.52,73.39 C11.01,73.38 8.75,72.99 8.00,72.90" stroke="#767676" stroke-width="0.9" fill="none" stroke-linecap="round"/>
<path d="M18.56,81.00 C17.98,80.96 16.21,80.72 15.04,80.75 C13.87,80.78 12.69,81.05 11.52,81.18 C10.35,81.31 8.59,81.46 8.00,81.51" stroke="#767676" stroke-width="0.9" fill="none" stroke-linecap="round"/>
<path d="M17.16,89.00 C16.65,89.07 15.12,89.48 14.11,89.43 C13.09,89.38 12.07,88.83 11.05,88.72 C10.04,88.61 8.51,88.77 8.00,88.77" stroke="#767676" stroke-width="0.9" fill="none" stroke-linecap="round"/>
<path d="M104.80,65.00 C105.42,64.96 107.29,64.74 108.53,64.78 C109.78,64.83 111.02,65.25 112.27,65.27 C113.51,65.30 115.38,64.99 116.00,64.94" stroke="#767676" stroke-width="0.9" fill="none" stroke-linecap="round"/>
<path d="M105.03,73.00 C105.64,72.94 107.47,72.54 108.69,72.64 C109.91,72.74 111.13,73.55 112.34,73.60 C113.56,73.65 115.39,73.04 116.00,72.93" stroke="#767676" stroke-width="0.9" fill="none" stroke-linecap="round"/>
<path d="M105.17,81.00 C105.77,80.94 107.58,80.66 108.78,80.65 C109.98,80.64 111.19,80.88 112.39,80.94 C113.59,80.99 115.40,80.96 116.00,80.96" stroke="#767676" stroke-width="0.9" fill="none" stroke-linecap="round"/>
<path d="M105.45,89.00 C106.04,89.05 107.79,89.33 108.97,89.29 C110.14,89.26 111.31,88.83 112.48,88.80 C113.66,88.78 115.41,89.09 116.00,89.15" stroke="#767676" stroke-width="0.9" fill="none" stroke-linecap="round"/>
</g>
<rect x="-5" y="-5" width="140" height="112" fill="#000" filter="url(#cB2t)"/>
<ellipse cx="62" cy="56" rx="24" ry="12" fill="#f6f6f6" opacity="0.8"/>
<path d="M62,8 L62,38" stroke="#999" stroke-width="2.2"/>
<path d="M62,8 L62,36" stroke="#707070" stroke-width="0.8"/>
<path d="M50,44 Q53,33 62,37 Q71,33 74,44" stroke="#9c9c9c" stroke-width="4" fill="none"/>
<path d="M50,48.5 Q62,41 74,48.5" stroke="#f4f4f4" stroke-width="2.6" fill="none"/>
<path d="M55,51 Q62,48 69,51" stroke="#9a9a9a" stroke-width="1.3" fill="none"/>
<path d="M47.3,54.3 L56.2,55.6 L55.6,62.8 Q51,58 47.3,54.3 Z" fill="#4e4e4e"/>
<path d="M77.5,54.3 L67.7,56.5 L70.9,62.8 Q74,58 77.5,54.3 Z" fill="#4e4e4e"/>
<path d="M53,70 Q62,64 71,70 L69,75 Q62,71 55,75 Z" fill="#7a7a7a"/>
<path d="M56,77 Q62,74 68,77 L69,101 L55,101 Z" fill="#8a8a8a"/>
<path d="M62,87 L56,101 L68,101 Z" fill="#3c3c3c"/>
<linearGradient id="cB2bg" x1="0" y1="0" x2="0" y2="1"><stop offset="0" stop-color="#202020" stop-opacity="0"/><stop offset="1" stop-color="#202020" stop-opacity="0.8"/></linearGradient>
<rect x="0" y="87" width="54" height="14" fill="url(#cB2bg)"/>
<rect x="70" y="87" width="57" height="14" fill="url(#cB2bg)"/>
</g></g>
<g clip-path="url(#cB2c)"><path d="M0.00,101.00 C0.00,97.50 0.00,86.00 0.00,80.00 C0.00,74.00 -0.08,69.32 0.00,65.00 C0.08,60.68 0.03,57.82 0.50,54.10 C0.97,50.38 1.75,46.12 2.80,42.70 C3.85,39.28 5.18,36.63 6.80,33.60 C8.42,30.57 10.23,27.43 12.50,24.50 C14.77,21.57 17.18,18.73 20.40,16.00 C23.62,13.27 28.00,10.27 31.80,8.10 C35.60,5.93 39.80,4.23 43.20,3.00 C46.60,1.77 48.78,1.20 52.20,0.70 C55.62,0.20 59.88,-0.10 63.70,0.00 C67.52,0.10 71.32,0.52 75.10,1.30 C78.88,2.08 82.62,3.10 86.40,4.70 C90.18,6.30 94.00,8.45 97.80,10.90 C101.60,13.35 105.98,16.37 109.20,19.40 C112.42,22.43 114.83,25.58 117.10,29.10 C119.37,32.62 121.38,36.72 122.80,40.50 C124.22,44.28 124.93,47.72 125.60,51.80 C126.27,55.88 126.52,60.30 126.80,65.00 C127.08,69.70 127.18,74.00 127.30,80.00 C127.42,86.00 127.47,97.50 127.50,101.00" fill="none" stroke="#1e1e1e" stroke-width="13.26"/>
<path d="M0.00,101.00 C0.00,97.50 0.00,86.00 0.00,80.00 C0.00,74.00 -0.08,69.32 0.00,65.00 C0.08,60.68 0.03,57.82 0.50,54.10 C0.97,50.38 1.75,46.12 2.80,42.70 C3.85,39.28 5.18,36.63 6.80,33.60 C8.42,30.57 10.23,27.43 12.50,24.50 C14.77,21.57 17.18,18.73 20.40,16.00 C23.62,13.27 28.00,10.27 31.80,8.10 C35.60,5.93 39.80,4.23 43.20,3.00 C46.60,1.77 48.78,1.20 52.20,0.70 C55.62,0.20 59.88,-0.10 63.70,0.00 C67.52,0.10 71.32,0.52 75.10,1.30 C78.88,2.08 82.62,3.10 86.40,4.70 C90.18,6.30 94.00,8.45 97.80,10.90 C101.60,13.35 105.98,16.37 109.20,19.40 C112.42,22.43 114.83,25.58 117.10,29.10 C119.37,32.62 121.38,36.72 122.80,40.50 C124.22,44.28 124.93,47.72 125.60,51.80 C126.27,55.88 126.52,60.30 126.80,65.00 C127.08,69.70 127.18,74.00 127.30,80.00 C127.42,86.00 127.47,97.50 127.50,101.00" fill="none" stroke="#959595" stroke-width="9.52"/>
<path d="M0.00,101.00 C0.00,97.50 0.00,86.00 0.00,80.00 C0.00,74.00 -0.08,69.32 0.00,65.00 C0.08,60.68 0.03,57.82 0.50,54.10 C0.97,50.38 1.75,46.12 2.80,42.70 C3.85,39.28 5.18,36.63 6.80,33.60 C8.42,30.57 10.23,27.43 12.50,24.50 C14.77,21.57 17.18,18.73 20.40,16.00 C23.62,13.27 28.00,10.27 31.80,8.10 C35.60,5.93 39.80,4.23 43.20,3.00 C46.60,1.77 48.78,1.20 52.20,0.70 C55.62,0.20 59.88,-0.10 63.70,0.00 C67.52,0.10 71.32,0.52 75.10,1.30 C78.88,2.08 82.62,3.10 86.40,4.70 C90.18,6.30 94.00,8.45 97.80,10.90 C101.60,13.35 105.98,16.37 109.20,19.40 C112.42,22.43 114.83,25.58 117.10,29.10 C119.37,32.62 121.38,36.72 122.80,40.50 C124.22,44.28 124.93,47.72 125.60,51.80 C126.27,55.88 126.52,60.30 126.80,65.00 C127.08,69.70 127.18,74.00 127.30,80.00 C127.42,86.00 127.47,97.50 127.50,101.00" fill="none" stroke="#505050" stroke-width="5.44"/>
<path d="M0.00,101.00 C0.00,97.50 0.00,86.00 0.00,80.00 C0.00,74.00 -0.08,69.32 0.00,65.00 C0.08,60.68 0.03,57.82 0.50,54.10 C0.97,50.38 1.75,46.12 2.80,42.70 C3.85,39.28 5.18,36.63 6.80,33.60 C8.42,30.57 10.23,27.43 12.50,24.50 C14.77,21.57 17.18,18.73 20.40,16.00 C23.62,13.27 28.00,10.27 31.80,8.10 C35.60,5.93 39.80,4.23 43.20,3.00 C46.60,1.77 48.78,1.20 52.20,0.70 C55.62,0.20 59.88,-0.10 63.70,0.00 C67.52,0.10 71.32,0.52 75.10,1.30 C78.88,2.08 82.62,3.10 86.40,4.70 C90.18,6.30 94.00,8.45 97.80,10.90 C101.60,13.35 105.98,16.37 109.20,19.40 C112.42,22.43 114.83,25.58 117.10,29.10 C119.37,32.62 121.38,36.72 122.80,40.50 C124.22,44.28 124.93,47.72 125.60,51.80 C126.27,55.88 126.52,60.30 126.80,65.00 C127.08,69.70 127.18,74.00 127.30,80.00 C127.42,86.00 127.47,97.50 127.50,101.00" fill="none" stroke="#acacac" stroke-width="3.74"/>
<path d="M0.00,101.00 C0.00,97.50 0.00,86.00 0.00,80.00 C0.00,74.00 -0.08,69.32 0.00,65.00 C0.08,60.68 0.03,57.82 0.50,54.10 C0.97,50.38 1.75,46.12 2.80,42.70 C3.85,39.28 5.18,36.63 6.80,33.60 C8.42,30.57 10.23,27.43 12.50,24.50 C14.77,21.57 17.18,18.73 20.40,16.00 C23.62,13.27 28.00,10.27 31.80,8.10 C35.60,5.93 39.80,4.23 43.20,3.00 C46.60,1.77 48.78,1.20 52.20,0.70 C55.62,0.20 59.88,-0.10 63.70,0.00 C67.52,0.10 71.32,0.52 75.10,1.30 C78.88,2.08 82.62,3.10 86.40,4.70 C90.18,6.30 94.00,8.45 97.80,10.90 C101.60,13.35 105.98,16.37 109.20,19.40 C112.42,22.43 114.83,25.58 117.10,29.10 C119.37,32.62 121.38,36.72 122.80,40.50 C124.22,44.28 124.93,47.72 125.60,51.80 C126.27,55.88 126.52,60.30 126.80,65.00 C127.08,69.70 127.18,74.00 127.30,80.00 C127.42,86.00 127.47,97.50 127.50,101.00" fill="none" stroke="#4a4a4a" stroke-width="1.275"/></g>
<path d="M126.5,85 C129.5,85 130.5,88 130,91 C129.6,94 128.5,97 126.8,98 Z" fill="#8a8a8a" stroke="#333" stroke-width="0.8"/></g>
<g transform="rotate(-40 343.0 86.9)"><rect x="326.25" y="82.80000000000001" width="33.5" height="8.2" rx="1.4" fill="#c38c2f"/><rect x="326.25" y="82.80000000000001" width="33.5" height="3.4439999999999995" rx="1.2" fill="#cc9a44"/><rect x="326.25" y="89.6" width="33.5" height="1.4" fill="#a77325"/><rect x="342.0" y="82.80000000000001" width="5.5" height="6.799999999999999" fill="#d8b06a" opacity="0.75"/></g>
<g transform="rotate(35 652.3 84.3)"><rect x="635.55" y="80.2" width="33.5" height="8.2" rx="1.4" fill="#c38c2f"/><rect x="635.55" y="80.2" width="33.5" height="3.4439999999999995" rx="1.2" fill="#cc9a44"/><rect x="635.55" y="86.99999999999999" width="33.5" height="1.4" fill="#a77325"/><rect x="646.3" y="80.2" width="5.5" height="6.799999999999999" fill="#d8b06a" opacity="0.75"/></g>
<ellipse cx="365" cy="109" rx="10" ry="2.7" transform="rotate(49 365 109)" fill="url(#gHot)"/>
<ellipse cx="635" cy="108.5" rx="10.5" ry="3" transform="rotate(-55 635 108.5)" fill="url(#gHot)"/>
<circle cx="350" cy="87" r="0.9" fill="#c8d83a"/>
<circle cx="348" cy="89" r="0.9" fill="#2a9a80"/>
<circle cx="343" cy="93" r="0.9" fill="#6ab84a"/>
<circle cx="354" cy="83" r="0.9" fill="#c8d83a"/>
<circle cx="341" cy="96" r="0.9" fill="#2a8a8a"/>
<circle cx="339" cy="97.5" r="0.9" fill="#9ac83a"/>
<circle cx="361" cy="82" r="0.9" fill="#3aa07a"/>
<circle cx="642" cy="83" r="0.9" fill="#c8d83a"/>
<circle cx="644" cy="85" r="0.9" fill="#3aa07a"/>
<circle cx="652" cy="93" r="0.9" fill="#2a9a80"/>
<circle cx="657" cy="96" r="0.9" fill="#c8d83a"/>
<circle cx="660" cy="98" r="0.9" fill="#3a6a9a"/>
<circle cx="648" cy="91" r="0.9" fill="#9ac83a"/>
<circle cx="480.9" cy="141.1" r="2" fill="#1f6a8a"/><circle cx="480.9" cy="141.1" r="1.2" fill="#3cb060"/>
<circle cx="516.8" cy="140.7" r="2" fill="#1f6a8a"/><circle cx="516.8" cy="140.7" r="1.2" fill="#3cb060"/>
<text x="362.2" y="62.9" font-size="14" font-weight="bold" fill="#9babbe" stroke="#9babbe" stroke-width="0.7" textLength="49.4" lengthAdjust="spacingAndGlyphs">left M1</text>
<text x="583.4" y="62.7" font-size="14" font-weight="bold" fill="#b9a2a4" stroke="#b9a2a4" stroke-width="0.7" textLength="60" lengthAdjust="spacingAndGlyphs">right M1</text>
<rect x="432.9" y="193.3" width="246.8" height="10.2" fill="url(#gVir)"/>
<text x="433.9" y="214.1" font-size="11.6" fill="#666" textLength="24" lengthAdjust="spacingAndGlyphs">2.50</text>
<text x="655" y="214.1" font-size="11.6" fill="#666" textLength="23" lengthAdjust="spacingAndGlyphs">5.00</text>
<text x="517.2" y="224" font-size="13.4" font-weight="bold" fill="#111" stroke="#111" stroke-width="0.3">I</text>
<text x="521" y="228.2" font-size="9.2" font-weight="bold" fill="#111" textLength="18.2" lengthAdjust="spacingAndGlyphs">sppa</text>
<text x="542.2" y="224" font-size="13.4" font-weight="bold" fill="#111" stroke="#111" stroke-width="0.3" textLength="52.8" lengthAdjust="spacingAndGlyphs">(W/cm²)</text>
<text x="4.4" y="264" font-size="15.5" font-weight="bold" fill="#111" stroke="#111" stroke-width="0.5" textLength="365.3" lengthAdjust="spacingAndGlyphs">M1 TUS does not influence saccade direction</text>
<rect x="0" y="273.6" width="18.6" height="18.6" fill="#e6e6e6"/>
<text x="2.6" y="290" font-size="16" font-weight="bold" fill="#111" stroke="#111" stroke-width="0.4" textLength="11.1" lengthAdjust="spacingAndGlyphs">C</text>
<rect x="327" y="273.6" width="18.9" height="18.6" fill="#e6e6e6"/>
<text x="330.8" y="289.6" font-size="16" font-weight="bold" fill="#111" stroke="#111" stroke-width="0.4" textLength="11.9" lengthAdjust="spacingAndGlyphs">D</text>
<line x1="199.2" y1="304" x2="199.2" y2="583" stroke="#2e2e2e" stroke-width="1.1" stroke-dasharray="2.2,2.2"/>
<path d="M142.3,369.3 C150,367 158,361 166,357.5 C173,354.5 178,355 182,350 C188,343 192,332 199,331.8 C206,332 210,343 216,350 C221,355 228,356 236,358.5 C243,360.5 249,361.5 252.2,363 L252.2,369.3 Z" fill="#dcdcdd"/>
<path d="M101.9,449.2 L101.9,448.6 C120,448.5 130,448 140,446 C152,443 160,437 174,433.5 C185,430.8 192,430 199,429.9 C212,430 222,430.5 230,432 C238,433.5 242,435.5 245.1,437.8 L245.1,449.2 Z" fill="#97a8bc"/>
<path d="M101.9,449.2 L140,449.2" stroke="#97a8bc" stroke-width="1.2"/>
<path d="M85.8,530.2 L85.8,530.8 C100,531 110,531 118,532 C128,534 138,539 152,542.5 C168,546 185,547 198,548.8 C210,550 220,547 228,545 C236,543 244,538 249.5,532 L249.5,530.2 Z" fill="#b59a9e"/>
<line x1="101.5" y1="449.4" x2="143.1" y2="530.4" stroke="#b8b8b8" stroke-width="0.55"/>
<line x1="182.5" y1="449.4" x2="85.8" y2="530.4" stroke="#b8b8b8" stroke-width="0.55"/>
<line x1="149.6" y1="449.4" x2="149.6" y2="530.4" stroke="#b8b8b8" stroke-width="0.55"/>
<line x1="237.6" y1="449.4" x2="237.6" y2="530.4" stroke="#b8b8b8" stroke-width="0.55"/>
<line x1="143.1" y1="449.4" x2="170.6" y2="530.4" stroke="#b8b8b8" stroke-width="0.55"/>
<line x1="148.8" y1="449.4" x2="207.4" y2="530.4" stroke="#b8b8b8" stroke-width="0.55"/>
<line x1="157.5" y1="449.4" x2="193.5" y2="530.4" stroke="#b8b8b8" stroke-width="0.55"/>
<line x1="157.5" y1="449.4" x2="133.9" y2="530.4" stroke="#b8b8b8" stroke-width="0.55"/>
<line x1="163.6" y1="449.4" x2="214" y2="530.4" stroke="#b8b8b8" stroke-width="0.55"/>
<line x1="171.4" y1="449.4" x2="145.7" y2="530.4" stroke="#b8b8b8" stroke-width="0.55"/>
<line x1="171.4" y1="449.4" x2="231.1" y2="530.4" stroke="#b8b8b8" stroke-width="0.55"/>
<line x1="178.5" y1="449.4" x2="158.8" y2="530.4" stroke="#b8b8b8" stroke-width="0.55"/>
<line x1="189" y1="449.4" x2="217.9" y2="530.4" stroke="#b8b8b8" stroke-width="0.55"/>
<line x1="189" y1="449.4" x2="179.3" y2="530.4" stroke="#b8b8b8" stroke-width="0.55"/>
<line x1="196.9" y1="449.4" x2="249.5" y2="530.4" stroke="#b8b8b8" stroke-width="0.55"/>
<line x1="196.9" y1="449.4" x2="190.4" y2="530.4" stroke="#b8b8b8" stroke-width="0.55"/>
<line x1="203.5" y1="449.4" x2="145.7" y2="530.4" stroke="#b8b8b8" stroke-width="0.55"/>
<line x1="203.5" y1="449.4" x2="227.1" y2="530.4" stroke="#b8b8b8" stroke-width="0.55"/>
<line x1="208.7" y1="449.4" x2="170.6" y2="530.4" stroke="#b8b8b8" stroke-width="0.55"/>
<line x1="214" y1="449.4" x2="198.2" y2="530.4" stroke="#b8b8b8" stroke-width="0.55"/>
<line x1="214" y1="449.4" x2="133.9" y2="530.4" stroke="#b8b8b8" stroke-width="0.55"/>
<line x1="220.6" y1="449.4" x2="179.3" y2="530.4" stroke="#b8b8b8" stroke-width="0.55"/>
<line x1="220.6" y1="449.4" x2="237.6" y2="530.4" stroke="#b8b8b8" stroke-width="0.55"/>
<line x1="228.4" y1="449.4" x2="158.8" y2="530.4" stroke="#b8b8b8" stroke-width="0.55"/>
<line x1="228.4" y1="449.4" x2="193.5" y2="530.4" stroke="#b8b8b8" stroke-width="0.55"/>
<line x1="236.9" y1="449.4" x2="207.4" y2="530.4" stroke="#b8b8b8" stroke-width="0.55"/>
<line x1="244.2" y1="449.4" x2="214" y2="530.4" stroke="#b8b8b8" stroke-width="0.55"/>
<line x1="244.2" y1="449.4" x2="190.4" y2="530.4" stroke="#b8b8b8" stroke-width="0.55"/>
<line x1="163.6" y1="449.4" x2="227.1" y2="530.4" stroke="#b8b8b8" stroke-width="0.55"/>
<line x1="208.7" y1="449.4" x2="249.5" y2="530.4" stroke="#b8b8b8" stroke-width="0.55"/>
<line x1="178.5" y1="449.4" x2="217.9" y2="530.4" stroke="#b8b8b8" stroke-width="0.55"/>
<line x1="236.9" y1="449.4" x2="170.6" y2="530.4" stroke="#b8b8b8" stroke-width="0.55"/>
<circle cx="143.3" cy="369.1" r="3.6" fill="#555" fill-opacity="0.3"/><circle cx="155.5" cy="369.1" r="3.6" fill="#555" fill-opacity="0.3"/><circle cx="164.3" cy="369.1" r="3.6" fill="#555" fill-opacity="0.3"/><circle cx="167.8" cy="369.1" r="3.6" fill="#555" fill-opacity="0.3"/><circle cx="170.4" cy="369.1" r="3.6" fill="#555" fill-opacity="0.3"/><circle cx="180.9" cy="369.1" r="3.6" fill="#555" fill-opacity="0.3"/><circle cx="186.2" cy="369.1" r="3.6" fill="#555" fill-opacity="0.3"/><circle cx="188.8" cy="369.1" r="3.6" fill="#555" fill-opacity="0.3"/><circle cx="192.3" cy="369.1" r="3.6" fill="#555" fill-opacity="0.3"/><circle cx="195.8" cy="369.1" r="3.6" fill="#555" fill-opacity="0.3"/><circle cx="198.4" cy="369.1" r="3.6" fill="#555" fill-opacity="0.3"/><circle cx="202" cy="369.1" r="3.6" fill="#555" fill-opacity="0.3"/><circle cx="205.4" cy="369.1" r="3.6" fill="#555" fill-opacity="0.3"/><circle cx="209.8" cy="369.1" r="3.6" fill="#555" fill-opacity="0.3"/><circle cx="216" cy="369.1" r="3.6" fill="#555" fill-opacity="0.3"/><circle cx="224.7" cy="369.1" r="3.6" fill="#555" fill-opacity="0.3"/><circle cx="232.6" cy="369.1" r="3.6" fill="#555" fill-opacity="0.3"/><circle cx="242.2" cy="369.1" r="3.6" fill="#555" fill-opacity="0.3"/><circle cx="247.5" cy="369.1" r="3.6" fill="#555" fill-opacity="0.3"/><circle cx="251.9" cy="369.1" r="3.6" fill="#555" fill-opacity="0.3"/><circle cx="186.2" cy="369.1" r="3.6" fill="#555" fill-opacity="0.3"/><circle cx="190" cy="369.1" r="3.6" fill="#555" fill-opacity="0.3"/><circle cx="195.8" cy="369.1" r="3.6" fill="#555" fill-opacity="0.3"/><circle cx="198.4" cy="369.1" r="3.6" fill="#555" fill-opacity="0.3"/><circle cx="202" cy="369.1" r="3.6" fill="#555" fill-opacity="0.3"/><circle cx="205.4" cy="369.1" r="3.6" fill="#555" fill-opacity="0.3"/><circle cx="193" cy="369.1" r="3.6" fill="#555" fill-opacity="0.3"/><circle cx="189.5" cy="369.1" r="3.6" fill="#555" fill-opacity="0.3"/><circle cx="248" cy="369.1" r="3.6" fill="#555" fill-opacity="0.3"/>
<circle cx="101.5" cy="449.4" r="3.6" fill="#555" fill-opacity="0.27"/><circle cx="182.5" cy="449.4" r="3.6" fill="#555" fill-opacity="0.27"/><circle cx="149.6" cy="449.4" r="3.6" fill="#555" fill-opacity="0.27"/><circle cx="237.6" cy="449.4" r="3.6" fill="#555" fill-opacity="0.27"/><circle cx="143.1" cy="449.4" r="3.6" fill="#555" fill-opacity="0.27"/><circle cx="148.8" cy="449.4" r="3.6" fill="#555" fill-opacity="0.27"/><circle cx="157.5" cy="449.4" r="3.6" fill="#555" fill-opacity="0.27"/><circle cx="157.5" cy="449.4" r="3.6" fill="#555" fill-opacity="0.27"/><circle cx="163.6" cy="449.4" r="3.6" fill="#555" fill-opacity="0.27"/><circle cx="171.4" cy="449.4" r="3.6" fill="#555" fill-opacity="0.27"/><circle cx="171.4" cy="449.4" r="3.6" fill="#555" fill-opacity="0.27"/><circle cx="178.5" cy="449.4" r="3.6" fill="#555" fill-opacity="0.27"/><circle cx="189" cy="449.4" r="3.6" fill="#555" fill-opacity="0.27"/><circle cx="189" cy="449.4" r="3.6" fill="#555" fill-opacity="0.27"/><circle cx="196.9" cy="449.4" r="3.6" fill="#555" fill-opacity="0.27"/><circle cx="196.9" cy="449.4" r="3.6" fill="#555" fill-opacity="0.27"/><circle cx="203.5" cy="449.4" r="3.6" fill="#555" fill-opacity="0.27"/><circle cx="203.5" cy="449.4" r="3.6" fill="#555" fill-opacity="0.27"/><circle cx="208.7" cy="449.4" r="3.6" fill="#555" fill-opacity="0.27"/><circle cx="214" cy="449.4" r="3.6" fill="#555" fill-opacity="0.27"/><circle cx="214" cy="449.4" r="3.6" fill="#555" fill-opacity="0.27"/><circle cx="220.6" cy="449.4" r="3.6" fill="#555" fill-opacity="0.27"/><circle cx="220.6" cy="449.4" r="3.6" fill="#555" fill-opacity="0.27"/><circle cx="228.4" cy="449.4" r="3.6" fill="#555" fill-opacity="0.27"/><circle cx="228.4" cy="449.4" r="3.6" fill="#555" fill-opacity="0.27"/><circle cx="236.9" cy="449.4" r="3.6" fill="#555" fill-opacity="0.27"/><circle cx="244.2" cy="449.4" r="3.6" fill="#555" fill-opacity="0.27"/><circle cx="244.2" cy="449.4" r="3.6" fill="#555" fill-opacity="0.27"/><circle cx="163.6" cy="449.4" r="3.6" fill="#555" fill-opacity="0.27"/><circle cx="208.7" cy="449.4" r="3.6" fill="#555" fill-opacity="0.27"/><circle cx="178.5" cy="449.4" r="3.6" fill="#555" fill-opacity="0.27"/><circle cx="236.9" cy="449.4" r="3.6" fill="#555" fill-opacity="0.27"/>
<circle cx="143.1" cy="530.4" r="3.6" fill="#555" fill-opacity="0.27"/><circle cx="85.8" cy="530.4" r="3.6" fill="#555" fill-opacity="0.27"/><circle cx="149.6" cy="530.4" r="3.6" fill="#555" fill-opacity="0.27"/><circle cx="237.6" cy="530.4" r="3.6" fill="#555" fill-opacity="0.27"/><circle cx="170.6" cy="530.4" r="3.6" fill="#555" fill-opacity="0.27"/><circle cx="207.4" cy="530.4" r="3.6" fill="#555" fill-opacity="0.27"/><circle cx="193.5" cy="530.4" r="3.6" fill="#555" fill-opacity="0.27"/><circle cx="133.9" cy="530.4" r="3.6" fill="#555" fill-opacity="0.27"/><circle cx="214" cy="530.4" r="3.6" fill="#555" fill-opacity="0.27"/><circle cx="145.7" cy="530.4" r="3.6" fill="#555" fill-opacity="0.27"/><circle cx="231.1" cy="530.4" r="3.6" fill="#555" fill-opacity="0.27"/><circle cx="158.8" cy="530.4" r="3.6" fill="#555" fill-opacity="0.27"/><circle cx="217.9" cy="530.4" r="3.6" fill="#555" fill-opacity="0.27"/><circle cx="179.3" cy="530.4" r="3.6" fill="#555" fill-opacity="0.27"/><circle cx="249.5" cy="530.4" r="3.6" fill="#555" fill-opacity="0.27"/><circle cx="190.4" cy="530.4" r="3.6" fill="#555" fill-opacity="0.27"/><circle cx="145.7" cy="530.4" r="3.6" fill="#555" fill-opacity="0.27"/><circle cx="227.1" cy="530.4" r="3.6" fill="#555" fill-opacity="0.27"/><circle cx="170.6" cy="530.4" r="3.6" fill="#555" fill-opacity="0.27"/><circle cx="198.2" cy="530.4" r="3.6" fill="#555" fill-opacity="0.27"/><circle cx="133.9" cy="530.4" r="3.6" fill="#555" fill-opacity="0.27"/><circle cx="179.3" cy="530.4" r="3.6" fill="#555" fill-opacity="0.27"/><circle cx="237.6" cy="530.4" r="3.6" fill="#555" fill-opacity="0.27"/><circle cx="158.8" cy="530.4" r="3.6" fill="#555" fill-opacity="0.27"/><circle cx="193.5" cy="530.4" r="3.6" fill="#555" fill-opacity="0.27"/><circle cx="207.4" cy="530.4" r="3.6" fill="#555" fill-opacity="0.27"/><circle cx="214" cy="530.4" r="3.6" fill="#555" fill-opacity="0.27"/><circle cx="190.4" cy="530.4" r="3.6" fill="#555" fill-opacity="0.27"/><circle cx="227.1" cy="530.4" r="3.6" fill="#555" fill-opacity="0.27"/><circle cx="249.5" cy="530.4" r="3.6" fill="#555" fill-opacity="0.27"/><circle cx="217.9" cy="530.4" r="3.6" fill="#555" fill-opacity="0.27"/><circle cx="170.6" cy="530.4" r="3.6" fill="#555" fill-opacity="0.27"/>
<line x1="198.5" y1="462.1" x2="187.7" y2="517.6" stroke="#333" stroke-width="1.1"/>
<line x1="195.5" y1="380.9" x2="204.2" y2="380.9" stroke="#333" stroke-width="0.9"/><line x1="195.5" y1="375.4" x2="195.5" y2="386.4" stroke="#333" stroke-width="0.9"/><line x1="204.2" y1="375.4" x2="204.2" y2="386.4" stroke="#333" stroke-width="0.9"/><circle cx="199.3" cy="380.9" r="3.9" fill="#dcdcdc" stroke="#333" stroke-width="0.9"/>
<line x1="193" y1="462.1" x2="204.2" y2="462.1" stroke="#333" stroke-width="0.9"/><line x1="193" y1="456.6" x2="193" y2="467.6" stroke="#333" stroke-width="0.9"/><line x1="204.2" y1="456.6" x2="204.2" y2="467.6" stroke="#333" stroke-width="0.9"/><circle cx="198.5" cy="462.1" r="3.9" fill="#97a8bc" stroke="#333" stroke-width="0.9"/>
<line x1="182" y1="517.6" x2="193.5" y2="517.6" stroke="#333" stroke-width="0.9"/><line x1="182" y1="512.1" x2="182" y2="523.1" stroke="#333" stroke-width="0.9"/><line x1="193.5" y1="512.1" x2="193.5" y2="523.1" stroke="#333" stroke-width="0.9"/><circle cx="187.7" cy="517.6" r="3.9" fill="#b59a9e" stroke="#333" stroke-width="0.9"/>
<path d="M306.4,448.5 L309.5,448.5 L309.5,530.5 L306.4,530.5" fill="none" stroke="#7a7a7a" stroke-width="1"/>
<text transform="translate(313.2,480.6) rotate(90)" font-size="13.6" fill="#444" textLength="14.6" lengthAdjust="spacingAndGlyphs">ns</text>
<path d="M56.5,303 L56.5,583.1 L340.4,583.1" fill="none" stroke="#2e2e2e" stroke-width="1.3"/>
<line x1="77" y1="583" x2="77" y2="586.8" stroke="#2e2e2e" stroke-width="1.1"/>
<line x1="199.4" y1="583" x2="199.4" y2="586.8" stroke="#2e2e2e" stroke-width="1.1"/>
<line x1="313.5" y1="583" x2="313.5" y2="586.8" stroke="#2e2e2e" stroke-width="1.1"/>
<text x="63.8" y="597.9" font-size="12.4" fill="#666" textLength="23.3" lengthAdjust="spacingAndGlyphs">0.25</text>
<text x="188.8" y="597.9" font-size="12.4" fill="#666" textLength="23.3" lengthAdjust="spacingAndGlyphs">0.50</text>
<text x="298.8" y="597.9" font-size="12.4" fill="#666" textLength="23.3" lengthAdjust="spacingAndGlyphs">0.75</text>
<text x="131.8" y="611.4" font-size="13.4" font-weight="bold" fill="#111" stroke="#111" stroke-width="0.3" textLength="134.6" lengthAdjust="spacingAndGlyphs">P(rightward saccade)</text>
<text x="21.5" y="351.3" font-size="12.2" fill="#666" textLength="29.3" lengthAdjust="spacingAndGlyphs">sham</text>
<text x="13.2" y="445.3" font-size="12.2" fill="#666" textLength="37.1" lengthAdjust="spacingAndGlyphs">left M1</text>
<text x="4.3" y="531" font-size="12.2" fill="#666" textLength="46" lengthAdjust="spacingAndGlyphs">right M1</text>
<path d="M401.2,380.5 L575.5,380.5 L575.5,583 L509,583 L509,508.8 L401.2,508.8 Z" fill="#dce3ea"/>
<line x1="543.3" y1="306" x2="543.3" y2="583" stroke="#2e2e2e" stroke-width="1.1" stroke-dasharray="2.2,2.2"/>
<line x1="401.2" y1="444.2" x2="685" y2="444.2" stroke="#2e2e2e" stroke-width="1.1" stroke-dasharray="2.2,2.2"/>
<polyline points="415.7,571.9 453.1,563.8 477,553.5 496.1,543.3 514.9,519 533,472.2 543.3,427.1 554.1,424.5 571.9,368.4 591,337.4 609.6,323.4 633.5,321 671.3,318.8" fill="none" stroke="#97a8bc" stroke-width="1.5"/>
<polyline points="415.7,571.9 453.1,568.1 477,560.7 496.1,549.5 514.9,522.1 533,478.4 543.3,462.8 554.1,424.8 571.9,371.2 591,343.4 609.6,328.6 633.5,322.3 671.3,318.8" fill="none" stroke="#b59a9e" stroke-width="1.5"/>
<circle cx="415.7" cy="571.9" r="3.1" fill="#97a8bc" stroke="#444" stroke-width="0.7"/>
<path d="M453.1,562.0 L453.1,565.5999999999999 M450.90000000000003,562.0 L455.3,562.0 M450.90000000000003,565.5999999999999 L455.3,565.5999999999999" stroke="#222" stroke-width="0.8" fill="none"/>
<circle cx="453.1" cy="563.8" r="3.1" fill="#97a8bc" stroke="#444" stroke-width="0.7"/>
<path d="M477,551.0 L477,556.0 M474.8,551.0 L479.2,551.0 M474.8,556.0 L479.2,556.0" stroke="#222" stroke-width="0.8" fill="none"/>
<circle cx="477" cy="553.5" r="3.1" fill="#97a8bc" stroke="#444" stroke-width="0.7"/>
<path d="M496.1,539.5 L496.1,547.0999999999999 M493.90000000000003,539.5 L498.3,539.5 M493.90000000000003,547.0999999999999 L498.3,547.0999999999999" stroke="#222" stroke-width="0.8" fill="none"/>
<circle cx="496.1" cy="543.3" r="3.1" fill="#97a8bc" stroke="#444" stroke-width="0.7"/>
<path d="M514.9,514.5 L514.9,523.5 M512.6999999999999,514.5 L517.1,514.5 M512.6999999999999,523.5 L517.1,523.5" stroke="#222" stroke-width="0.8" fill="none"/>
<circle cx="514.9" cy="519" r="3.1" fill="#97a8bc" stroke="#444" stroke-width="0.7"/>
<path d="M533,469.2 L533,475.2 M530.8,469.2 L535.2,469.2 M530.8,475.2 L535.2,475.2" stroke="#222" stroke-width="0.8" fill="none"/>
<circle cx="533" cy="472.2" r="3.1" fill="#97a8bc" stroke="#444" stroke-width="0.7"/>
<path d="M543.3,417.1 L543.3,437.1 M541.0999999999999,417.1 L545.5,417.1 M541.0999999999999,437.1 L545.5,437.1" stroke="#222" stroke-width="0.8" fill="none"/>
<circle cx="543.3" cy="427.1" r="3.1" fill="#97a8bc" stroke="#444" stroke-width="0.7"/>
<path d="M554.1,421.5 L554.1,427.5 M551.9,421.5 L556.3000000000001,421.5 M551.9,427.5 L556.3000000000001,427.5" stroke="#222" stroke-width="0.8" fill="none"/>
<circle cx="554.1" cy="424.5" r="3.1" fill="#97a8bc" stroke="#444" stroke-width="0.7"/>
<path d="M571.9,365.4 L571.9,371.4 M569.6999999999999,365.4 L574.1,365.4 M569.6999999999999,371.4 L574.1,371.4" stroke="#222" stroke-width="0.8" fill="none"/>
<circle cx="571.9" cy="368.4" r="3.1" fill="#97a8bc" stroke="#444" stroke-width="0.7"/>
<path d="M591,334.4 L591,340.4 M588.8,334.4 L593.2,334.4 M588.8,340.4 L593.2,340.4" stroke="#222" stroke-width="0.8" fill="none"/>
<circle cx="591" cy="337.4" r="3.1" fill="#97a8bc" stroke="#444" stroke-width="0.7"/>
<path d="M609.6,320.4 L609.6,326.4 M607.4,320.4 L611.8000000000001,320.4 M607.4,326.4 L611.8000000000001,326.4" stroke="#222" stroke-width="0.8" fill="none"/>
<circle cx="609.6" cy="323.4" r="3.1" fill="#97a8bc" stroke="#444" stroke-width="0.7"/>
<path d="M633.5,319.5 L633.5,322.5 M631.3,319.5 L635.7,319.5 M631.3,322.5 L635.7,322.5" stroke="#222" stroke-width="0.8" fill="none"/>
<circle cx="633.5" cy="321" r="3.1" fill="#97a8bc" stroke="#444" stroke-width="0.7"/>
<circle cx="671.3" cy="318.8" r="3.1" fill="#97a8bc" stroke="#444" stroke-width="0.7"/>
<circle cx="415.7" cy="571.9" r="3.1" fill="#b59a9e" stroke="#444" stroke-width="0.7"/>
<path d="M453.1,566.6 L453.1,569.6 M450.90000000000003,566.6 L455.3,566.6 M450.90000000000003,569.6 L455.3,569.6" stroke="#222" stroke-width="0.8" fill="none"/>
<circle cx="453.1" cy="568.1" r="3.1" fill="#b59a9e" stroke="#444" stroke-width="0.7"/>
<path d="M477,558.5 L477,562.9000000000001 M474.8,558.5 L479.2,558.5 M474.8,562.9000000000001 L479.2,562.9000000000001" stroke="#222" stroke-width="0.8" fill="none"/>
<circle cx="477" cy="560.7" r="3.1" fill="#b59a9e" stroke="#444" stroke-width="0.7"/>
<path d="M496.1,545.3 L496.1,553.7 M493.90000000000003,545.3 L498.3,545.3 M493.90000000000003,553.7 L498.3,553.7" stroke="#222" stroke-width="0.8" fill="none"/>
<circle cx="496.1" cy="549.5" r="3.1" fill="#b59a9e" stroke="#444" stroke-width="0.7"/>
<path d="M514.9,517.1 L514.9,527.1 M512.6999999999999,517.1 L517.1,517.1 M512.6999999999999,527.1 L517.1,527.1" stroke="#222" stroke-width="0.8" fill="none"/>
<circle cx="514.9" cy="522.1" r="3.1" fill="#b59a9e" stroke="#444" stroke-width="0.7"/>
<path d="M533,475.4 L533,481.4 M530.8,475.4 L535.2,475.4 M530.8,481.4 L535.2,481.4" stroke="#222" stroke-width="0.8" fill="none"/>
<circle cx="533" cy="478.4" r="3.1" fill="#b59a9e" stroke="#444" stroke-width="0.7"/>
<path d="M543.3,451.2 L543.3,474.40000000000003 M541.0999999999999,451.2 L545.5,451.2 M541.0999999999999,474.40000000000003 L545.5,474.40000000000003" stroke="#222" stroke-width="0.8" fill="none"/>
<circle cx="543.3" cy="462.8" r="3.1" fill="#b59a9e" stroke="#444" stroke-width="0.7"/>
<path d="M554.1,419.2 L554.1,430.40000000000003 M551.9,419.2 L556.3000000000001,419.2 M551.9,430.40000000000003 L556.3000000000001,430.40000000000003" stroke="#222" stroke-width="0.8" fill="none"/>
<circle cx="554.1" cy="424.8" r="3.1" fill="#b59a9e" stroke="#444" stroke-width="0.7"/>
<path d="M571.9,368.2 L571.9,374.2 M569.6999999999999,368.2 L574.1,368.2 M569.6999999999999,374.2 L574.1,374.2" stroke="#222" stroke-width="0.8" fill="none"/>
<circle cx="571.9" cy="371.2" r="3.1" fill="#b59a9e" stroke="#444" stroke-width="0.7"/>
<path d="M591,339.59999999999997 L591,347.2 M588.8,339.59999999999997 L593.2,339.59999999999997 M588.8,347.2 L593.2,347.2" stroke="#222" stroke-width="0.8" fill="none"/>
<circle cx="591" cy="343.4" r="3.1" fill="#b59a9e" stroke="#444" stroke-width="0.7"/>
<path d="M609.6,325.6 L609.6,331.6 M607.4,325.6 L611.8000000000001,325.6 M607.4,331.6 L611.8000000000001,331.6" stroke="#222" stroke-width="0.8" fill="none"/>
<circle cx="609.6" cy="328.6" r="3.1" fill="#b59a9e" stroke="#444" stroke-width="0.7"/>
<path d="M633.5,320.8 L633.5,323.8 M631.3,320.8 L635.7,320.8 M631.3,323.8 L635.7,323.8" stroke="#222" stroke-width="0.8" fill="none"/>
<circle cx="633.5" cy="322.3" r="3.1" fill="#b59a9e" stroke="#444" stroke-width="0.7"/>
<circle cx="671.3" cy="318.8" r="3.1" fill="#b59a9e" stroke="#444" stroke-width="0.7"/>
<rect x="613.9" y="547" width="9.7" height="9.3" fill="#97a8bc"/>
<rect x="613.9" y="564.5" width="9.7" height="9.3" fill="#b59a9e"/>
<text x="626.7" y="554.4" font-size="12.2" fill="#555" textLength="36.8" lengthAdjust="spacingAndGlyphs">left M1</text>
<text x="626.7" y="571.6" font-size="12.2" fill="#555" textLength="45.3" lengthAdjust="spacingAndGlyphs">right M1</text>
<path d="M401.2,302.6 L401.2,583.2 L685,583.2" fill="none" stroke="#2e2e2e" stroke-width="1.3"/>
<line x1="397.6" y1="315.5" x2="401.2" y2="315.5" stroke="#2e2e2e" stroke-width="1.1"/>
<text x="370.8" y="319.9" font-size="12.4" fill="#666" textLength="23.9" lengthAdjust="spacingAndGlyphs">1.00</text>
<line x1="397.6" y1="380" x2="401.2" y2="380" stroke="#2e2e2e" stroke-width="1.1"/>
<text x="370.8" y="384.4" font-size="12.4" fill="#666" textLength="23.9" lengthAdjust="spacingAndGlyphs">0.75</text>
<line x1="397.6" y1="444.2" x2="401.2" y2="444.2" stroke="#2e2e2e" stroke-width="1.1"/>
<text x="370.8" y="448.59999999999997" font-size="12.4" fill="#666" textLength="23.9" lengthAdjust="spacingAndGlyphs">0.50</text>
<line x1="397.6" y1="507.9" x2="401.2" y2="507.9" stroke="#2e2e2e" stroke-width="1.1"/>
<text x="370.8" y="512.3" font-size="12.4" fill="#666" textLength="23.9" lengthAdjust="spacingAndGlyphs">0.25</text>
<line x1="397.6" y1="572.6" x2="401.2" y2="572.6" stroke="#2e2e2e" stroke-width="1.1"/>
<text x="370.8" y="577.0" font-size="12.4" fill="#666" textLength="23.9" lengthAdjust="spacingAndGlyphs">0.00</text>
<line x1="431" y1="583" x2="431" y2="586.8" stroke="#2e2e2e" stroke-width="1.1"/>
<line x1="468.4" y1="583" x2="468.4" y2="586.8" stroke="#2e2e2e" stroke-width="1.1"/>
<line x1="506" y1="583" x2="506" y2="586.8" stroke="#2e2e2e" stroke-width="1.1"/>
<line x1="543.5" y1="583" x2="543.5" y2="586.8" stroke="#2e2e2e" stroke-width="1.1"/>
<line x1="581.2" y1="583" x2="581.2" y2="586.8" stroke="#2e2e2e" stroke-width="1.1"/>
<line x1="618.7" y1="583" x2="618.7" y2="586.8" stroke="#2e2e2e" stroke-width="1.1"/>
<line x1="656.4" y1="583" x2="656.4" y2="586.8" stroke="#2e2e2e" stroke-width="1.1"/>
<text x="456" y="597.9" font-size="12.4" fill="#666" textLength="24" lengthAdjust="spacingAndGlyphs">-100</text>
<text x="543.6" y="597.9" font-size="12.4" fill="#666" text-anchor="middle">0</text>
<text x="608" y="597.9" font-size="12.4" fill="#666" textLength="21.6" lengthAdjust="spacingAndGlyphs">100</text>
<text x="521.5" y="612.2" font-size="13.4" font-weight="bold" fill="#111" stroke="#111" stroke-width="0.3" textLength="59.8" lengthAdjust="spacingAndGlyphs">SOA (ms)</text>
<text transform="translate(365.5,510.6) rotate(-90)" font-size="13.4" font-weight="bold" fill="#111" stroke="#111" stroke-width="0.3" textLength="138.9" lengthAdjust="spacingAndGlyphs">P(rightward saccade)</text>
</svg></body></html>
